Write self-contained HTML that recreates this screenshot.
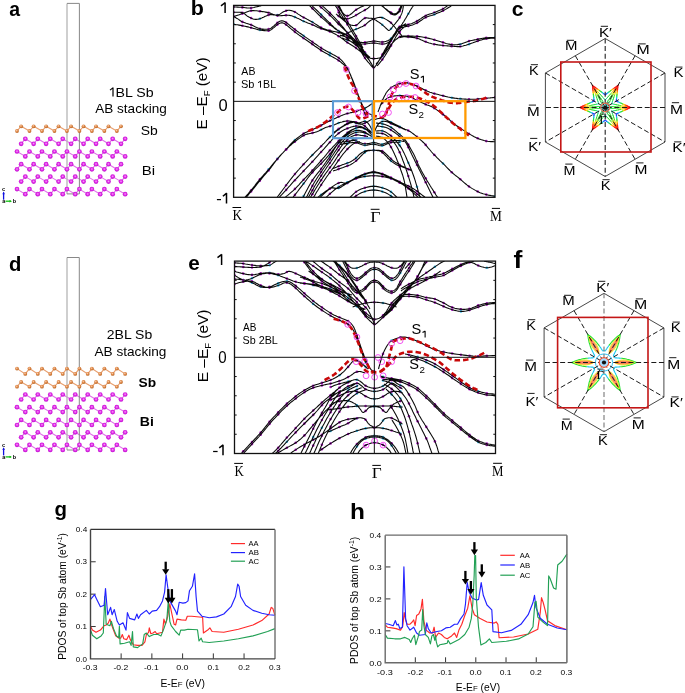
<!DOCTYPE html><html><head><meta charset="utf-8"><style>html,body{margin:0;padding:0;background:#fff;overflow:hidden;}svg{display:block;will-change:transform;}</style></head><body><svg width="685" height="693" viewBox="0 0 685 693">
<defs><radialGradient id="gbi" cx="0.5" cy="0.45" r="0.6"><stop offset="0" stop-color="#f7a8f7"/><stop offset="0.45" stop-color="#e028e8"/><stop offset="1" stop-color="#b810c8"/></radialGradient><radialGradient id="gsb" cx="0.42" cy="0.38" r="0.62"><stop offset="0" stop-color="#f8d0b0"/><stop offset="0.5" stop-color="#e08848"/><stop offset="1" stop-color="#b86828"/></radialGradient><clipPath id="clipb"><rect x="233.6" y="5.4" width="261.4" height="191.9"/></clipPath><clipPath id="clipe"><rect x="234.5" y="261.1" width="261" height="192.4"/></clipPath></defs>
<rect width="685" height="693" fill="#fff"/>
<text x="9.24" y="16.40" font-family='"Liberation Sans", sans-serif' font-size="20.5" font-weight="bold" textLength="10.83" lengthAdjust="spacingAndGlyphs" >a</text>
<text x="190.79" y="14.60" font-family='"Liberation Sans", sans-serif' font-size="20.5" font-weight="bold" textLength="13.09" lengthAdjust="spacingAndGlyphs" >b</text>
<text x="511.88" y="15.70" font-family='"Liberation Sans", sans-serif' font-size="20.5" font-weight="bold" textLength="11.74" lengthAdjust="spacingAndGlyphs" >c</text>
<text x="9.07" y="270.50" font-family='"Liberation Sans", sans-serif' font-size="20.5" font-weight="bold" textLength="12.36" lengthAdjust="spacingAndGlyphs" >d</text>
<text x="188.39" y="269.70" font-family='"Liberation Sans", sans-serif' font-size="20.5" font-weight="bold" textLength="11.51" lengthAdjust="spacingAndGlyphs" >e</text>
<text x="513.55" y="268.30" font-family='"Liberation Sans", sans-serif' font-size="23.3" font-weight="bold" textLength="8.90" lengthAdjust="spacingAndGlyphs" >f</text>
<text x="54.46" y="515.80" font-family='"Liberation Sans", sans-serif' font-size="20.8" font-weight="bold" textLength="12.51" lengthAdjust="spacingAndGlyphs" >g</text>
<text x="349.99" y="518.60" font-family='"Liberation Sans", sans-serif' font-size="22.3" font-weight="bold" textLength="14.92" lengthAdjust="spacingAndGlyphs" >h</text>
<path d="M17.0,131.0 21.1,126.3 29.5,131.0 33.6,126.3 42.0,131.0 46.1,126.3 54.4,131.0 58.6,126.3 66.9,131.0 71.1,126.3 79.4,131.0 83.6,126.3 91.9,131.0 96.0,126.3 104.4,131.0 108.5,126.3 116.8,131.0 121.0,126.3" fill="none" stroke="#e8a070" stroke-width="1.1"/>
<path d="M21.1,143.8 25.3,138.8 33.6,143.8 37.8,138.8 46.1,143.8 50.3,138.8 58.6,143.8 62.7,138.8 71.1,143.8 75.2,138.8 83.6,143.8 87.7,138.8 96.0,143.8 100.2,138.8 108.5,143.8 112.7,138.8 121.0,143.8 125.1,138.8" fill="none" stroke="#e070e8" stroke-width="1.1"/>
<path d="M17.0,151.5 25.3,156.4 29.5,151.5 37.8,156.4 42.0,151.5 50.3,156.4 54.4,151.5 62.7,156.4 66.9,151.5 75.2,156.4 79.4,151.5 87.7,156.4 91.9,151.5 100.2,156.4 104.4,151.5 112.7,156.4 116.8,151.5 125.1,156.4" fill="none" stroke="#e070e8" stroke-width="1.1"/>
<path d="M17.0,169.3 21.1,164.2 29.5,169.3 33.6,164.2 42.0,169.3 46.1,164.2 54.4,169.3 58.6,164.2 66.9,169.3 71.1,164.2 79.4,169.3 83.6,164.2 91.9,169.3 96.0,164.2 104.4,169.3 108.5,164.2 116.8,169.3 121.0,164.2" fill="none" stroke="#e070e8" stroke-width="1.1"/>
<path d="M21.1,181.6 25.3,176.6 33.6,181.6 37.8,176.6 46.1,181.6 50.3,176.6 58.6,181.6 62.7,176.6 71.1,181.6 75.2,176.6 83.6,181.6 87.7,176.6 96.0,181.6 100.2,176.6 108.5,181.6 112.7,176.6 121.0,181.6 125.1,176.6" fill="none" stroke="#e070e8" stroke-width="1.1"/>
<path d="M17.0,189.1 25.3,194.2 29.5,189.1 37.8,194.2 42.0,189.1 50.3,194.2 54.4,189.1 62.7,194.2 66.9,189.1 75.2,194.2 79.4,189.1 87.7,194.2 91.9,189.1 100.2,194.2 104.4,189.1 112.7,194.2 116.8,189.1 125.1,194.2" fill="none" stroke="#e070e8" stroke-width="1.1"/>
<line x1="67.0" y1="3.4" x2="67.0" y2="193.9" stroke="#bbb" stroke-width="1.4"/>
<path d="M67.0,3.4 L79.4,3.4 L79.4,193.9 L67.0,193.9" fill="none" stroke="#888" stroke-width="1"/>
<circle cx="17.00" cy="131.00" r="1.9" fill="url(#gsb)"/>
<circle cx="21.15" cy="126.30" r="1.9" fill="url(#gsb)"/>
<circle cx="29.48" cy="131.00" r="1.9" fill="url(#gsb)"/>
<circle cx="33.63" cy="126.30" r="1.9" fill="url(#gsb)"/>
<circle cx="41.96" cy="131.00" r="1.9" fill="url(#gsb)"/>
<circle cx="46.11" cy="126.30" r="1.9" fill="url(#gsb)"/>
<circle cx="54.44" cy="131.00" r="1.9" fill="url(#gsb)"/>
<circle cx="58.59" cy="126.30" r="1.9" fill="url(#gsb)"/>
<circle cx="66.92" cy="131.00" r="1.9" fill="url(#gsb)"/>
<circle cx="71.07" cy="126.30" r="1.9" fill="url(#gsb)"/>
<circle cx="79.40" cy="131.00" r="1.9" fill="url(#gsb)"/>
<circle cx="83.55" cy="126.30" r="1.9" fill="url(#gsb)"/>
<circle cx="91.88" cy="131.00" r="1.9" fill="url(#gsb)"/>
<circle cx="96.03" cy="126.30" r="1.9" fill="url(#gsb)"/>
<circle cx="104.36" cy="131.00" r="1.9" fill="url(#gsb)"/>
<circle cx="108.51" cy="126.30" r="1.9" fill="url(#gsb)"/>
<circle cx="116.84" cy="131.00" r="1.9" fill="url(#gsb)"/>
<circle cx="120.99" cy="126.30" r="1.9" fill="url(#gsb)"/>
<circle cx="21.15" cy="143.80" r="2.35" fill="url(#gbi)"/>
<circle cx="25.30" cy="138.80" r="2.35" fill="url(#gbi)"/>
<circle cx="33.63" cy="143.80" r="2.35" fill="url(#gbi)"/>
<circle cx="37.78" cy="138.80" r="2.35" fill="url(#gbi)"/>
<circle cx="46.11" cy="143.80" r="2.35" fill="url(#gbi)"/>
<circle cx="50.26" cy="138.80" r="2.35" fill="url(#gbi)"/>
<circle cx="58.59" cy="143.80" r="2.35" fill="url(#gbi)"/>
<circle cx="62.74" cy="138.80" r="2.35" fill="url(#gbi)"/>
<circle cx="71.07" cy="143.80" r="2.35" fill="url(#gbi)"/>
<circle cx="75.22" cy="138.80" r="2.35" fill="url(#gbi)"/>
<circle cx="83.55" cy="143.80" r="2.35" fill="url(#gbi)"/>
<circle cx="87.70" cy="138.80" r="2.35" fill="url(#gbi)"/>
<circle cx="96.03" cy="143.80" r="2.35" fill="url(#gbi)"/>
<circle cx="100.18" cy="138.80" r="2.35" fill="url(#gbi)"/>
<circle cx="108.51" cy="143.80" r="2.35" fill="url(#gbi)"/>
<circle cx="112.66" cy="138.80" r="2.35" fill="url(#gbi)"/>
<circle cx="120.99" cy="143.80" r="2.35" fill="url(#gbi)"/>
<circle cx="125.14" cy="138.80" r="2.35" fill="url(#gbi)"/>
<circle cx="17.00" cy="151.50" r="2.35" fill="url(#gbi)"/>
<circle cx="25.30" cy="156.40" r="2.35" fill="url(#gbi)"/>
<circle cx="29.48" cy="151.50" r="2.35" fill="url(#gbi)"/>
<circle cx="37.78" cy="156.40" r="2.35" fill="url(#gbi)"/>
<circle cx="41.96" cy="151.50" r="2.35" fill="url(#gbi)"/>
<circle cx="50.26" cy="156.40" r="2.35" fill="url(#gbi)"/>
<circle cx="54.44" cy="151.50" r="2.35" fill="url(#gbi)"/>
<circle cx="62.74" cy="156.40" r="2.35" fill="url(#gbi)"/>
<circle cx="66.92" cy="151.50" r="2.35" fill="url(#gbi)"/>
<circle cx="75.22" cy="156.40" r="2.35" fill="url(#gbi)"/>
<circle cx="79.40" cy="151.50" r="2.35" fill="url(#gbi)"/>
<circle cx="87.70" cy="156.40" r="2.35" fill="url(#gbi)"/>
<circle cx="91.88" cy="151.50" r="2.35" fill="url(#gbi)"/>
<circle cx="100.18" cy="156.40" r="2.35" fill="url(#gbi)"/>
<circle cx="104.36" cy="151.50" r="2.35" fill="url(#gbi)"/>
<circle cx="112.66" cy="156.40" r="2.35" fill="url(#gbi)"/>
<circle cx="116.84" cy="151.50" r="2.35" fill="url(#gbi)"/>
<circle cx="125.14" cy="156.40" r="2.35" fill="url(#gbi)"/>
<circle cx="17.00" cy="169.30" r="2.35" fill="url(#gbi)"/>
<circle cx="21.15" cy="164.20" r="2.35" fill="url(#gbi)"/>
<circle cx="29.48" cy="169.30" r="2.35" fill="url(#gbi)"/>
<circle cx="33.63" cy="164.20" r="2.35" fill="url(#gbi)"/>
<circle cx="41.96" cy="169.30" r="2.35" fill="url(#gbi)"/>
<circle cx="46.11" cy="164.20" r="2.35" fill="url(#gbi)"/>
<circle cx="54.44" cy="169.30" r="2.35" fill="url(#gbi)"/>
<circle cx="58.59" cy="164.20" r="2.35" fill="url(#gbi)"/>
<circle cx="66.92" cy="169.30" r="2.35" fill="url(#gbi)"/>
<circle cx="71.07" cy="164.20" r="2.35" fill="url(#gbi)"/>
<circle cx="79.40" cy="169.30" r="2.35" fill="url(#gbi)"/>
<circle cx="83.55" cy="164.20" r="2.35" fill="url(#gbi)"/>
<circle cx="91.88" cy="169.30" r="2.35" fill="url(#gbi)"/>
<circle cx="96.03" cy="164.20" r="2.35" fill="url(#gbi)"/>
<circle cx="104.36" cy="169.30" r="2.35" fill="url(#gbi)"/>
<circle cx="108.51" cy="164.20" r="2.35" fill="url(#gbi)"/>
<circle cx="116.84" cy="169.30" r="2.35" fill="url(#gbi)"/>
<circle cx="120.99" cy="164.20" r="2.35" fill="url(#gbi)"/>
<circle cx="21.15" cy="181.60" r="2.35" fill="url(#gbi)"/>
<circle cx="25.30" cy="176.60" r="2.35" fill="url(#gbi)"/>
<circle cx="33.63" cy="181.60" r="2.35" fill="url(#gbi)"/>
<circle cx="37.78" cy="176.60" r="2.35" fill="url(#gbi)"/>
<circle cx="46.11" cy="181.60" r="2.35" fill="url(#gbi)"/>
<circle cx="50.26" cy="176.60" r="2.35" fill="url(#gbi)"/>
<circle cx="58.59" cy="181.60" r="2.35" fill="url(#gbi)"/>
<circle cx="62.74" cy="176.60" r="2.35" fill="url(#gbi)"/>
<circle cx="71.07" cy="181.60" r="2.35" fill="url(#gbi)"/>
<circle cx="75.22" cy="176.60" r="2.35" fill="url(#gbi)"/>
<circle cx="83.55" cy="181.60" r="2.35" fill="url(#gbi)"/>
<circle cx="87.70" cy="176.60" r="2.35" fill="url(#gbi)"/>
<circle cx="96.03" cy="181.60" r="2.35" fill="url(#gbi)"/>
<circle cx="100.18" cy="176.60" r="2.35" fill="url(#gbi)"/>
<circle cx="108.51" cy="181.60" r="2.35" fill="url(#gbi)"/>
<circle cx="112.66" cy="176.60" r="2.35" fill="url(#gbi)"/>
<circle cx="120.99" cy="181.60" r="2.35" fill="url(#gbi)"/>
<circle cx="125.14" cy="176.60" r="2.35" fill="url(#gbi)"/>
<circle cx="17.00" cy="189.10" r="2.35" fill="url(#gbi)"/>
<circle cx="25.30" cy="194.20" r="2.35" fill="url(#gbi)"/>
<circle cx="29.48" cy="189.10" r="2.35" fill="url(#gbi)"/>
<circle cx="37.78" cy="194.20" r="2.35" fill="url(#gbi)"/>
<circle cx="41.96" cy="189.10" r="2.35" fill="url(#gbi)"/>
<circle cx="50.26" cy="194.20" r="2.35" fill="url(#gbi)"/>
<circle cx="54.44" cy="189.10" r="2.35" fill="url(#gbi)"/>
<circle cx="62.74" cy="194.20" r="2.35" fill="url(#gbi)"/>
<circle cx="66.92" cy="189.10" r="2.35" fill="url(#gbi)"/>
<circle cx="75.22" cy="194.20" r="2.35" fill="url(#gbi)"/>
<circle cx="79.40" cy="189.10" r="2.35" fill="url(#gbi)"/>
<circle cx="87.70" cy="194.20" r="2.35" fill="url(#gbi)"/>
<circle cx="91.88" cy="189.10" r="2.35" fill="url(#gbi)"/>
<circle cx="100.18" cy="194.20" r="2.35" fill="url(#gbi)"/>
<circle cx="104.36" cy="189.10" r="2.35" fill="url(#gbi)"/>
<circle cx="112.66" cy="194.20" r="2.35" fill="url(#gbi)"/>
<circle cx="116.84" cy="189.10" r="2.35" fill="url(#gbi)"/>
<circle cx="125.14" cy="194.20" r="2.35" fill="url(#gbi)"/>
<line x1="3.6" y1="199.7" x2="3.6" y2="192.5" stroke="#1010e0" stroke-width="1.3"/>
<path d="M2.4,194.2 L3.6,191.6 L4.8,194.2Z" fill="#1010e0"/>
<line x1="5.5" y1="201.2" x2="11" y2="201.2" stroke="#10c010" stroke-width="1.3"/>
<path d="M9.5,200 L12,201.2 L9.5,202.4Z" fill="#10c010"/>
<text x="2.00" y="190.80" font-family='"Liberation Sans", sans-serif' font-size="5.5" font-weight="bold" >c</text>
<text x="2.20" y="203.40" font-family='"Liberation Sans", sans-serif' font-size="5.5" font-weight="bold" >a</text>
<text x="12.80" y="203.40" font-family='"Liberation Sans", sans-serif' font-size="5.5" font-weight="bold" >b</text>
<path d="M113.00,96.60 L113.00,87.50 M113.20,87.60 L110.00,90.10" stroke="#000" stroke-width="1.2" fill="none" stroke-linecap="butt"/>
<text x="115.64" y="96.60" font-family='"Liberation Sans", sans-serif' font-size="13.3" textLength="38.06" lengthAdjust="spacingAndGlyphs" >BL Sb</text>
<text x="95.27" y="112.60" font-family='"Liberation Sans", sans-serif' font-size="13.3" textLength="71.50" lengthAdjust="spacingAndGlyphs" >AB stacking</text>
<text x="140.77" y="134.70" font-family='"Liberation Sans", sans-serif' font-size="13.3" textLength="17.01" lengthAdjust="spacingAndGlyphs" >Sb</text>
<text x="141.77" y="174.80" font-family='"Liberation Sans", sans-serif' font-size="13.3" textLength="13.34" lengthAdjust="spacingAndGlyphs" >Bi</text>
<path d="M17.0,368.6 25.3,373.9 29.5,368.6 37.8,373.9 42.0,368.6 50.3,373.9 54.4,368.6 62.7,373.9 66.9,368.6 75.2,373.9 79.4,368.6 87.7,373.9 91.9,368.6 100.2,373.9 104.4,368.6 112.7,373.9 116.8,368.6 125.1,373.9" fill="none" stroke="#e8a070" stroke-width="1.1"/>
<path d="M17.0,386.7 21.1,382.0 29.5,386.7 33.6,382.0 42.0,386.7 46.1,382.0 54.4,386.7 58.6,382.0 66.9,386.7 71.1,382.0 79.4,386.7 83.6,382.0 91.9,386.7 96.0,382.0 104.4,386.7 108.5,382.0 116.8,386.7 121.0,382.0" fill="none" stroke="#e8a070" stroke-width="1.1"/>
<path d="M21.1,399.5 25.3,394.5 33.6,399.5 37.8,394.5 46.1,399.5 50.3,394.5 58.6,399.5 62.7,394.5 71.1,399.5 75.2,394.5 83.6,399.5 87.7,394.5 96.0,399.5 100.2,394.5 108.5,399.5 112.7,394.5 121.0,399.5 125.1,394.5" fill="none" stroke="#e070e8" stroke-width="1.1"/>
<path d="M17.0,407.2 25.3,412.1 29.5,407.2 37.8,412.1 42.0,407.2 50.3,412.1 54.4,407.2 62.7,412.1 66.9,407.2 75.2,412.1 79.4,407.2 87.7,412.1 91.9,407.2 100.2,412.1 104.4,407.2 112.7,412.1 116.8,407.2 125.1,412.1" fill="none" stroke="#e070e8" stroke-width="1.1"/>
<path d="M17.0,425.0 21.1,419.9 29.5,425.0 33.6,419.9 42.0,425.0 46.1,419.9 54.4,425.0 58.6,419.9 66.9,425.0 71.1,419.9 79.4,425.0 83.6,419.9 91.9,425.0 96.0,419.9 104.4,425.0 108.5,419.9 116.8,425.0 121.0,419.9" fill="none" stroke="#e070e8" stroke-width="1.1"/>
<path d="M21.1,437.3 25.3,432.3 33.6,437.3 37.8,432.3 46.1,437.3 50.3,432.3 58.6,437.3 62.7,432.3 71.1,437.3 75.2,432.3 83.6,437.3 87.7,432.3 96.0,437.3 100.2,432.3 108.5,437.3 112.7,432.3 121.0,437.3 125.1,432.3" fill="none" stroke="#e070e8" stroke-width="1.1"/>
<path d="M17.0,444.8 25.3,449.9 29.5,444.8 37.8,449.9 42.0,444.8 50.3,449.9 54.4,444.8 62.7,449.9 66.9,444.8 75.2,449.9 79.4,444.8 87.7,449.9 91.9,444.8 100.2,449.9 104.4,444.8 112.7,449.9 116.8,444.8 125.1,449.9" fill="none" stroke="#e070e8" stroke-width="1.1"/>
<line x1="67.0" y1="257.5" x2="67.0" y2="450.0" stroke="#bbb" stroke-width="1.4"/>
<path d="M67.0,257.5 L79.3,257.5 L79.3,450.0 L67.0,450.0" fill="none" stroke="#888" stroke-width="1"/>
<circle cx="17.00" cy="368.60" r="1.9" fill="url(#gsb)"/>
<circle cx="25.30" cy="373.90" r="1.9" fill="url(#gsb)"/>
<circle cx="29.48" cy="368.60" r="1.9" fill="url(#gsb)"/>
<circle cx="37.78" cy="373.90" r="1.9" fill="url(#gsb)"/>
<circle cx="41.96" cy="368.60" r="1.9" fill="url(#gsb)"/>
<circle cx="50.26" cy="373.90" r="1.9" fill="url(#gsb)"/>
<circle cx="54.44" cy="368.60" r="1.9" fill="url(#gsb)"/>
<circle cx="62.74" cy="373.90" r="1.9" fill="url(#gsb)"/>
<circle cx="66.92" cy="368.60" r="1.9" fill="url(#gsb)"/>
<circle cx="75.22" cy="373.90" r="1.9" fill="url(#gsb)"/>
<circle cx="79.40" cy="368.60" r="1.9" fill="url(#gsb)"/>
<circle cx="87.70" cy="373.90" r="1.9" fill="url(#gsb)"/>
<circle cx="91.88" cy="368.60" r="1.9" fill="url(#gsb)"/>
<circle cx="100.18" cy="373.90" r="1.9" fill="url(#gsb)"/>
<circle cx="104.36" cy="368.60" r="1.9" fill="url(#gsb)"/>
<circle cx="112.66" cy="373.90" r="1.9" fill="url(#gsb)"/>
<circle cx="116.84" cy="368.60" r="1.9" fill="url(#gsb)"/>
<circle cx="125.14" cy="373.90" r="1.9" fill="url(#gsb)"/>
<circle cx="17.00" cy="386.70" r="1.9" fill="url(#gsb)"/>
<circle cx="21.15" cy="382.00" r="1.9" fill="url(#gsb)"/>
<circle cx="29.48" cy="386.70" r="1.9" fill="url(#gsb)"/>
<circle cx="33.63" cy="382.00" r="1.9" fill="url(#gsb)"/>
<circle cx="41.96" cy="386.70" r="1.9" fill="url(#gsb)"/>
<circle cx="46.11" cy="382.00" r="1.9" fill="url(#gsb)"/>
<circle cx="54.44" cy="386.70" r="1.9" fill="url(#gsb)"/>
<circle cx="58.59" cy="382.00" r="1.9" fill="url(#gsb)"/>
<circle cx="66.92" cy="386.70" r="1.9" fill="url(#gsb)"/>
<circle cx="71.07" cy="382.00" r="1.9" fill="url(#gsb)"/>
<circle cx="79.40" cy="386.70" r="1.9" fill="url(#gsb)"/>
<circle cx="83.55" cy="382.00" r="1.9" fill="url(#gsb)"/>
<circle cx="91.88" cy="386.70" r="1.9" fill="url(#gsb)"/>
<circle cx="96.03" cy="382.00" r="1.9" fill="url(#gsb)"/>
<circle cx="104.36" cy="386.70" r="1.9" fill="url(#gsb)"/>
<circle cx="108.51" cy="382.00" r="1.9" fill="url(#gsb)"/>
<circle cx="116.84" cy="386.70" r="1.9" fill="url(#gsb)"/>
<circle cx="120.99" cy="382.00" r="1.9" fill="url(#gsb)"/>
<circle cx="21.15" cy="399.50" r="2.35" fill="url(#gbi)"/>
<circle cx="25.30" cy="394.50" r="2.35" fill="url(#gbi)"/>
<circle cx="33.63" cy="399.50" r="2.35" fill="url(#gbi)"/>
<circle cx="37.78" cy="394.50" r="2.35" fill="url(#gbi)"/>
<circle cx="46.11" cy="399.50" r="2.35" fill="url(#gbi)"/>
<circle cx="50.26" cy="394.50" r="2.35" fill="url(#gbi)"/>
<circle cx="58.59" cy="399.50" r="2.35" fill="url(#gbi)"/>
<circle cx="62.74" cy="394.50" r="2.35" fill="url(#gbi)"/>
<circle cx="71.07" cy="399.50" r="2.35" fill="url(#gbi)"/>
<circle cx="75.22" cy="394.50" r="2.35" fill="url(#gbi)"/>
<circle cx="83.55" cy="399.50" r="2.35" fill="url(#gbi)"/>
<circle cx="87.70" cy="394.50" r="2.35" fill="url(#gbi)"/>
<circle cx="96.03" cy="399.50" r="2.35" fill="url(#gbi)"/>
<circle cx="100.18" cy="394.50" r="2.35" fill="url(#gbi)"/>
<circle cx="108.51" cy="399.50" r="2.35" fill="url(#gbi)"/>
<circle cx="112.66" cy="394.50" r="2.35" fill="url(#gbi)"/>
<circle cx="120.99" cy="399.50" r="2.35" fill="url(#gbi)"/>
<circle cx="125.14" cy="394.50" r="2.35" fill="url(#gbi)"/>
<circle cx="17.00" cy="407.20" r="2.35" fill="url(#gbi)"/>
<circle cx="25.30" cy="412.10" r="2.35" fill="url(#gbi)"/>
<circle cx="29.48" cy="407.20" r="2.35" fill="url(#gbi)"/>
<circle cx="37.78" cy="412.10" r="2.35" fill="url(#gbi)"/>
<circle cx="41.96" cy="407.20" r="2.35" fill="url(#gbi)"/>
<circle cx="50.26" cy="412.10" r="2.35" fill="url(#gbi)"/>
<circle cx="54.44" cy="407.20" r="2.35" fill="url(#gbi)"/>
<circle cx="62.74" cy="412.10" r="2.35" fill="url(#gbi)"/>
<circle cx="66.92" cy="407.20" r="2.35" fill="url(#gbi)"/>
<circle cx="75.22" cy="412.10" r="2.35" fill="url(#gbi)"/>
<circle cx="79.40" cy="407.20" r="2.35" fill="url(#gbi)"/>
<circle cx="87.70" cy="412.10" r="2.35" fill="url(#gbi)"/>
<circle cx="91.88" cy="407.20" r="2.35" fill="url(#gbi)"/>
<circle cx="100.18" cy="412.10" r="2.35" fill="url(#gbi)"/>
<circle cx="104.36" cy="407.20" r="2.35" fill="url(#gbi)"/>
<circle cx="112.66" cy="412.10" r="2.35" fill="url(#gbi)"/>
<circle cx="116.84" cy="407.20" r="2.35" fill="url(#gbi)"/>
<circle cx="125.14" cy="412.10" r="2.35" fill="url(#gbi)"/>
<circle cx="17.00" cy="425.00" r="2.35" fill="url(#gbi)"/>
<circle cx="21.15" cy="419.90" r="2.35" fill="url(#gbi)"/>
<circle cx="29.48" cy="425.00" r="2.35" fill="url(#gbi)"/>
<circle cx="33.63" cy="419.90" r="2.35" fill="url(#gbi)"/>
<circle cx="41.96" cy="425.00" r="2.35" fill="url(#gbi)"/>
<circle cx="46.11" cy="419.90" r="2.35" fill="url(#gbi)"/>
<circle cx="54.44" cy="425.00" r="2.35" fill="url(#gbi)"/>
<circle cx="58.59" cy="419.90" r="2.35" fill="url(#gbi)"/>
<circle cx="66.92" cy="425.00" r="2.35" fill="url(#gbi)"/>
<circle cx="71.07" cy="419.90" r="2.35" fill="url(#gbi)"/>
<circle cx="79.40" cy="425.00" r="2.35" fill="url(#gbi)"/>
<circle cx="83.55" cy="419.90" r="2.35" fill="url(#gbi)"/>
<circle cx="91.88" cy="425.00" r="2.35" fill="url(#gbi)"/>
<circle cx="96.03" cy="419.90" r="2.35" fill="url(#gbi)"/>
<circle cx="104.36" cy="425.00" r="2.35" fill="url(#gbi)"/>
<circle cx="108.51" cy="419.90" r="2.35" fill="url(#gbi)"/>
<circle cx="116.84" cy="425.00" r="2.35" fill="url(#gbi)"/>
<circle cx="120.99" cy="419.90" r="2.35" fill="url(#gbi)"/>
<circle cx="21.15" cy="437.30" r="2.35" fill="url(#gbi)"/>
<circle cx="25.30" cy="432.30" r="2.35" fill="url(#gbi)"/>
<circle cx="33.63" cy="437.30" r="2.35" fill="url(#gbi)"/>
<circle cx="37.78" cy="432.30" r="2.35" fill="url(#gbi)"/>
<circle cx="46.11" cy="437.30" r="2.35" fill="url(#gbi)"/>
<circle cx="50.26" cy="432.30" r="2.35" fill="url(#gbi)"/>
<circle cx="58.59" cy="437.30" r="2.35" fill="url(#gbi)"/>
<circle cx="62.74" cy="432.30" r="2.35" fill="url(#gbi)"/>
<circle cx="71.07" cy="437.30" r="2.35" fill="url(#gbi)"/>
<circle cx="75.22" cy="432.30" r="2.35" fill="url(#gbi)"/>
<circle cx="83.55" cy="437.30" r="2.35" fill="url(#gbi)"/>
<circle cx="87.70" cy="432.30" r="2.35" fill="url(#gbi)"/>
<circle cx="96.03" cy="437.30" r="2.35" fill="url(#gbi)"/>
<circle cx="100.18" cy="432.30" r="2.35" fill="url(#gbi)"/>
<circle cx="108.51" cy="437.30" r="2.35" fill="url(#gbi)"/>
<circle cx="112.66" cy="432.30" r="2.35" fill="url(#gbi)"/>
<circle cx="120.99" cy="437.30" r="2.35" fill="url(#gbi)"/>
<circle cx="125.14" cy="432.30" r="2.35" fill="url(#gbi)"/>
<circle cx="17.00" cy="444.80" r="2.35" fill="url(#gbi)"/>
<circle cx="25.30" cy="449.90" r="2.35" fill="url(#gbi)"/>
<circle cx="29.48" cy="444.80" r="2.35" fill="url(#gbi)"/>
<circle cx="37.78" cy="449.90" r="2.35" fill="url(#gbi)"/>
<circle cx="41.96" cy="444.80" r="2.35" fill="url(#gbi)"/>
<circle cx="50.26" cy="449.90" r="2.35" fill="url(#gbi)"/>
<circle cx="54.44" cy="444.80" r="2.35" fill="url(#gbi)"/>
<circle cx="62.74" cy="449.90" r="2.35" fill="url(#gbi)"/>
<circle cx="66.92" cy="444.80" r="2.35" fill="url(#gbi)"/>
<circle cx="75.22" cy="449.90" r="2.35" fill="url(#gbi)"/>
<circle cx="79.40" cy="444.80" r="2.35" fill="url(#gbi)"/>
<circle cx="87.70" cy="449.90" r="2.35" fill="url(#gbi)"/>
<circle cx="91.88" cy="444.80" r="2.35" fill="url(#gbi)"/>
<circle cx="100.18" cy="449.90" r="2.35" fill="url(#gbi)"/>
<circle cx="104.36" cy="444.80" r="2.35" fill="url(#gbi)"/>
<circle cx="112.66" cy="449.90" r="2.35" fill="url(#gbi)"/>
<circle cx="116.84" cy="444.80" r="2.35" fill="url(#gbi)"/>
<circle cx="125.14" cy="449.90" r="2.35" fill="url(#gbi)"/>
<line x1="3.6" y1="455.4" x2="3.6" y2="448.2" stroke="#1010e0" stroke-width="1.3"/>
<path d="M2.4,449.9 L3.6,447.29999999999995 L4.8,449.9Z" fill="#1010e0"/>
<line x1="5.5" y1="456.9" x2="11" y2="456.9" stroke="#10c010" stroke-width="1.3"/>
<path d="M9.5,455.7 L12,456.9 L9.5,458.1Z" fill="#10c010"/>
<text x="2.00" y="446.50" font-family='"Liberation Sans", sans-serif' font-size="5.5" font-weight="bold" >c</text>
<text x="2.20" y="459.10" font-family='"Liberation Sans", sans-serif' font-size="5.5" font-weight="bold" >a</text>
<text x="12.80" y="459.10" font-family='"Liberation Sans", sans-serif' font-size="5.5" font-weight="bold" >b</text>
<text x="106.80" y="339.00" font-family='"Liberation Sans", sans-serif' font-size="13.3" textLength="45.39" lengthAdjust="spacingAndGlyphs" >2BL Sb</text>
<text x="94.47" y="355.50" font-family='"Liberation Sans", sans-serif' font-size="13.3" textLength="71.90" lengthAdjust="spacingAndGlyphs" >AB stacking</text>
<text x="138.60" y="387.00" font-family='"Liberation Sans", sans-serif' font-size="13.3" font-weight="bold" textLength="17.56" lengthAdjust="spacingAndGlyphs" >Sb</text>
<text x="139.76" y="425.90" font-family='"Liberation Sans", sans-serif' font-size="13.3" font-weight="bold" textLength="14.04" lengthAdjust="spacingAndGlyphs" >Bi</text>
<g clip-path="url(#clipb)">
<circle cx="233.6" cy="6.9" r="1.3" fill="#b018c8"/>
<circle cx="242.4" cy="7.4" r="1.3" fill="#b018c8"/>
<circle cx="251.1" cy="8.0" r="1.3" fill="#b018c8"/>
<circle cx="233.6" cy="12.2" r="1.3" fill="#b018c8"/>
<circle cx="242.4" cy="12.7" r="1.3" fill="#b018c8"/>
<circle cx="251.1" cy="18.1" r="1.3" fill="#b018c8"/>
<circle cx="259.9" cy="18.7" r="1.3" fill="#38c0ee"/>
<circle cx="268.6" cy="14.9" r="1.3" fill="#b018c8"/>
<circle cx="277.4" cy="15.0" r="1.3" fill="#38c0ee"/>
<circle cx="286.1" cy="10.7" r="1.3" fill="#b018c8"/>
<circle cx="294.9" cy="12.0" r="1.3" fill="#b018c8"/>
<circle cx="303.6" cy="17.5" r="1.3" fill="#b018c8"/>
<circle cx="312.4" cy="22.0" r="1.3" fill="#38c0ee"/>
<circle cx="321.1" cy="27.6" r="1.3" fill="#b018c8"/>
<circle cx="329.9" cy="30.5" r="1.3" fill="#b018c8"/>
<circle cx="338.6" cy="32.6" r="1.3" fill="#b018c8"/>
<circle cx="347.4" cy="36.0" r="1.3" fill="#b018c8"/>
<circle cx="356.1" cy="44.0" r="1.3" fill="#b018c8"/>
<circle cx="364.9" cy="58.0" r="1.3" fill="#b018c8"/>
<circle cx="373.6" cy="67.6" r="1.3" fill="#b018c8"/>
<circle cx="382.3" cy="54.6" r="1.3" fill="#b018c8"/>
<circle cx="391.0" cy="40.1" r="1.3" fill="#38c0ee"/>
<circle cx="399.7" cy="27.8" r="1.3" fill="#b018c8"/>
<circle cx="408.3" cy="13.8" r="1.3" fill="#38c0ee"/>
<circle cx="233.6" cy="16.5" r="1.3" fill="#b018c8"/>
<circle cx="242.4" cy="13.7" r="1.3" fill="#b018c8"/>
<circle cx="251.1" cy="10.7" r="1.3" fill="#b018c8"/>
<circle cx="259.9" cy="11.2" r="1.3" fill="#b018c8"/>
<circle cx="268.6" cy="12.7" r="1.3" fill="#b018c8"/>
<circle cx="277.4" cy="15.6" r="1.3" fill="#b018c8"/>
<circle cx="286.1" cy="15.3" r="1.3" fill="#b018c8"/>
<circle cx="294.9" cy="17.1" r="1.3" fill="#38c0ee"/>
<circle cx="303.6" cy="21.3" r="1.3" fill="#38c0ee"/>
<circle cx="312.4" cy="24.7" r="1.3" fill="#b018c8"/>
<circle cx="321.1" cy="28.6" r="1.3" fill="#b018c8"/>
<circle cx="329.9" cy="31.6" r="1.3" fill="#b018c8"/>
<circle cx="338.6" cy="36.2" r="1.3" fill="#b018c8"/>
<circle cx="347.4" cy="42.5" r="1.3" fill="#b018c8"/>
<circle cx="356.1" cy="48.1" r="1.3" fill="#b018c8"/>
<circle cx="364.9" cy="55.2" r="1.3" fill="#b018c8"/>
<circle cx="373.6" cy="58.6" r="1.3" fill="#b018c8"/>
<circle cx="382.3" cy="56.2" r="1.3" fill="#38c0ee"/>
<circle cx="391.0" cy="44.8" r="1.3" fill="#b018c8"/>
<circle cx="399.7" cy="36.9" r="1.3" fill="#b018c8"/>
<circle cx="408.3" cy="36.0" r="1.3" fill="#b018c8"/>
<circle cx="417.0" cy="36.4" r="1.3" fill="#b018c8"/>
<circle cx="425.7" cy="37.6" r="1.3" fill="#b018c8"/>
<circle cx="434.3" cy="39.8" r="1.3" fill="#b018c8"/>
<circle cx="443.0" cy="42.4" r="1.3" fill="#b018c8"/>
<circle cx="451.7" cy="44.6" r="1.3" fill="#b018c8"/>
<circle cx="460.3" cy="44.2" r="1.3" fill="#38c0ee"/>
<circle cx="469.0" cy="41.1" r="1.3" fill="#b018c8"/>
<circle cx="477.7" cy="39.3" r="1.3" fill="#b018c8"/>
<circle cx="486.3" cy="37.7" r="1.3" fill="#b018c8"/>
<circle cx="495.0" cy="37.5" r="1.3" fill="#38c0ee"/>
<circle cx="408.3" cy="37.0" r="1.3" fill="#b018c8"/>
<circle cx="417.0" cy="38.2" r="1.3" fill="#b018c8"/>
<circle cx="425.7" cy="41.7" r="1.3" fill="#b018c8"/>
<circle cx="434.3" cy="44.2" r="1.3" fill="#b018c8"/>
<circle cx="443.0" cy="45.5" r="1.3" fill="#b018c8"/>
<circle cx="451.7" cy="46.2" r="1.3" fill="#b018c8"/>
<circle cx="460.3" cy="46.5" r="1.3" fill="#b018c8"/>
<circle cx="469.0" cy="44.2" r="1.3" fill="#38c0ee"/>
<circle cx="477.7" cy="41.0" r="1.3" fill="#b018c8"/>
<circle cx="486.3" cy="38.7" r="1.3" fill="#b018c8"/>
<circle cx="495.0" cy="38.0" r="1.3" fill="#b018c8"/>
<circle cx="233.6" cy="16.5" r="1.3" fill="#b018c8"/>
<circle cx="242.4" cy="21.9" r="1.3" fill="#b018c8"/>
<circle cx="251.1" cy="24.8" r="1.3" fill="#b018c8"/>
<circle cx="259.9" cy="28.7" r="1.3" fill="#b018c8"/>
<circle cx="268.6" cy="29.1" r="1.3" fill="#b018c8"/>
<circle cx="277.4" cy="22.8" r="1.3" fill="#b018c8"/>
<circle cx="286.1" cy="22.5" r="1.3" fill="#b018c8"/>
<circle cx="294.9" cy="29.4" r="1.3" fill="#b018c8"/>
<circle cx="303.6" cy="35.8" r="1.3" fill="#38c0ee"/>
<circle cx="312.4" cy="41.9" r="1.3" fill="#b018c8"/>
<circle cx="321.1" cy="47.9" r="1.3" fill="#b018c8"/>
<circle cx="329.9" cy="52.9" r="1.3" fill="#38c0ee"/>
<circle cx="338.6" cy="57.8" r="1.3" fill="#b018c8"/>
<circle cx="347.4" cy="68.2" r="1.3" fill="#b018c8"/>
<circle cx="356.1" cy="90.4" r="1.3" fill="#38c0ee"/>
<circle cx="364.9" cy="109.4" r="1.3" fill="#38c0ee"/>
<circle cx="233.6" cy="24.2" r="1.3" fill="#38c0ee"/>
<circle cx="242.4" cy="25.7" r="1.3" fill="#b018c8"/>
<circle cx="251.1" cy="27.7" r="1.3" fill="#b018c8"/>
<circle cx="259.9" cy="30.0" r="1.3" fill="#38c0ee"/>
<circle cx="268.6" cy="30.7" r="1.3" fill="#b018c8"/>
<circle cx="277.4" cy="24.6" r="1.3" fill="#b018c8"/>
<circle cx="286.1" cy="24.8" r="1.3" fill="#b018c8"/>
<circle cx="294.9" cy="31.9" r="1.3" fill="#b018c8"/>
<circle cx="303.6" cy="38.2" r="1.3" fill="#b018c8"/>
<circle cx="312.4" cy="44.3" r="1.3" fill="#b018c8"/>
<circle cx="321.1" cy="50.4" r="1.3" fill="#b018c8"/>
<circle cx="329.9" cy="55.4" r="1.3" fill="#38c0ee"/>
<circle cx="338.6" cy="60.5" r="1.3" fill="#b018c8"/>
<circle cx="347.4" cy="69.0" r="1.3" fill="#38c0ee"/>
<circle cx="356.1" cy="89.0" r="1.3" fill="#b018c8"/>
<circle cx="364.9" cy="113.5" r="1.3" fill="#b018c8"/>
<circle cx="347.4" cy="15.9" r="1.3" fill="#b018c8"/>
<circle cx="356.1" cy="9.7" r="1.3" fill="#b018c8"/>
<circle cx="338.6" cy="12.3" r="1.3" fill="#b018c8"/>
<circle cx="347.4" cy="18.8" r="1.3" fill="#b018c8"/>
<circle cx="356.1" cy="15.1" r="1.3" fill="#b018c8"/>
<circle cx="364.9" cy="10.1" r="1.3" fill="#b018c8"/>
<circle cx="391.0" cy="12.6" r="1.3" fill="#b018c8"/>
<circle cx="399.7" cy="9.3" r="1.3" fill="#b018c8"/>
<circle cx="391.0" cy="13.5" r="1.3" fill="#b018c8"/>
<circle cx="399.7" cy="11.3" r="1.3" fill="#b018c8"/>
<circle cx="347.4" cy="33.3" r="1.3" fill="#38c0ee"/>
<circle cx="356.1" cy="29.1" r="1.3" fill="#38c0ee"/>
<circle cx="364.9" cy="25.1" r="1.3" fill="#b018c8"/>
<circle cx="373.6" cy="19.0" r="1.3" fill="#b018c8"/>
<circle cx="382.3" cy="17.7" r="1.3" fill="#38c0ee"/>
<circle cx="391.0" cy="22.8" r="1.3" fill="#b018c8"/>
<circle cx="399.7" cy="33.0" r="1.3" fill="#b018c8"/>
<circle cx="338.6" cy="16.1" r="1.3" fill="#b018c8"/>
<circle cx="347.4" cy="23.2" r="1.3" fill="#38c0ee"/>
<circle cx="356.1" cy="25.2" r="1.3" fill="#b018c8"/>
<circle cx="364.9" cy="18.1" r="1.3" fill="#b018c8"/>
<circle cx="373.6" cy="19.0" r="1.3" fill="#b018c8"/>
<circle cx="382.3" cy="24.8" r="1.3" fill="#38c0ee"/>
<circle cx="391.0" cy="28.8" r="1.3" fill="#38c0ee"/>
<circle cx="399.7" cy="17.6" r="1.3" fill="#b018c8"/>
<circle cx="347.4" cy="37.5" r="1.3" fill="#b018c8"/>
<circle cx="356.1" cy="41.5" r="1.3" fill="#b018c8"/>
<circle cx="364.9" cy="42.4" r="1.3" fill="#b018c8"/>
<circle cx="373.6" cy="41.1" r="1.3" fill="#b018c8"/>
<circle cx="382.3" cy="42.0" r="1.3" fill="#b018c8"/>
<circle cx="391.0" cy="38.5" r="1.3" fill="#38c0ee"/>
<circle cx="399.7" cy="26.6" r="1.3" fill="#b018c8"/>
<circle cx="408.3" cy="24.5" r="1.3" fill="#b018c8"/>
<circle cx="417.0" cy="21.0" r="1.3" fill="#b018c8"/>
<circle cx="425.7" cy="15.7" r="1.3" fill="#b018c8"/>
<circle cx="434.3" cy="12.5" r="1.3" fill="#b018c8"/>
<circle cx="443.0" cy="8.8" r="1.3" fill="#b018c8"/>
<circle cx="347.4" cy="40.0" r="1.3" fill="#38c0ee"/>
<circle cx="356.1" cy="43.3" r="1.3" fill="#b018c8"/>
<circle cx="364.9" cy="43.9" r="1.3" fill="#b018c8"/>
<circle cx="373.6" cy="43.0" r="1.3" fill="#b018c8"/>
<circle cx="382.3" cy="44.0" r="1.3" fill="#b018c8"/>
<circle cx="391.0" cy="40.0" r="1.3" fill="#38c0ee"/>
<circle cx="399.7" cy="28.4" r="1.3" fill="#b018c8"/>
<circle cx="408.3" cy="26.1" r="1.3" fill="#b018c8"/>
<circle cx="417.0" cy="23.0" r="1.3" fill="#b018c8"/>
<circle cx="425.7" cy="17.5" r="1.3" fill="#b018c8"/>
<circle cx="434.3" cy="14.5" r="1.3" fill="#38c0ee"/>
<circle cx="443.0" cy="10.7" r="1.3" fill="#b018c8"/>
<circle cx="312.4" cy="8.4" r="1.3" fill="#b018c8"/>
<circle cx="321.1" cy="16.9" r="1.3" fill="#b018c8"/>
<circle cx="329.9" cy="24.6" r="1.3" fill="#b018c8"/>
<circle cx="338.6" cy="31.0" r="1.3" fill="#b018c8"/>
<circle cx="347.4" cy="35.4" r="1.3" fill="#b018c8"/>
<circle cx="356.1" cy="42.6" r="1.3" fill="#b018c8"/>
<circle cx="364.9" cy="52.5" r="1.3" fill="#b018c8"/>
<circle cx="321.1" cy="14.6" r="1.3" fill="#38c0ee"/>
<circle cx="329.9" cy="23.3" r="1.3" fill="#b018c8"/>
<circle cx="338.6" cy="31.0" r="1.3" fill="#38c0ee"/>
<circle cx="347.4" cy="38.6" r="1.3" fill="#b018c8"/>
<circle cx="356.1" cy="45.3" r="1.3" fill="#b018c8"/>
<circle cx="364.9" cy="52.8" r="1.3" fill="#b018c8"/>
<circle cx="321.1" cy="7.5" r="1.3" fill="#b018c8"/>
<circle cx="329.9" cy="15.2" r="1.3" fill="#b018c8"/>
<circle cx="338.6" cy="24.1" r="1.3" fill="#b018c8"/>
<circle cx="347.4" cy="32.7" r="1.3" fill="#38c0ee"/>
<circle cx="356.1" cy="41.3" r="1.3" fill="#b018c8"/>
<circle cx="364.9" cy="52.6" r="1.3" fill="#b018c8"/>
<circle cx="329.9" cy="12.9" r="1.3" fill="#b018c8"/>
<circle cx="338.6" cy="22.1" r="1.3" fill="#b018c8"/>
<circle cx="347.4" cy="32.7" r="1.3" fill="#b018c8"/>
<circle cx="356.1" cy="43.6" r="1.3" fill="#b018c8"/>
<circle cx="364.9" cy="55.1" r="1.3" fill="#b018c8"/>
<circle cx="338.6" cy="10.6" r="1.3" fill="#b018c8"/>
<circle cx="347.4" cy="24.5" r="1.3" fill="#b018c8"/>
<circle cx="356.1" cy="38.8" r="1.3" fill="#b018c8"/>
<circle cx="364.9" cy="53.3" r="1.3" fill="#38c0ee"/>
<circle cx="338.6" cy="7.3" r="1.3" fill="#b018c8"/>
<circle cx="347.4" cy="21.4" r="1.3" fill="#b018c8"/>
<circle cx="356.1" cy="36.0" r="1.3" fill="#b018c8"/>
<circle cx="382.3" cy="56.1" r="1.3" fill="#b018c8"/>
<circle cx="391.0" cy="41.0" r="1.3" fill="#b018c8"/>
<circle cx="399.7" cy="28.4" r="1.3" fill="#b018c8"/>
<circle cx="382.3" cy="59.6" r="1.3" fill="#b018c8"/>
<circle cx="391.0" cy="45.7" r="1.3" fill="#b018c8"/>
<circle cx="399.7" cy="31.4" r="1.3" fill="#b018c8"/>
<circle cx="382.3" cy="100.8" r="1.3" fill="#b018c8"/>
<circle cx="391.0" cy="87.8" r="1.3" fill="#b018c8"/>
<circle cx="399.7" cy="83.6" r="1.3" fill="#b018c8"/>
<circle cx="408.3" cy="83.1" r="1.3" fill="#38c0ee"/>
<circle cx="417.0" cy="86.1" r="1.3" fill="#b018c8"/>
<circle cx="425.7" cy="90.4" r="1.3" fill="#b018c8"/>
<circle cx="434.3" cy="93.6" r="1.3" fill="#b018c8"/>
<circle cx="443.0" cy="95.8" r="1.3" fill="#b018c8"/>
<circle cx="451.7" cy="97.7" r="1.3" fill="#38c0ee"/>
<circle cx="460.3" cy="98.8" r="1.3" fill="#38c0ee"/>
<circle cx="469.0" cy="99.2" r="1.3" fill="#b018c8"/>
<circle cx="477.7" cy="99.0" r="1.3" fill="#b018c8"/>
<circle cx="486.3" cy="98.2" r="1.3" fill="#b018c8"/>
<circle cx="495.0" cy="97.4" r="1.3" fill="#b018c8"/>
<circle cx="382.3" cy="102.9" r="1.3" fill="#b018c8"/>
<circle cx="391.0" cy="96.7" r="1.3" fill="#b018c8"/>
<circle cx="399.7" cy="95.5" r="1.3" fill="#38c0ee"/>
<circle cx="408.3" cy="96.5" r="1.3" fill="#38c0ee"/>
<circle cx="417.0" cy="100.4" r="1.3" fill="#b018c8"/>
<circle cx="425.7" cy="104.4" r="1.3" fill="#b018c8"/>
<circle cx="434.3" cy="108.2" r="1.3" fill="#b018c8"/>
<circle cx="443.0" cy="114.4" r="1.3" fill="#b018c8"/>
<circle cx="451.7" cy="121.7" r="1.3" fill="#b018c8"/>
<circle cx="460.3" cy="128.2" r="1.3" fill="#b018c8"/>
<circle cx="469.0" cy="133.8" r="1.3" fill="#b018c8"/>
<circle cx="477.7" cy="138.3" r="1.3" fill="#b018c8"/>
<circle cx="486.3" cy="141.1" r="1.3" fill="#b018c8"/>
<circle cx="251.1" cy="190.2" r="1.3" fill="#b018c8"/>
<circle cx="259.9" cy="179.3" r="1.3" fill="#b018c8"/>
<circle cx="268.6" cy="169.4" r="1.3" fill="#38c0ee"/>
<circle cx="277.4" cy="158.9" r="1.3" fill="#38c0ee"/>
<circle cx="286.1" cy="149.5" r="1.3" fill="#b018c8"/>
<circle cx="294.9" cy="141.7" r="1.3" fill="#b018c8"/>
<circle cx="303.6" cy="135.5" r="1.3" fill="#b018c8"/>
<circle cx="312.4" cy="132.9" r="1.3" fill="#b018c8"/>
<circle cx="321.1" cy="129.7" r="1.3" fill="#38c0ee"/>
<circle cx="329.9" cy="126.3" r="1.3" fill="#b018c8"/>
<circle cx="338.6" cy="123.0" r="1.3" fill="#38c0ee"/>
<circle cx="347.4" cy="121.0" r="1.3" fill="#b018c8"/>
<circle cx="356.1" cy="123.2" r="1.3" fill="#38c0ee"/>
<circle cx="364.9" cy="123.1" r="1.3" fill="#b018c8"/>
<circle cx="251.1" cy="191.5" r="1.3" fill="#b018c8"/>
<circle cx="259.9" cy="180.7" r="1.3" fill="#b018c8"/>
<circle cx="268.6" cy="170.4" r="1.3" fill="#b018c8"/>
<circle cx="277.4" cy="159.1" r="1.3" fill="#b018c8"/>
<circle cx="286.1" cy="149.4" r="1.3" fill="#b018c8"/>
<circle cx="294.9" cy="140.1" r="1.3" fill="#38c0ee"/>
<circle cx="303.6" cy="133.6" r="1.3" fill="#b018c8"/>
<circle cx="312.4" cy="129.7" r="1.3" fill="#b018c8"/>
<circle cx="321.1" cy="125.4" r="1.3" fill="#b018c8"/>
<circle cx="329.9" cy="120.8" r="1.3" fill="#b018c8"/>
<circle cx="338.6" cy="116.8" r="1.3" fill="#b018c8"/>
<circle cx="347.4" cy="113.5" r="1.3" fill="#b018c8"/>
<circle cx="356.1" cy="111.4" r="1.3" fill="#b018c8"/>
<circle cx="364.9" cy="108.1" r="1.3" fill="#38c0ee"/>
<circle cx="286.1" cy="185.3" r="1.3" fill="#b018c8"/>
<circle cx="294.9" cy="174.1" r="1.3" fill="#b018c8"/>
<circle cx="303.6" cy="164.2" r="1.3" fill="#b018c8"/>
<circle cx="312.4" cy="155.0" r="1.3" fill="#38c0ee"/>
<circle cx="321.1" cy="146.3" r="1.3" fill="#b018c8"/>
<circle cx="329.9" cy="137.1" r="1.3" fill="#38c0ee"/>
<circle cx="338.6" cy="129.4" r="1.3" fill="#38c0ee"/>
<circle cx="347.4" cy="124.0" r="1.3" fill="#b018c8"/>
<circle cx="356.1" cy="122.4" r="1.3" fill="#b018c8"/>
<circle cx="364.9" cy="126.1" r="1.3" fill="#b018c8"/>
<circle cx="286.1" cy="189.9" r="1.3" fill="#b018c8"/>
<circle cx="294.9" cy="180.2" r="1.3" fill="#b018c8"/>
<circle cx="303.6" cy="171.0" r="1.3" fill="#b018c8"/>
<circle cx="312.4" cy="161.7" r="1.3" fill="#b018c8"/>
<circle cx="321.1" cy="152.0" r="1.3" fill="#b018c8"/>
<circle cx="329.9" cy="142.2" r="1.3" fill="#b018c8"/>
<circle cx="338.6" cy="133.3" r="1.3" fill="#b018c8"/>
<circle cx="347.4" cy="128.4" r="1.3" fill="#b018c8"/>
<circle cx="356.1" cy="126.0" r="1.3" fill="#b018c8"/>
<circle cx="364.9" cy="128.7" r="1.3" fill="#38c0ee"/>
<circle cx="294.9" cy="188.9" r="1.3" fill="#b018c8"/>
<circle cx="303.6" cy="179.7" r="1.3" fill="#b018c8"/>
<circle cx="312.4" cy="170.4" r="1.3" fill="#b018c8"/>
<circle cx="321.1" cy="160.7" r="1.3" fill="#b018c8"/>
<circle cx="329.9" cy="150.3" r="1.3" fill="#b018c8"/>
<circle cx="338.6" cy="140.9" r="1.3" fill="#b018c8"/>
<circle cx="347.4" cy="132.7" r="1.3" fill="#b018c8"/>
<circle cx="356.1" cy="128.0" r="1.3" fill="#b018c8"/>
<circle cx="364.9" cy="128.5" r="1.3" fill="#b018c8"/>
<circle cx="294.9" cy="194.9" r="1.3" fill="#b018c8"/>
<circle cx="303.6" cy="183.6" r="1.3" fill="#38c0ee"/>
<circle cx="312.4" cy="172.4" r="1.3" fill="#b018c8"/>
<circle cx="321.1" cy="163.7" r="1.3" fill="#b018c8"/>
<circle cx="329.9" cy="153.9" r="1.3" fill="#b018c8"/>
<circle cx="338.6" cy="143.0" r="1.3" fill="#b018c8"/>
<circle cx="347.4" cy="134.8" r="1.3" fill="#38c0ee"/>
<circle cx="356.1" cy="130.5" r="1.3" fill="#38c0ee"/>
<circle cx="364.9" cy="132.2" r="1.3" fill="#b018c8"/>
<circle cx="303.6" cy="196.1" r="1.3" fill="#38c0ee"/>
<circle cx="312.4" cy="180.4" r="1.3" fill="#b018c8"/>
<circle cx="321.1" cy="168.8" r="1.3" fill="#b018c8"/>
<circle cx="329.9" cy="156.5" r="1.3" fill="#38c0ee"/>
<circle cx="338.6" cy="142.9" r="1.3" fill="#38c0ee"/>
<circle cx="347.4" cy="133.7" r="1.3" fill="#38c0ee"/>
<circle cx="356.1" cy="128.1" r="1.3" fill="#38c0ee"/>
<circle cx="364.9" cy="129.0" r="1.3" fill="#38c0ee"/>
<circle cx="312.4" cy="185.9" r="1.3" fill="#b018c8"/>
<circle cx="321.1" cy="172.0" r="1.3" fill="#b018c8"/>
<circle cx="329.9" cy="159.4" r="1.3" fill="#b018c8"/>
<circle cx="338.6" cy="146.4" r="1.3" fill="#b018c8"/>
<circle cx="347.4" cy="137.0" r="1.3" fill="#38c0ee"/>
<circle cx="356.1" cy="132.4" r="1.3" fill="#38c0ee"/>
<circle cx="364.9" cy="133.1" r="1.3" fill="#38c0ee"/>
<circle cx="312.4" cy="190.3" r="1.3" fill="#b018c8"/>
<circle cx="321.1" cy="175.8" r="1.3" fill="#b018c8"/>
<circle cx="329.9" cy="163.0" r="1.3" fill="#b018c8"/>
<circle cx="338.6" cy="150.1" r="1.3" fill="#b018c8"/>
<circle cx="347.4" cy="139.6" r="1.3" fill="#b018c8"/>
<circle cx="356.1" cy="135.0" r="1.3" fill="#b018c8"/>
<circle cx="364.9" cy="135.9" r="1.3" fill="#b018c8"/>
<circle cx="312.4" cy="194.2" r="1.3" fill="#b018c8"/>
<circle cx="321.1" cy="180.2" r="1.3" fill="#b018c8"/>
<circle cx="329.9" cy="167.6" r="1.3" fill="#b018c8"/>
<circle cx="338.6" cy="155.0" r="1.3" fill="#b018c8"/>
<circle cx="347.4" cy="144.0" r="1.3" fill="#38c0ee"/>
<circle cx="356.1" cy="138.8" r="1.3" fill="#b018c8"/>
<circle cx="321.1" cy="185.0" r="1.3" fill="#b018c8"/>
<circle cx="329.9" cy="172.4" r="1.3" fill="#b018c8"/>
<circle cx="338.6" cy="160.2" r="1.3" fill="#b018c8"/>
<circle cx="347.4" cy="149.1" r="1.3" fill="#b018c8"/>
<circle cx="356.1" cy="142.6" r="1.3" fill="#b018c8"/>
<circle cx="338.6" cy="166.2" r="1.3" fill="#b018c8"/>
<circle cx="347.4" cy="163.1" r="1.3" fill="#38c0ee"/>
<circle cx="356.1" cy="157.9" r="1.3" fill="#38c0ee"/>
<circle cx="364.9" cy="151.1" r="1.3" fill="#38c0ee"/>
<circle cx="373.6" cy="150.2" r="1.3" fill="#b018c8"/>
<circle cx="382.3" cy="151.0" r="1.3" fill="#b018c8"/>
<circle cx="391.0" cy="158.9" r="1.3" fill="#b018c8"/>
<circle cx="399.7" cy="164.8" r="1.3" fill="#b018c8"/>
<circle cx="408.3" cy="169.1" r="1.3" fill="#b018c8"/>
<circle cx="338.6" cy="169.1" r="1.3" fill="#b018c8"/>
<circle cx="347.4" cy="165.9" r="1.3" fill="#b018c8"/>
<circle cx="356.1" cy="160.8" r="1.3" fill="#b018c8"/>
<circle cx="364.9" cy="152.4" r="1.3" fill="#38c0ee"/>
<circle cx="373.6" cy="150.3" r="1.3" fill="#38c0ee"/>
<circle cx="382.3" cy="152.5" r="1.3" fill="#b018c8"/>
<circle cx="391.0" cy="160.9" r="1.3" fill="#38c0ee"/>
<circle cx="399.7" cy="165.9" r="1.3" fill="#b018c8"/>
<circle cx="408.3" cy="169.2" r="1.3" fill="#b018c8"/>
<circle cx="338.6" cy="142.4" r="1.3" fill="#b018c8"/>
<circle cx="347.4" cy="141.3" r="1.3" fill="#b018c8"/>
<circle cx="356.1" cy="140.8" r="1.3" fill="#38c0ee"/>
<circle cx="364.9" cy="143.8" r="1.3" fill="#b018c8"/>
<circle cx="373.6" cy="142.6" r="1.3" fill="#38c0ee"/>
<circle cx="382.3" cy="144.2" r="1.3" fill="#38c0ee"/>
<circle cx="391.0" cy="140.8" r="1.3" fill="#b018c8"/>
<circle cx="399.7" cy="140.7" r="1.3" fill="#38c0ee"/>
<circle cx="347.4" cy="143.3" r="1.3" fill="#38c0ee"/>
<circle cx="356.1" cy="142.6" r="1.3" fill="#b018c8"/>
<circle cx="364.9" cy="145.3" r="1.3" fill="#38c0ee"/>
<circle cx="373.6" cy="144.2" r="1.3" fill="#38c0ee"/>
<circle cx="382.3" cy="145.7" r="1.3" fill="#38c0ee"/>
<circle cx="391.0" cy="142.5" r="1.3" fill="#b018c8"/>
<circle cx="399.7" cy="142.3" r="1.3" fill="#38c0ee"/>
<circle cx="329.9" cy="188.7" r="1.3" fill="#b018c8"/>
<circle cx="338.6" cy="183.0" r="1.3" fill="#b018c8"/>
<circle cx="347.4" cy="182.6" r="1.3" fill="#38c0ee"/>
<circle cx="356.1" cy="177.5" r="1.3" fill="#38c0ee"/>
<circle cx="364.9" cy="173.9" r="1.3" fill="#b018c8"/>
<circle cx="373.6" cy="171.8" r="1.3" fill="#b018c8"/>
<circle cx="382.3" cy="173.9" r="1.3" fill="#b018c8"/>
<circle cx="391.0" cy="177.6" r="1.3" fill="#b018c8"/>
<circle cx="399.7" cy="181.8" r="1.3" fill="#b018c8"/>
<circle cx="408.3" cy="186.0" r="1.3" fill="#b018c8"/>
<circle cx="417.0" cy="191.2" r="1.3" fill="#b018c8"/>
<circle cx="321.1" cy="194.8" r="1.3" fill="#38c0ee"/>
<circle cx="329.9" cy="188.6" r="1.3" fill="#b018c8"/>
<circle cx="338.6" cy="188.1" r="1.3" fill="#38c0ee"/>
<circle cx="347.4" cy="183.1" r="1.3" fill="#b018c8"/>
<circle cx="356.1" cy="178.3" r="1.3" fill="#b018c8"/>
<circle cx="364.9" cy="174.6" r="1.3" fill="#38c0ee"/>
<circle cx="373.6" cy="172.6" r="1.3" fill="#38c0ee"/>
<circle cx="382.3" cy="174.6" r="1.3" fill="#b018c8"/>
<circle cx="391.0" cy="178.4" r="1.3" fill="#38c0ee"/>
<circle cx="399.7" cy="182.8" r="1.3" fill="#b018c8"/>
<circle cx="408.3" cy="187.7" r="1.3" fill="#b018c8"/>
<circle cx="417.0" cy="193.9" r="1.3" fill="#b018c8"/>
<circle cx="329.9" cy="193.8" r="1.3" fill="#b018c8"/>
<circle cx="338.6" cy="186.9" r="1.3" fill="#38c0ee"/>
<circle cx="347.4" cy="182.2" r="1.3" fill="#38c0ee"/>
<circle cx="356.1" cy="178.6" r="1.3" fill="#b018c8"/>
<circle cx="364.9" cy="176.5" r="1.3" fill="#38c0ee"/>
<circle cx="373.6" cy="175.8" r="1.3" fill="#b018c8"/>
<circle cx="382.3" cy="176.5" r="1.3" fill="#b018c8"/>
<circle cx="391.0" cy="178.6" r="1.3" fill="#b018c8"/>
<circle cx="399.7" cy="182.5" r="1.3" fill="#b018c8"/>
<circle cx="408.3" cy="188.5" r="1.3" fill="#b018c8"/>
<circle cx="356.1" cy="191.8" r="1.3" fill="#b018c8"/>
<circle cx="364.9" cy="187.8" r="1.3" fill="#b018c8"/>
<circle cx="373.6" cy="186.3" r="1.3" fill="#38c0ee"/>
<circle cx="382.3" cy="187.8" r="1.3" fill="#38c0ee"/>
<circle cx="391.0" cy="191.9" r="1.3" fill="#38c0ee"/>
<circle cx="356.1" cy="195.8" r="1.3" fill="#b018c8"/>
<circle cx="364.9" cy="191.5" r="1.3" fill="#38c0ee"/>
<circle cx="373.6" cy="190.0" r="1.3" fill="#38c0ee"/>
<circle cx="382.3" cy="191.6" r="1.3" fill="#38c0ee"/>
<circle cx="391.0" cy="195.9" r="1.3" fill="#38c0ee"/>
<circle cx="338.6" cy="128.9" r="1.3" fill="#b018c8"/>
<circle cx="347.4" cy="123.3" r="1.3" fill="#b018c8"/>
<circle cx="356.1" cy="122.4" r="1.3" fill="#b018c8"/>
<circle cx="364.9" cy="121.3" r="1.3" fill="#38c0ee"/>
<circle cx="373.6" cy="133.9" r="1.3" fill="#38c0ee"/>
<circle cx="382.3" cy="121.5" r="1.3" fill="#38c0ee"/>
<circle cx="391.0" cy="123.5" r="1.3" fill="#b018c8"/>
<circle cx="399.7" cy="127.3" r="1.3" fill="#b018c8"/>
<circle cx="382.3" cy="118.5" r="1.3" fill="#38c0ee"/>
<circle cx="391.0" cy="122.3" r="1.3" fill="#38c0ee"/>
<circle cx="399.7" cy="126.7" r="1.3" fill="#38c0ee"/>
<circle cx="408.3" cy="130.6" r="1.3" fill="#b018c8"/>
<circle cx="417.0" cy="136.8" r="1.3" fill="#b018c8"/>
<circle cx="425.7" cy="144.9" r="1.3" fill="#b018c8"/>
<circle cx="434.3" cy="154.9" r="1.3" fill="#b018c8"/>
<circle cx="443.0" cy="163.5" r="1.3" fill="#38c0ee"/>
<circle cx="451.7" cy="172.2" r="1.3" fill="#b018c8"/>
<circle cx="460.3" cy="179.3" r="1.3" fill="#b018c8"/>
<circle cx="469.0" cy="186.5" r="1.3" fill="#b018c8"/>
<circle cx="477.7" cy="191.5" r="1.3" fill="#b018c8"/>
<circle cx="486.3" cy="194.6" r="1.3" fill="#b018c8"/>
<circle cx="495.0" cy="196.2" r="1.3" fill="#38c0ee"/>
<circle cx="382.3" cy="123.9" r="1.3" fill="#38c0ee"/>
<circle cx="391.0" cy="127.4" r="1.3" fill="#38c0ee"/>
<circle cx="399.7" cy="134.4" r="1.3" fill="#38c0ee"/>
<circle cx="408.3" cy="144.6" r="1.3" fill="#b018c8"/>
<circle cx="417.0" cy="161.6" r="1.3" fill="#b018c8"/>
<circle cx="425.7" cy="178.3" r="1.3" fill="#b018c8"/>
<circle cx="434.3" cy="192.2" r="1.3" fill="#b018c8"/>
<circle cx="382.3" cy="126.7" r="1.3" fill="#38c0ee"/>
<circle cx="391.0" cy="130.0" r="1.3" fill="#b018c8"/>
<circle cx="399.7" cy="136.7" r="1.3" fill="#b018c8"/>
<circle cx="408.3" cy="147.2" r="1.3" fill="#b018c8"/>
<circle cx="417.0" cy="165.0" r="1.3" fill="#b018c8"/>
<circle cx="425.7" cy="182.3" r="1.3" fill="#b018c8"/>
<circle cx="382.3" cy="130.9" r="1.3" fill="#38c0ee"/>
<circle cx="391.0" cy="135.8" r="1.3" fill="#b018c8"/>
<circle cx="399.7" cy="145.4" r="1.3" fill="#38c0ee"/>
<circle cx="408.3" cy="162.7" r="1.3" fill="#38c0ee"/>
<circle cx="417.0" cy="186.8" r="1.3" fill="#38c0ee"/>
<circle cx="382.3" cy="133.5" r="1.3" fill="#b018c8"/>
<circle cx="391.0" cy="139.0" r="1.3" fill="#38c0ee"/>
<circle cx="399.7" cy="152.3" r="1.3" fill="#b018c8"/>
<circle cx="408.3" cy="176.0" r="1.3" fill="#b018c8"/>
<circle cx="382.3" cy="137.7" r="1.3" fill="#38c0ee"/>
<circle cx="391.0" cy="147.1" r="1.3" fill="#b018c8"/>
<circle cx="399.7" cy="166.7" r="1.3" fill="#b018c8"/>
<path d="M233.6,6.9 234.6,7.0 236.0,7.0 237.6,7.1 239.3,7.2 241.0,7.3 242.6,7.4 244.0,7.5 245.4,7.7 246.7,7.9 248.1,8.0 249.4,8.0 250.8,8.0 252.3,7.8 253.9,7.5 255.5,7.1 257.0,6.7 258.4,6.4 259.5,6.1 260.3,5.9 260.9,5.8 261.3,5.6 261.6,5.5 261.8,5.5 262.0,5.4 M233.6,12.2 234.6,12.2 236.1,12.2 237.8,12.2 239.6,12.3 241.2,12.4 242.6,12.7 243.6,13.1 244.5,13.7 245.3,14.3 246.0,15.0 246.7,15.6 247.5,16.2 248.4,16.7 249.4,17.3 250.4,17.8 251.4,18.3 252.4,18.7 253.2,19.0 253.9,19.2 254.6,19.3 255.2,19.4 255.8,19.4 256.4,19.4 257.0,19.3 257.6,19.2 258.3,19.1 258.9,19.0 259.6,18.8 260.3,18.6 261.0,18.3 261.8,18.0 262.6,17.6 263.5,17.2 264.4,16.7 265.2,16.3 266.0,16.0 266.7,15.7 267.4,15.4 268.0,15.1 268.6,14.9 269.3,14.7 270.0,14.6 270.8,14.6 271.6,14.6 272.5,14.7 273.4,14.9 274.2,15.0 275.0,15.0 275.7,15.0 276.4,15.0 277.1,15.0 277.7,14.9 278.3,14.8 279.0,14.6 279.7,14.3 280.4,13.9 281.0,13.4 281.7,12.9 282.4,12.4 283.0,12.0 283.6,11.7 284.2,11.4 284.8,11.2 285.4,10.9 285.9,10.8 286.5,10.6 287.1,10.5 287.6,10.4 288.2,10.3 288.8,10.3 289.4,10.3 290.0,10.4 290.6,10.5 291.3,10.6 291.9,10.7 292.6,10.9 293.3,11.2 294.0,11.5 294.8,11.9 295.6,12.4 296.5,12.9 297.3,13.5 298.2,14.1 299.0,14.6 299.8,15.1 300.4,15.5 301.1,16.0 301.9,16.4 302.7,16.9 303.7,17.5 304.9,18.1 306.3,18.8 307.7,19.6 309.3,20.4 310.8,21.2 312.3,22.0 313.7,22.9 315.2,23.9 316.6,24.8 318.1,25.8 319.5,26.7 321.0,27.5 322.4,28.2 323.9,28.7 325.4,29.2 326.8,29.7 328.3,30.1 329.7,30.5 331.2,30.9 332.6,31.2 334.1,31.5 335.5,31.8 337.0,32.1 338.4,32.5 339.8,32.9 341.2,33.3 342.6,33.7 344.0,34.2 345.3,34.8 346.7,35.5 348.1,36.4 349.6,37.5 351.0,38.7 352.4,40.0 353.7,41.3 354.9,42.5 355.9,43.7 356.9,45.0 357.7,46.2 358.5,47.5 359.2,48.8 360.0,50.0 360.7,51.2 361.4,52.4 362.1,53.6 362.8,54.8 363.5,55.9 364.2,57.0 365.0,58.1 365.7,59.1 366.5,60.1 367.3,61.1 368.1,62.1 368.9,63.0 369.7,63.9 370.5,65.0 371.3,65.9 372.1,66.8 372.9,67.3 373.6,67.6 374.2,67.5 374.8,67.0 375.4,66.3 375.9,65.5 376.5,64.5 377.1,63.6 377.7,62.6 378.4,61.6 379.0,60.4 379.7,59.2 380.4,57.9 381.2,56.6 382.0,55.2 382.8,53.6 383.7,52.0 384.6,50.3 385.5,48.7 386.4,47.2 387.3,45.8 388.1,44.4 389.0,43.0 389.9,41.7 390.8,40.3 391.7,39.0 392.7,37.6 393.6,36.2 394.6,34.9 395.6,33.5 396.6,32.2 397.5,30.9 398.4,29.7 399.2,28.5 399.9,27.4 400.7,26.3 401.5,25.1 402.2,24.0 402.9,22.8 403.7,21.7 404.4,20.5 405.1,19.3 405.8,18.2 406.5,17.0 407.2,15.8 407.9,14.6 408.6,13.3 409.3,12.2 409.9,11.0 410.5,10.0 411.1,9.0 411.7,8.1 412.2,7.3 412.8,6.5 413.2,5.9 413.5,5.4 M233.6,16.5 234.6,16.2 236.0,15.7 237.6,15.2 239.3,14.7 241.0,14.1 242.6,13.6 244.0,13.1 245.4,12.5 246.7,11.9 248.1,11.4 249.4,11.0 250.8,10.7 252.2,10.6 253.6,10.6 255.1,10.7 256.6,10.8 258.0,11.0 259.5,11.2 261.0,11.4 262.5,11.6 264.1,11.8 265.6,12.1 267.1,12.4 268.6,12.7 270.1,13.1 271.5,13.7 273.0,14.3 274.4,14.8 275.9,15.3 277.3,15.6 278.8,15.7 280.3,15.7 281.8,15.6 283.3,15.5 284.7,15.4 285.9,15.3 286.9,15.3 287.8,15.3 288.6,15.3 289.4,15.4 290.1,15.5 290.8,15.6 291.5,15.8 292.2,16.0 292.8,16.2 293.4,16.5 294.0,16.7 294.7,17.0 295.4,17.3 296.1,17.6 296.8,17.9 297.5,18.2 298.3,18.5 299.0,18.9 299.7,19.3 300.4,19.6 301.1,20.0 301.8,20.4 302.7,20.8 303.7,21.3 304.9,21.8 306.3,22.3 307.7,22.9 309.3,23.5 310.8,24.1 312.3,24.7 313.7,25.3 315.2,26.0 316.6,26.7 318.1,27.4 319.5,28.0 321.0,28.6 322.4,29.1 323.9,29.6 325.4,30.0 326.8,30.5 328.3,30.9 329.7,31.5 331.2,32.1 332.6,32.8 334.1,33.6 335.5,34.3 337.0,35.1 338.4,36.0 339.8,36.9 341.2,37.9 342.5,38.9 343.9,39.9 345.3,41.0 346.7,42.0 348.2,43.0 349.8,44.0 351.4,45.0 353.0,46.0 354.5,47.0 356.0,48.0 357.4,49.1 358.9,50.3 360.3,51.4 361.6,52.6 362.9,53.6 364.0,54.5 365.0,55.2 365.9,55.9 366.7,56.4 367.5,56.8 368.2,57.2 369.0,57.6 369.8,57.9 370.5,58.2 371.1,58.4 371.9,58.5 372.7,58.6 373.6,58.6 374.7,58.6 376.0,58.5 377.3,58.4 378.7,58.1 380.0,57.7 381.2,57.1 382.3,56.3 383.3,55.2 384.2,54.0 385.1,52.7 386.0,51.4 387.0,50.1 388.0,48.8 388.9,47.5 389.9,46.2 390.8,44.9 391.9,43.7 392.9,42.5 394.0,41.4 395.2,40.2 396.4,39.2 397.7,38.2 398.8,37.4 399.9,36.7 400.8,36.3 401.5,36.1 402.2,36.0 402.9,36.0 403.8,36.0 405.0,36.0 406.6,36.0 408.4,36.0 410.4,36.0 412.5,36.1 414.5,36.2 416.3,36.3 417.9,36.4 419.4,36.6 420.8,36.8 422.2,37.0 423.6,37.2 425.0,37.5 426.4,37.8 427.7,38.1 429.1,38.4 430.4,38.7 431.8,39.1 433.3,39.5 434.9,40.0 436.5,40.5 438.2,41.0 439.9,41.5 441.6,42.0 443.2,42.5 444.7,42.9 446.1,43.4 447.5,43.8 448.9,44.1 450.3,44.4 451.7,44.6 453.1,44.7 454.5,44.7 455.9,44.7 457.4,44.6 458.8,44.4 460.2,44.2 461.6,43.8 463.0,43.3 464.4,42.8 465.9,42.2 467.3,41.7 468.7,41.2 470.1,40.8 471.5,40.5 472.9,40.2 474.4,39.9 475.8,39.7 477.2,39.4 478.6,39.1 480.0,38.8 481.4,38.5 482.8,38.2 484.2,38.0 485.7,37.8 487.3,37.7 489.1,37.6 490.9,37.5 492.6,37.5 494.0,37.5 495.0,37.5 M399.9,37.5 400.4,37.4 401.0,37.2 401.7,37.1 402.7,36.9 403.7,36.8 405.0,36.8 406.6,36.9 408.4,37.0 410.4,37.1 412.5,37.4 414.5,37.6 416.3,38.0 417.9,38.5 419.4,39.0 420.8,39.7 422.2,40.3 423.6,40.9 425.0,41.5 426.4,42.0 427.7,42.4 429.1,42.9 430.4,43.3 431.8,43.7 433.3,44.0 434.9,44.3 436.5,44.6 438.2,44.9 439.9,45.1 441.6,45.3 443.2,45.5 444.7,45.7 446.1,45.8 447.5,45.9 448.9,46.0 450.3,46.1 451.7,46.2 453.1,46.3 454.5,46.4 455.9,46.5 457.4,46.6 458.8,46.6 460.2,46.5 461.6,46.3 463.0,46.0 464.4,45.6 465.9,45.2 467.3,44.7 468.7,44.3 470.1,43.8 471.5,43.3 472.9,42.8 474.4,42.2 475.8,41.7 477.2,41.2 478.6,40.7 480.0,40.3 481.4,39.9 482.8,39.5 484.2,39.1 485.7,38.8 487.3,38.6 489.1,38.4 490.9,38.2 492.6,38.1 494.0,38.1 495.0,38.0 M233.6,16.5 234.1,16.8 234.7,17.1 235.4,17.5 236.2,18.0 237.0,18.4 237.8,18.9 238.5,19.4 239.1,19.8 239.7,20.3 240.4,20.8 241.2,21.3 242.2,21.8 243.4,22.3 244.8,22.7 246.2,23.2 247.8,23.7 249.3,24.2 250.8,24.7 252.2,25.3 253.7,26.1 255.1,26.8 256.6,27.5 258.0,28.1 259.5,28.6 261.0,28.9 262.7,29.1 264.3,29.3 265.9,29.3 267.3,29.3 268.6,29.1 269.7,28.8 270.6,28.4 271.4,27.9 272.1,27.3 272.8,26.8 273.5,26.2 274.2,25.6 274.8,25.0 275.5,24.4 276.1,23.8 276.7,23.3 277.3,22.8 277.9,22.4 278.6,22.0 279.3,21.6 279.9,21.3 280.6,21.0 281.2,20.9 281.8,20.8 282.4,20.9 283.0,21.0 283.6,21.1 284.3,21.4 285.0,21.8 285.9,22.3 286.8,23.0 287.8,23.8 288.9,24.6 289.9,25.5 290.8,26.2 291.7,26.9 292.5,27.5 293.3,28.2 294.1,28.8 294.8,29.4 295.6,30.0 296.3,30.5 296.8,30.9 297.4,31.3 298.0,31.8 298.8,32.4 300.0,33.2 301.6,34.3 303.4,35.6 305.5,37.1 307.7,38.6 309.8,40.1 311.7,41.4 313.4,42.6 315.0,43.7 316.6,44.8 318.1,45.9 319.5,46.9 321.0,47.8 322.4,48.7 323.8,49.5 325.1,50.2 326.4,51.0 327.8,51.7 329.2,52.5 330.7,53.3 332.4,54.2 334.0,55.1 335.7,56.0 337.2,56.9 338.5,57.7 339.6,58.5 340.5,59.3 341.4,60.1 342.1,60.9 342.8,61.7 343.5,62.5 344.2,63.3 344.8,64.1 345.3,64.8 345.9,65.6 346.4,66.5 347.0,67.5 347.6,68.6 348.2,69.8 348.8,71.1 349.4,72.4 349.9,73.7 350.5,75.0 351.0,76.3 351.6,77.7 352.1,79.0 352.6,80.4 353.0,81.7 353.5,83.0 353.9,84.2 354.4,85.4 354.8,86.6 355.2,87.7 355.6,88.9 356.0,90.0 356.4,91.1 356.8,92.2 357.2,93.3 357.7,94.4 358.1,95.5 358.5,96.5 358.9,97.5 359.3,98.4 359.7,99.3 360.1,100.2 360.6,101.1 361.0,102.0 361.5,103.0 361.9,104.0 362.4,105.1 362.9,106.1 363.5,107.1 364.0,108.0 364.6,108.9 365.1,109.7 365.7,110.5 366.3,111.2 366.9,111.9 367.5,112.5 368.1,113.0 368.7,113.4 369.3,113.8 369.9,114.0 370.5,114.3 371.0,114.5 371.5,114.7 372.0,114.8 372.5,114.9 373.0,114.9 373.3,115.0 373.6,115.0 M233.6,24.2 234.5,24.4 235.8,24.6 237.4,24.8 239.0,25.1 240.7,25.4 242.2,25.7 243.6,26.0 245.1,26.3 246.5,26.6 247.9,26.9 249.4,27.3 250.8,27.6 252.2,28.0 253.7,28.4 255.1,28.8 256.6,29.2 258.0,29.6 259.5,29.9 261.0,30.2 262.7,30.4 264.3,30.6 265.9,30.8 267.3,30.8 268.6,30.7 269.7,30.4 270.6,30.1 271.4,29.6 272.1,29.0 272.8,28.4 273.5,27.9 274.2,27.4 274.8,26.8 275.5,26.2 276.1,25.6 276.7,25.1 277.3,24.6 277.9,24.2 278.6,23.8 279.3,23.5 279.9,23.2 280.6,23.0 281.2,22.9 281.8,22.9 282.4,22.9 283.0,23.1 283.6,23.3 284.3,23.6 285.0,24.0 285.9,24.6 286.8,25.3 287.8,26.1 288.9,27.0 289.9,27.8 290.8,28.6 291.7,29.3 292.5,30.0 293.3,30.6 294.1,31.3 294.8,31.9 295.6,32.5 296.3,33.0 296.8,33.4 297.4,33.8 298.0,34.3 298.8,34.9 300.0,35.7 301.6,36.8 303.4,38.1 305.5,39.5 307.7,41.0 309.8,42.5 311.7,43.8 313.4,45.0 315.0,46.2 316.6,47.3 318.1,48.3 319.5,49.3 321.0,50.3 322.4,51.2 323.8,52.0 325.1,52.7 326.4,53.4 327.8,54.2 329.2,55.0 330.7,55.9 332.3,56.8 334.0,57.7 335.6,58.6 337.1,59.5 338.5,60.4 339.7,61.3 340.8,62.1 341.8,63.0 342.8,63.8 343.7,64.6 344.5,65.5 345.3,66.3 346.0,67.1 346.6,67.9 347.2,68.8 347.9,69.7 348.5,70.8 349.2,72.1 349.9,73.5 350.6,75.0 351.2,76.5 351.9,78.1 352.5,79.5 353.1,80.9 353.6,82.2 354.1,83.5 354.6,84.8 355.0,86.1 355.5,87.3 355.9,88.5 356.4,89.7 356.8,90.8 357.2,91.9 357.6,93.1 358.0,94.2 358.4,95.4 358.8,96.5 359.2,97.6 359.7,98.8 360.1,100.0 360.5,101.2 360.9,102.5 361.3,103.8 361.7,105.1 362.1,106.4 362.6,107.7 363.0,109.0 363.5,110.3 364.1,111.7 364.7,113.0 365.2,114.2 365.7,115.2 366.0,116.0 M339.0,5.4 339.4,6.2 340.0,7.4 340.6,8.8 341.4,10.2 342.0,11.5 342.6,12.5 343.1,13.2 343.5,13.7 343.9,14.1 344.3,14.5 344.6,14.7 345.0,15.0 345.4,15.3 345.7,15.5 346.0,15.7 346.4,15.9 346.7,15.9 347.2,15.9 347.7,15.8 348.3,15.5 349.0,15.2 349.6,14.9 350.3,14.5 351.0,14.0 351.7,13.5 352.4,12.8 353.2,12.1 353.9,11.5 354.6,10.8 355.4,10.2 356.2,9.7 356.9,9.2 357.7,8.7 358.5,8.3 359.2,7.9 360.0,7.5 360.8,7.1 361.7,6.7 362.6,6.3 363.5,5.9 364.2,5.6 364.7,5.4 M338.5,12.0 338.8,12.6 339.1,13.6 339.6,14.7 340.1,15.8 340.7,16.8 341.4,17.5 342.2,18.0 343.1,18.4 344.1,18.6 345.2,18.8 346.2,18.8 347.2,18.8 348.2,18.7 349.1,18.5 350.1,18.1 351.1,17.7 352.1,17.3 353.1,16.8 354.2,16.3 355.3,15.6 356.5,14.9 357.6,14.2 358.8,13.5 360.0,12.8 361.2,12.1 362.5,11.4 363.7,10.7 365.0,10.0 366.1,9.3 367.1,8.7 368.0,8.1 368.8,7.4 369.5,6.8 370.1,6.2 370.6,5.7 371.0,5.4 M381.2,5.4 381.8,5.9 382.7,6.6 383.7,7.3 384.8,8.2 385.9,9.0 387.0,9.8 388.1,10.6 389.3,11.4 390.6,12.3 391.8,13.1 393.0,13.6 394.0,13.9 394.9,13.9 395.8,13.6 396.6,13.1 397.4,12.4 398.1,11.7 398.7,11.0 399.2,10.2 399.7,9.1 400.1,8.0 400.5,7.0 400.8,6.0 401.0,5.4 M382.2,5.4 382.8,6.0 383.5,6.8 384.4,7.8 385.4,8.9 386.5,9.9 387.5,10.8 388.6,11.7 389.7,12.6 390.8,13.5 392.0,14.2 393.1,14.8 394.2,15.0 395.2,14.9 396.2,14.5 397.1,13.9 398.0,13.1 398.8,12.3 399.5,11.5 400.1,10.6 400.6,9.4 401.1,8.2 401.5,7.1 401.8,6.1 402.0,5.4 M340.0,36.0 340.6,35.8 341.5,35.5 342.5,35.2 343.7,34.9 344.8,34.5 346.0,34.0 347.2,33.5 348.4,32.8 349.7,32.1 351.0,31.4 352.3,30.8 353.4,30.2 354.4,29.7 355.4,29.4 356.3,29.0 357.2,28.7 358.1,28.4 359.0,28.0 360.0,27.6 360.9,27.1 361.9,26.7 362.9,26.2 363.8,25.7 364.7,25.2 365.5,24.6 366.2,24.0 366.9,23.3 367.6,22.7 368.3,22.1 369.0,21.5 369.7,21.0 370.4,20.5 371.1,20.1 371.8,19.7 372.7,19.4 373.6,19.0 374.7,18.6 375.9,18.2 377.2,17.8 378.5,17.5 379.9,17.3 381.2,17.4 382.6,17.7 384.0,18.3 385.5,19.1 386.9,19.9 388.2,20.7 389.4,21.5 390.4,22.2 391.2,23.0 392.0,23.8 392.6,24.6 393.3,25.4 394.0,26.2 394.7,27.0 395.4,27.8 396.0,28.6 396.7,29.4 397.3,30.2 398.0,31.0 398.7,31.9 399.5,32.8 400.2,33.8 401.0,34.7 401.6,35.5 402.0,36.0 M336.0,14.0 336.5,14.4 337.3,15.0 338.2,15.7 339.1,16.5 340.1,17.3 341.0,18.0 341.9,18.7 342.8,19.5 343.7,20.3 344.6,21.1 345.4,21.8 346.3,22.4 347.1,23.0 347.9,23.5 348.7,24.0 349.4,24.4 350.2,24.7 351.0,25.0 351.8,25.2 352.7,25.4 353.6,25.5 354.5,25.5 355.4,25.4 356.2,25.2 357.0,24.8 357.7,24.2 358.4,23.6 359.1,22.8 359.8,22.1 360.5,21.5 361.2,20.9 361.9,20.2 362.6,19.6 363.3,19.0 364.0,18.6 364.7,18.2 365.4,18.0 366.1,17.9 366.8,17.9 367.5,18.0 368.3,18.1 369.0,18.2 369.7,18.2 370.4,18.3 371.1,18.3 371.8,18.4 372.7,18.6 373.6,19.0 374.7,19.6 376.0,20.3 377.3,21.2 378.7,22.1 380.0,23.0 381.2,23.9 382.3,24.8 383.4,25.8 384.4,26.7 385.4,27.7 386.3,28.5 387.0,29.1 387.6,29.6 388.0,30.0 388.3,30.4 388.6,30.5 388.9,30.5 389.4,30.3 390.0,29.8 390.8,29.0 391.6,28.1 392.4,27.0 393.2,26.0 394.0,25.0 394.8,24.1 395.6,23.1 396.4,22.2 397.2,21.2 398.0,20.2 398.7,19.2 399.4,18.1 400.0,16.9 400.7,15.8 401.2,14.6 401.8,13.4 402.2,12.2 402.5,11.0 402.8,9.7 403.0,8.4 403.2,7.2 403.3,6.1 403.4,5.4 M340.0,35.0 341.1,35.4 342.7,35.9 344.6,36.6 346.6,37.2 348.4,37.9 350.0,38.5 351.2,39.1 352.2,39.6 353.1,40.2 354.0,40.7 354.9,41.1 356.0,41.5 357.2,41.8 358.5,42.1 359.8,42.3 361.1,42.4 362.6,42.5 364.0,42.5 365.5,42.4 367.2,42.1 368.8,41.8 370.5,41.5 372.1,41.2 373.6,41.1 375.0,41.1 376.4,41.3 377.7,41.5 379.0,41.7 380.1,41.9 381.2,42.0 382.2,42.0 383.0,42.0 383.7,41.9 384.4,41.8 385.2,41.6 385.9,41.4 386.7,41.1 387.4,40.9 388.2,40.5 389.0,40.1 389.7,39.6 390.5,39.0 391.3,38.2 392.0,37.3 392.8,36.2 393.5,35.1 394.3,34.0 395.0,33.0 395.7,31.9 396.3,30.8 397.0,29.7 397.6,28.7 398.3,27.7 399.0,27.0 399.8,26.5 400.6,26.2 401.4,26.0 402.2,25.8 403.1,25.7 404.0,25.5 404.9,25.3 405.9,25.0 406.9,24.8 407.9,24.6 409.0,24.3 410.0,24.0 411.0,23.7 411.9,23.4 412.9,23.0 413.9,22.6 415.0,22.1 416.2,21.5 417.6,20.7 419.1,19.7 420.8,18.6 422.4,17.5 424.1,16.5 425.6,15.7 427.0,15.1 428.3,14.6 429.7,14.1 431.0,13.7 432.3,13.3 433.7,12.8 435.2,12.2 436.9,11.5 438.6,10.8 440.3,10.1 441.8,9.4 443.1,8.7 444.2,8.1 445.2,7.4 446.1,6.8 446.9,6.2 447.5,5.7 448.0,5.4 M342.0,38.0 342.9,38.3 344.1,38.8 345.6,39.3 347.1,39.9 348.6,40.5 350.0,41.0 351.2,41.5 352.4,41.9 353.6,42.4 354.7,42.8 355.8,43.2 357.0,43.5 358.1,43.7 359.2,43.9 360.3,44.0 361.5,44.0 362.7,44.0 364.0,44.0 365.5,43.9 367.1,43.7 368.8,43.5 370.5,43.2 372.1,43.1 373.6,43.0 375.0,43.1 376.4,43.2 377.7,43.5 378.9,43.7 380.1,43.9 381.2,44.0 382.2,44.0 383.0,44.0 383.8,44.0 384.6,43.9 385.3,43.7 386.0,43.5 386.7,43.2 387.4,42.9 388.0,42.6 388.6,42.2 389.3,41.6 390.0,41.0 390.8,40.2 391.6,39.3 392.5,38.2 393.3,37.2 394.2,36.1 395.0,35.0 395.8,33.9 396.5,32.7 397.2,31.5 398.0,30.3 398.7,29.3 399.5,28.5 400.3,28.0 401.1,27.6 401.9,27.4 402.7,27.3 403.6,27.2 404.5,27.0 405.4,26.8 406.4,26.5 407.4,26.3 408.4,26.1 409.5,25.8 410.5,25.5 411.5,25.2 412.5,24.9 413.6,24.5 414.6,24.1 415.8,23.6 417.0,23.0 418.4,22.2 419.8,21.2 421.4,20.2 422.9,19.1 424.5,18.1 426.0,17.3 427.4,16.7 428.8,16.2 430.2,15.8 431.6,15.4 433.0,14.9 434.5,14.4 436.0,13.8 437.6,13.1 439.3,12.4 440.9,11.7 442.5,10.9 444.0,10.2 445.5,9.4 447.1,8.5 448.6,7.5 450.0,6.7 451.1,5.9 452.0,5.4 M309.3,5.4 310.6,6.7 312.4,8.5 314.6,10.6 316.8,12.8 319.0,15.0 321.0,16.8 322.7,18.4 324.4,19.9 325.9,21.2 327.4,22.6 328.9,23.8 330.4,25.0 331.8,26.1 333.2,27.2 334.5,28.2 335.8,29.2 337.2,30.1 338.5,30.9 339.8,31.6 341.2,32.2 342.5,32.8 343.9,33.4 345.3,34.0 346.7,34.9 348.2,36.0 349.8,37.2 351.4,38.5 353.0,39.8 354.6,41.2 356.0,42.5 357.3,43.8 358.6,45.0 359.8,46.3 360.9,47.5 362.0,48.8 363.0,50.0 364.0,51.3 365.0,52.6 365.9,54.0 366.8,55.2 367.5,56.2 368.0,57.0 M311.7,5.4 313.0,6.7 314.8,8.4 317.0,10.5 319.2,12.7 321.5,14.9 323.4,16.8 325.1,18.5 326.7,20.1 328.3,21.7 329.8,23.2 331.2,24.6 332.7,26.0 334.1,27.3 335.6,28.5 336.9,29.6 338.3,30.7 339.6,31.9 341.0,33.0 342.4,34.2 343.7,35.4 345.0,36.6 346.3,37.7 347.7,38.9 349.0,40.0 350.3,41.1 351.7,42.1 353.1,43.1 354.4,44.0 355.7,45.0 357.0,46.0 358.2,47.0 359.4,48.0 360.6,49.0 361.8,50.0 362.9,51.0 364.0,52.0 365.1,53.0 366.3,54.1 367.4,55.1 368.5,56.1 369.4,56.9 370.0,57.5 M318.7,5.4 319.9,6.4 321.5,7.7 323.4,9.4 325.4,11.1 327.4,12.9 329.2,14.5 330.8,16.1 332.4,17.7 334.0,19.3 335.5,20.9 337.0,22.5 338.5,24.0 339.9,25.4 341.3,26.8 342.7,28.1 344.0,29.4 345.3,30.7 346.7,32.0 348.1,33.3 349.5,34.7 350.9,36.0 352.2,37.3 353.6,38.7 354.9,40.0 356.2,41.3 357.4,42.6 358.6,43.9 359.8,45.2 360.9,46.6 362.0,48.0 363.1,49.6 364.1,51.2 365.1,52.9 366.1,54.6 367.0,56.3 368.0,58.0 369.0,59.7 370.1,61.6 371.2,63.4 372.2,65.1 373.0,66.6 373.6,67.6 M322.0,5.4 323.2,6.6 324.9,8.2 326.9,10.1 329.1,12.1 331.2,14.1 333.0,16.0 334.6,17.7 336.2,19.4 337.7,21.0 339.1,22.7 340.6,24.3 342.0,26.0 343.4,27.7 344.7,29.3 346.1,31.0 347.4,32.7 348.7,34.3 350.0,36.0 351.4,37.7 352.7,39.4 354.1,41.1 355.5,42.8 356.8,44.4 358.0,46.0 359.1,47.5 360.2,48.9 361.2,50.2 362.1,51.6 363.1,52.8 364.0,54.0 364.9,55.2 365.9,56.4 366.9,57.5 367.7,58.5 368.5,59.4 369.0,60.0 M335.2,5.4 335.9,6.4 336.8,7.8 337.9,9.5 339.1,11.3 340.3,13.2 341.5,15.0 342.6,16.8 343.7,18.6 344.9,20.4 346.0,22.3 347.2,24.2 348.3,26.0 349.4,27.8 350.5,29.7 351.7,31.5 352.8,33.4 353.9,35.2 355.0,37.0 356.1,38.8 357.2,40.6 358.3,42.3 359.4,44.1 360.5,45.8 361.5,47.5 362.5,49.3 363.6,51.1 364.7,52.9 365.6,54.6 366.4,56.0 367.0,57.0 M337.4,5.4 338.1,6.4 339.0,7.9 340.1,9.6 341.3,11.5 342.5,13.4 343.6,15.2 344.7,17.0 345.9,18.9 347.0,20.8 348.2,22.7 349.4,24.6 350.5,26.5 351.6,28.4 352.7,30.2 353.8,32.0 354.9,33.9 356.0,35.7 357.0,37.5 358.1,39.4 359.3,41.4 360.4,43.4 361.5,45.3 362.4,46.9 363.0,48.0 M376.0,64.0 376.5,63.4 377.3,62.5 378.2,61.5 379.1,60.4 380.1,59.2 381.0,58.0 381.8,56.8 382.7,55.5 383.5,54.2 384.3,52.8 385.2,51.4 386.0,50.0 386.8,48.5 387.7,47.0 388.5,45.5 389.3,44.0 390.2,42.5 391.0,41.0 391.8,39.6 392.7,38.2 393.5,36.8 394.3,35.5 395.2,34.2 396.0,33.0 396.8,31.9 397.7,30.8 398.5,29.7 399.3,28.7 400.2,27.8 401.0,27.0 401.9,26.2 402.9,25.5 403.8,24.9 404.7,24.3 405.5,23.9 406.0,23.5 M377.0,66.0 377.5,65.4 378.3,64.6 379.1,63.6 380.1,62.4 381.1,61.2 382.0,60.0 383.0,58.7 384.0,57.2 385.0,55.7 386.0,54.1 387.0,52.5 388.0,51.0 388.9,49.5 389.7,48.0 390.6,46.5 391.4,45.0 392.2,43.5 393.0,42.0 393.8,40.5 394.7,39.0 395.5,37.5 396.3,36.1 397.2,34.7 398.0,33.5 398.8,32.4 399.7,31.4 400.6,30.4 401.4,29.5 402.2,28.7 403.0,28.0 403.8,27.3 404.6,26.7 405.3,26.2 406.0,25.7 406.6,25.3 407.0,25.0 M378.0,112.0 378.3,111.1 378.8,109.9 379.3,108.5 379.9,107.0 380.4,105.4 381.0,104.0 381.6,102.6 382.1,101.2 382.7,99.8 383.3,98.5 383.9,97.2 384.5,96.0 385.1,94.9 385.6,93.9 386.1,93.0 386.7,92.2 387.3,91.3 388.0,90.5 388.8,89.7 389.7,88.9 390.7,88.1 391.7,87.3 392.7,86.6 393.7,86.0 394.7,85.4 395.7,85.0 396.8,84.5 397.9,84.1 398.9,83.8 400.0,83.5 401.0,83.2 402.1,83.0 403.1,82.8 404.1,82.6 405.3,82.6 406.5,82.7 407.9,82.9 409.3,83.3 410.9,83.8 412.4,84.3 414.0,84.9 415.6,85.5 417.2,86.2 418.8,87.0 420.4,87.8 422.0,88.6 423.6,89.4 425.0,90.1 426.3,90.7 427.6,91.2 428.8,91.7 429.9,92.2 431.1,92.6 432.3,93.0 433.5,93.4 434.7,93.7 436.0,94.0 437.2,94.3 438.4,94.6 439.6,94.9 440.8,95.2 442.0,95.5 443.2,95.8 444.5,96.1 445.7,96.4 446.9,96.7 448.1,97.0 449.3,97.2 450.5,97.5 451.8,97.7 453.0,97.9 454.2,98.1 455.4,98.3 456.7,98.4 457.9,98.6 459.1,98.7 460.3,98.8 461.5,98.9 462.6,99.0 463.7,99.0 464.8,99.1 465.8,99.1 466.9,99.2 468.0,99.2 469.1,99.2 470.1,99.3 471.2,99.3 472.3,99.3 473.5,99.3 475.0,99.2 476.7,99.1 478.7,98.9 480.8,98.8 483.0,98.6 485.0,98.4 486.8,98.2 488.5,98.0 490.1,97.9 491.6,97.7 493.0,97.6 494.1,97.5 495.0,97.4 M380.0,106.0 380.4,105.4 381.0,104.7 381.6,103.8 382.4,102.8 383.2,101.8 384.0,101.0 384.8,100.2 385.7,99.5 386.6,98.8 387.6,98.1 388.7,97.5 390.0,97.0 391.4,96.6 393.0,96.2 394.8,95.9 396.5,95.7 398.3,95.5 400.0,95.5 401.7,95.5 403.4,95.7 405.1,95.9 406.7,96.2 408.4,96.5 410.0,97.0 411.6,97.6 413.2,98.3 414.8,99.2 416.3,100.0 417.8,100.8 419.2,101.5 420.5,102.1 421.6,102.6 422.7,103.1 423.8,103.5 424.9,104.0 426.0,104.5 427.1,105.0 428.2,105.3 429.4,105.7 430.6,106.2 431.8,106.8 433.3,107.6 435.0,108.6 436.8,109.9 438.8,111.3 440.8,112.7 442.8,114.2 444.6,115.6 446.3,117.0 448.0,118.4 449.6,119.9 451.1,121.3 452.8,122.7 454.5,124.1 456.3,125.5 458.2,126.8 460.1,128.1 462.1,129.4 464.0,130.6 465.8,131.8 467.5,132.9 469.2,133.9 470.9,134.9 472.5,135.8 474.2,136.7 475.8,137.5 477.5,138.2 479.1,138.9 480.8,139.6 482.4,140.1 484.1,140.6 485.7,141.0 487.4,141.3 489.2,141.5 491.0,141.6 492.6,141.6 494.0,141.7 495.0,141.7 M245.0,197.3 245.8,196.3 246.9,195.0 248.3,193.5 249.7,191.8 251.2,190.1 252.5,188.5 253.7,187.0 254.9,185.5 256.1,183.9 257.3,182.3 258.6,180.8 259.9,179.2 261.3,177.6 262.7,176.0 264.1,174.4 265.6,172.8 267.1,171.1 268.5,169.5 269.9,167.8 271.3,166.1 272.7,164.4 274.1,162.7 275.5,161.0 276.9,159.4 278.3,157.8 279.7,156.2 281.1,154.6 282.6,153.1 284.0,151.6 285.4,150.2 286.8,148.8 288.1,147.5 289.5,146.2 290.9,145.0 292.3,143.7 293.8,142.5 295.4,141.2 297.2,139.9 298.9,138.6 300.7,137.4 302.3,136.3 303.8,135.4 305.0,134.8 306.1,134.4 307.1,134.1 308.0,133.9 308.9,133.8 310.0,133.5 311.2,133.2 312.4,132.9 313.7,132.6 315.0,132.3 316.2,131.9 317.5,131.5 318.7,131.0 320.0,130.3 321.2,129.7 322.5,129.0 323.7,128.4 325.0,127.8 326.3,127.3 327.5,126.9 328.8,126.6 330.1,126.2 331.4,125.8 332.7,125.4 334.1,124.9 335.5,124.3 336.9,123.7 338.3,123.1 339.6,122.6 340.9,122.2 342.1,121.9 343.1,121.6 344.1,121.4 345.1,121.2 346.1,121.1 347.0,121.0 347.9,121.0 348.7,121.0 349.6,121.0 350.4,121.2 351.2,121.3 352.0,121.5 352.8,121.8 353.7,122.1 354.5,122.5 355.3,122.9 356.2,123.2 357.0,123.5 357.8,123.7 358.7,123.9 359.5,124.0 360.3,124.1 361.2,124.1 362.0,124.0 362.8,123.8 363.6,123.6 364.4,123.3 365.2,122.9 366.1,122.5 367.0,122.0 368.1,121.4 369.3,120.7 370.6,119.9 371.8,119.1 372.9,118.5 373.6,118.0 M246.2,197.3 247.0,196.4 248.1,195.1 249.4,193.5 250.8,191.9 252.2,190.2 253.5,188.6 254.7,187.1 255.9,185.6 257.2,184.0 258.4,182.5 259.7,180.9 261.0,179.3 262.4,177.7 263.8,176.0 265.2,174.4 266.7,172.7 268.1,171.0 269.5,169.3 270.9,167.6 272.2,165.8 273.6,164.0 274.9,162.2 276.2,160.5 277.6,158.8 279.0,157.2 280.4,155.6 281.8,154.0 283.2,152.5 284.6,151.0 286.0,149.5 287.3,148.0 288.6,146.6 289.8,145.1 291.1,143.7 292.4,142.3 293.8,141.0 295.4,139.6 297.1,138.3 298.9,136.9 300.6,135.6 302.3,134.5 303.8,133.5 305.1,132.7 306.3,132.2 307.5,131.7 308.6,131.3 309.7,130.9 310.8,130.4 312.0,129.9 313.1,129.3 314.3,128.8 315.5,128.2 316.7,127.6 318.0,127.0 319.3,126.3 320.7,125.6 322.2,124.8 323.6,124.0 325.1,123.2 326.5,122.5 328.0,121.8 329.4,121.0 330.9,120.3 332.4,119.6 333.8,119.0 335.0,118.4 336.1,117.9 337.0,117.5 337.9,117.1 338.7,116.7 339.6,116.4 340.5,116.0 341.5,115.6 342.4,115.2 343.4,114.8 344.4,114.5 345.5,114.1 346.7,113.7 348.1,113.3 349.6,113.0 351.1,112.6 352.8,112.3 354.4,111.9 356.0,111.4 357.6,110.9 359.3,110.3 360.9,109.7 362.5,109.1 364.0,108.5 365.4,107.9 366.6,107.3 367.7,106.6 368.7,106.0 369.7,105.3 370.5,104.8 371.2,104.3 371.8,103.9 372.3,103.6 372.8,103.4 373.1,103.3 373.4,103.1 373.6,103.0 M277.2,197.3 278.1,196.0 279.4,194.3 281.0,192.2 282.6,190.0 284.3,187.7 285.8,185.7 287.2,183.8 288.7,181.9 290.1,180.0 291.6,178.1 293.0,176.3 294.5,174.5 295.9,172.8 297.4,171.1 298.9,169.5 300.3,167.9 301.8,166.3 303.2,164.7 304.6,163.1 306.1,161.6 307.5,160.1 309.0,158.5 310.4,157.0 311.9,155.5 313.4,154.0 314.9,152.4 316.5,150.9 318.1,149.4 319.6,147.8 321.1,146.3 322.6,144.7 324.2,143.1 325.7,141.5 327.1,139.9 328.5,138.5 329.8,137.2 330.9,136.1 331.9,135.2 332.7,134.3 333.6,133.6 334.4,132.8 335.4,132.0 336.4,131.1 337.5,130.3 338.5,129.4 339.7,128.6 340.8,127.8 342.0,127.0 343.3,126.2 344.6,125.5 346.0,124.7 347.4,124.0 348.7,123.5 350.0,123.0 351.2,122.7 352.4,122.4 353.6,122.3 354.7,122.3 355.8,122.3 357.0,122.5 358.2,122.8 359.4,123.2 360.6,123.7 361.8,124.3 362.9,124.9 364.0,125.5 365.0,126.2 365.8,126.9 366.7,127.7 367.4,128.5 368.2,129.3 369.0,130.0 369.8,130.7 370.7,131.5 371.6,132.3 372.4,133.0 373.1,133.6 373.6,134.0 M279.2,197.3 279.9,196.6 280.8,195.6 282.0,194.4 283.2,193.1 284.5,191.7 285.8,190.3 287.1,188.8 288.5,187.2 290.0,185.6 291.5,183.9 293.0,182.2 294.5,180.6 295.9,179.0 297.4,177.5 298.9,176.0 300.3,174.4 301.8,172.9 303.2,171.4 304.6,169.9 306.1,168.4 307.5,166.9 309.0,165.3 310.4,163.8 311.9,162.2 313.4,160.6 314.9,158.9 316.5,157.1 318.1,155.4 319.6,153.7 321.1,152.0 322.6,150.3 324.2,148.6 325.7,146.9 327.1,145.3 328.5,143.7 329.8,142.3 330.9,141.1 331.9,139.9 332.7,138.9 333.6,138.0 334.4,137.0 335.4,136.1 336.4,135.2 337.5,134.3 338.5,133.4 339.7,132.5 340.8,131.7 342.0,131.0 343.3,130.3 344.6,129.6 346.0,129.0 347.4,128.5 348.7,127.9 350.0,127.5 351.2,127.1 352.4,126.7 353.6,126.4 354.7,126.2 355.8,126.0 357.0,126.0 358.1,126.1 359.2,126.2 360.3,126.4 361.5,126.7 362.7,127.2 364.0,128.0 365.6,129.1 367.4,130.7 369.2,132.4 371.0,134.1 372.5,135.5 373.6,136.5 M285.3,197.3 286.3,196.4 287.7,195.3 289.4,193.9 291.1,192.4 292.9,190.8 294.5,189.3 296.0,187.8 297.4,186.3 298.9,184.8 300.3,183.2 301.8,181.6 303.2,180.1 304.6,178.6 306.1,177.1 307.5,175.6 309.0,174.0 310.4,172.5 311.9,170.9 313.4,169.3 314.9,167.6 316.5,165.9 318.1,164.1 319.6,162.4 321.1,160.7 322.6,158.9 324.2,157.1 325.7,155.3 327.1,153.5 328.5,151.9 329.8,150.4 330.9,149.1 331.9,148.1 332.7,147.1 333.6,146.2 334.4,145.3 335.4,144.3 336.4,143.2 337.5,142.1 338.6,140.9 339.7,139.7 340.9,138.6 342.0,137.5 343.1,136.4 344.3,135.3 345.5,134.3 346.7,133.3 347.8,132.3 349.0,131.5 350.2,130.7 351.4,130.0 352.6,129.4 353.7,128.9 354.9,128.4 356.0,128.0 357.1,127.7 358.1,127.5 359.1,127.4 360.0,127.3 361.0,127.4 362.0,127.5 363.1,127.8 364.2,128.2 365.4,128.7 366.4,129.2 367.3,129.7 368.0,130.0 M293.0,197.3 294.1,195.9 295.7,193.8 297.6,191.5 299.5,188.9 301.5,186.4 303.2,184.2 304.7,182.2 306.2,180.2 307.6,178.3 309.0,176.4 310.4,174.6 311.9,172.9 313.4,171.3 314.9,169.7 316.5,168.2 318.1,166.7 319.6,165.2 321.1,163.7 322.6,162.1 324.1,160.4 325.6,158.8 327.1,157.1 328.5,155.5 329.8,154.0 331.0,152.6 332.0,151.2 333.0,149.9 334.0,148.6 334.9,147.3 336.0,146.0 337.1,144.7 338.3,143.4 339.4,142.1 340.6,140.8 341.8,139.6 343.0,138.5 344.2,137.4 345.4,136.4 346.6,135.4 347.7,134.5 348.9,133.7 350.0,133.0 351.1,132.4 352.1,131.8 353.1,131.4 354.0,131.0 355.0,130.7 356.0,130.5 357.0,130.4 358.0,130.4 359.0,130.4 360.0,130.5 361.0,130.7 362.0,131.0 363.0,131.3 364.0,131.8 365.0,132.3 366.0,132.8 367.0,133.4 368.0,134.0 369.0,134.7 370.1,135.4 371.2,136.2 372.2,136.9 373.0,137.6 373.6,138.0 M303.0,197.3 304.0,195.5 305.3,193.0 306.9,190.0 308.6,186.8 310.3,183.8 311.9,181.1 313.4,178.8 315.0,176.7 316.5,174.7 318.1,172.7 319.6,170.8 321.1,168.8 322.6,166.7 324.2,164.6 325.7,162.5 327.1,160.4 328.5,158.5 329.8,156.6 330.9,154.9 331.9,153.2 332.8,151.7 333.6,150.2 334.5,148.8 335.4,147.4 336.3,146.0 337.3,144.7 338.2,143.5 339.1,142.3 340.0,141.1 341.0,140.0 342.0,138.9 343.0,137.8 344.0,136.8 345.0,135.8 346.0,134.9 347.0,134.0 348.0,133.1 349.0,132.3 350.0,131.5 351.0,130.8 352.0,130.1 353.0,129.5 354.0,129.0 355.0,128.5 356.0,128.1 357.0,127.8 358.0,127.6 359.0,127.5 360.0,127.5 360.9,127.6 361.8,127.8 362.8,128.1 363.8,128.5 365.0,129.0 366.4,129.7 368.0,130.6 369.7,131.6 371.3,132.6 372.6,133.4 373.6,134.0 M306.5,197.3 307.3,195.7 308.4,193.5 309.7,191.0 311.1,188.2 312.6,185.5 314.0,183.0 315.4,180.7 316.8,178.5 318.2,176.3 319.7,174.2 321.1,172.1 322.5,170.0 323.9,168.0 325.3,166.0 326.7,164.0 328.0,162.1 329.3,160.3 330.5,158.5 331.6,156.8 332.7,155.3 333.7,153.8 334.6,152.3 335.6,150.9 336.5,149.5 337.4,148.1 338.4,146.8 339.2,145.5 340.1,144.3 341.1,143.1 342.0,142.0 343.0,140.9 344.0,139.9 345.0,139.0 346.0,138.1 347.0,137.3 348.0,136.5 349.0,135.8 350.0,135.1 351.0,134.5 352.0,133.9 353.0,133.4 354.0,133.0 355.0,132.7 356.0,132.4 357.0,132.2 358.0,132.1 359.0,132.0 360.0,132.0 361.0,132.1 361.9,132.2 362.9,132.4 363.9,132.7 364.9,133.1 366.0,133.5 367.3,134.1 368.7,134.8 370.2,135.6 371.6,136.4 372.8,137.0 373.6,137.5 M308.5,197.3 309.3,195.8 310.4,193.8 311.8,191.4 313.2,188.9 314.6,186.3 316.0,184.0 317.3,181.9 318.6,179.7 320.0,177.6 321.3,175.6 322.7,173.5 324.0,171.5 325.4,169.5 326.7,167.5 328.1,165.5 329.5,163.6 330.8,161.8 332.0,160.0 333.1,158.3 334.1,156.8 335.1,155.3 336.1,153.8 337.0,152.4 338.0,151.0 339.0,149.6 340.0,148.2 341.0,146.8 342.0,145.4 343.0,144.2 344.0,143.0 345.0,141.9 346.0,140.9 347.0,139.9 348.0,139.0 349.0,138.2 350.0,137.5 351.0,136.9 352.0,136.3 353.0,135.9 354.0,135.5 355.0,135.2 356.0,135.0 357.0,134.9 358.0,134.9 359.0,135.0 360.0,135.2 361.0,135.4 362.0,135.5 363.1,135.6 364.2,135.8 365.4,136.0 366.4,136.2 367.3,136.4 368.0,136.5 M310.5,197.3 311.3,196.0 312.4,194.1 313.8,191.9 315.2,189.5 316.6,187.2 318.0,185.0 319.3,183.0 320.6,180.9 322.0,178.9 323.3,176.9 324.7,174.9 326.0,173.0 327.4,171.1 328.7,169.2 330.1,167.3 331.5,165.5 332.8,163.7 334.0,162.0 335.1,160.4 336.1,158.8 337.1,157.3 338.1,155.8 339.0,154.4 340.0,153.0 341.0,151.6 342.0,150.3 343.0,149.0 344.0,147.8 345.0,146.6 346.0,145.5 347.0,144.4 348.0,143.4 349.0,142.4 350.0,141.5 351.0,140.7 352.0,140.0 353.1,139.5 354.2,139.1 355.4,138.9 356.4,138.7 357.3,138.6 358.0,138.5 M313.5,197.3 314.3,196.1 315.3,194.4 316.5,192.3 317.9,190.2 319.2,188.0 320.5,186.0 321.7,184.1 322.9,182.3 324.2,180.5 325.4,178.7 326.7,176.8 328.0,175.0 329.3,173.1 330.7,171.2 332.1,169.3 333.5,167.5 334.8,165.7 336.0,164.0 337.1,162.4 338.1,160.9 339.1,159.5 340.1,158.1 341.0,156.8 342.0,155.5 343.0,154.2 344.0,153.0 345.0,151.8 346.0,150.6 347.0,149.5 348.0,148.5 349.0,147.5 350.0,146.6 351.0,145.7 352.0,144.9 353.0,144.1 354.0,143.5 355.1,143.0 356.2,142.5 357.4,142.2 358.4,141.9 359.3,141.7 360.0,141.5 M333.0,168.5 333.8,168.2 335.0,167.7 336.3,167.2 337.8,166.6 339.3,166.0 340.8,165.4 342.3,164.8 343.9,164.3 345.6,163.7 347.3,163.1 348.8,162.5 350.2,161.9 351.4,161.3 352.5,160.6 353.4,160.0 354.3,159.3 355.2,158.7 356.0,158.0 356.8,157.3 357.5,156.6 358.1,155.9 358.7,155.2 359.3,154.6 360.0,154.0 360.7,153.5 361.4,153.0 362.1,152.5 362.8,152.1 363.5,151.7 364.2,151.4 364.8,151.1 365.4,150.9 366.0,150.8 366.6,150.6 367.3,150.5 368.0,150.4 368.8,150.3 369.7,150.3 370.7,150.2 371.7,150.2 372.7,150.2 373.6,150.2 374.5,150.2 375.5,150.2 376.4,150.2 377.3,150.3 378.2,150.3 379.0,150.4 379.7,150.5 380.4,150.6 381.1,150.7 381.7,150.8 382.3,151.0 383.0,151.4 383.7,151.9 384.4,152.5 385.2,153.2 386.0,153.9 386.8,154.7 387.6,155.5 388.5,156.4 389.4,157.3 390.4,158.2 391.3,159.2 392.4,160.1 393.4,161.0 394.5,161.8 395.7,162.6 397.0,163.3 398.2,164.0 399.4,164.6 400.4,165.2 401.3,165.7 402.1,166.1 402.8,166.4 403.5,166.7 404.2,167.1 405.1,167.5 406.2,168.1 407.5,168.7 408.8,169.4 410.1,170.0 411.2,170.6 412.0,171.0 M333.0,171.0 334.4,170.5 336.3,169.9 338.6,169.1 340.9,168.3 343.2,167.5 345.0,166.8 346.5,166.2 347.7,165.8 348.9,165.3 349.9,164.9 350.9,164.4 352.0,163.8 353.1,163.1 354.1,162.4 355.2,161.6 356.2,160.8 357.1,160.0 358.0,159.2 358.8,158.5 359.5,157.7 360.1,157.0 360.7,156.3 361.4,155.6 362.0,155.0 362.7,154.4 363.3,153.7 364.0,153.1 364.7,152.5 365.3,152.0 366.0,151.6 366.7,151.3 367.3,151.0 368.0,150.8 368.7,150.7 369.4,150.6 370.0,150.5 370.6,150.4 371.2,150.4 371.8,150.3 372.4,150.3 373.0,150.3 373.6,150.3 374.2,150.3 374.7,150.3 375.3,150.3 375.8,150.4 376.4,150.4 377.0,150.5 377.6,150.6 378.3,150.7 379.0,150.8 379.6,151.0 380.3,151.3 381.0,151.6 381.7,152.0 382.3,152.5 383.0,153.1 383.7,153.7 384.3,154.4 385.0,155.0 385.6,155.6 386.3,156.3 386.9,157.0 387.5,157.7 388.2,158.5 389.0,159.2 389.9,160.0 390.8,160.8 391.8,161.6 392.9,162.4 393.9,163.1 395.0,163.8 396.1,164.4 397.1,164.9 398.2,165.4 399.4,165.8 400.6,166.3 402.0,166.8 403.6,167.4 405.5,168.1 407.4,168.8 409.3,169.5 410.9,170.1 412.0,170.5 M338.0,142.5 339.0,142.4 340.4,142.2 342.0,142.0 343.7,141.8 345.3,141.6 346.7,141.4 347.8,141.2 348.8,141.1 349.6,140.9 350.5,140.8 351.2,140.7 352.0,140.6 352.7,140.6 353.4,140.5 354.1,140.5 354.7,140.6 355.3,140.7 356.0,140.8 356.7,141.0 357.3,141.3 358.0,141.6 358.7,141.9 359.3,142.2 360.0,142.5 360.7,142.8 361.4,143.0 362.1,143.3 362.8,143.5 363.5,143.7 364.2,143.8 364.9,143.8 365.6,143.8 366.3,143.8 367.0,143.7 367.7,143.6 368.5,143.5 369.3,143.4 370.2,143.2 371.0,143.0 371.9,142.8 372.8,142.7 373.6,142.6 374.4,142.6 375.1,142.8 375.9,142.9 376.6,143.1 377.3,143.3 378.0,143.5 378.7,143.7 379.3,143.9 379.9,144.0 380.4,144.2 381.1,144.3 381.7,144.3 382.4,144.2 383.1,144.1 383.8,143.8 384.5,143.6 385.2,143.3 386.0,143.0 386.8,142.7 387.5,142.3 388.3,141.8 389.2,141.4 390.0,141.1 391.0,140.8 392.1,140.6 393.2,140.5 394.4,140.5 395.7,140.4 396.9,140.5 398.0,140.5 399.1,140.6 400.3,140.8 401.4,141.0 402.5,141.2 403.4,141.4 404.0,141.5 M340.0,144.5 340.9,144.4 342.1,144.1 343.5,143.9 345.0,143.6 346.6,143.4 348.0,143.2 349.3,143.0 350.7,142.8 352.0,142.6 353.3,142.5 354.7,142.5 356.0,142.6 357.3,142.9 358.7,143.4 360.0,144.0 361.4,144.6 362.8,145.0 364.2,145.3 365.7,145.3 367.3,145.1 368.9,144.8 370.5,144.5 372.1,144.3 373.6,144.2 375.0,144.4 376.4,144.7 377.7,145.1 379.0,145.5 380.3,145.8 381.7,145.8 383.2,145.5 384.7,144.9 386.3,144.3 387.9,143.6 389.5,142.9 391.0,142.5 392.6,142.3 394.4,142.2 396.1,142.2 397.7,142.2 399.0,142.3 400.0,142.3 M320.0,197.3 321.4,196.1 323.3,194.4 325.5,192.4 327.9,190.4 330.1,188.5 332.0,187.0 333.6,185.9 335.0,184.9 336.3,184.1 337.6,183.4 338.8,182.9 340.0,182.5 341.2,182.3 342.2,182.5 343.3,182.8 344.3,183.0 345.4,183.1 346.7,182.9 348.1,182.3 349.6,181.5 351.3,180.5 352.9,179.4 354.5,178.4 356.0,177.6 357.4,176.9 358.8,176.3 360.1,175.7 361.4,175.1 362.8,174.6 364.2,174.1 365.7,173.6 367.2,173.1 368.8,172.6 370.4,172.2 372.0,171.9 373.6,171.8 375.2,171.9 376.8,172.2 378.4,172.6 380.0,173.1 381.5,173.6 383.0,174.1 384.4,174.6 385.7,175.1 387.0,175.7 388.3,176.3 389.6,177.0 391.0,177.6 392.4,178.3 393.8,178.9 395.2,179.6 396.7,180.3 398.3,181.1 400.0,182.0 401.9,182.9 404.1,183.9 406.3,185.0 408.6,186.1 410.8,187.3 413.0,188.5 415.2,189.9 417.5,191.6 419.8,193.3 421.9,194.9 423.7,196.3 425.0,197.3 M318.0,197.3 319.3,196.2 321.2,194.7 323.5,192.9 325.8,191.1 328.1,189.6 330.0,188.5 331.6,188.0 333.1,187.9 334.5,188.1 335.8,188.3 337.1,188.4 338.5,188.2 339.9,187.7 341.2,187.0 342.5,186.1 343.9,185.3 345.3,184.4 346.7,183.5 348.2,182.7 349.8,181.8 351.4,180.9 352.9,180.0 354.5,179.2 356.0,178.4 357.4,177.7 358.8,177.0 360.1,176.4 361.4,175.8 362.8,175.3 364.2,174.8 365.7,174.3 367.2,173.8 368.8,173.3 370.4,173.0 372.0,172.7 373.6,172.6 375.2,172.7 376.8,173.0 378.4,173.3 380.0,173.8 381.5,174.3 383.0,174.8 384.4,175.3 385.7,175.9 387.0,176.5 388.3,177.1 389.6,177.7 391.0,178.4 392.4,179.1 393.8,179.8 395.2,180.5 396.7,181.3 398.3,182.1 400.0,183.0 401.9,184.0 403.9,185.1 406.0,186.3 408.1,187.6 410.1,188.8 412.0,190.0 413.8,191.3 415.6,192.7 417.2,194.1 418.8,195.4 420.1,196.5 421.0,197.3 M326.0,197.3 327.2,196.3 328.8,194.8 330.7,193.1 332.8,191.3 334.9,189.5 337.0,188.0 339.1,186.7 341.2,185.4 343.4,184.2 345.7,183.0 347.9,182.0 350.0,181.0 352.1,180.1 354.1,179.3 356.1,178.6 358.1,178.0 360.0,177.5 362.0,177.0 364.0,176.6 365.9,176.3 367.8,176.1 369.8,175.9 371.7,175.8 373.6,175.8 375.5,175.8 377.4,175.9 379.3,176.1 381.2,176.3 383.1,176.6 385.0,177.0 387.0,177.5 389.0,178.0 391.0,178.6 393.0,179.3 395.0,180.1 397.0,181.0 399.0,182.1 401.1,183.4 403.2,184.7 405.2,186.2 407.2,187.6 409.0,189.0 410.8,190.5 412.6,192.1 414.2,193.7 415.8,195.1 417.1,196.4 418.0,197.3 M350.0,197.3 350.9,196.5 352.1,195.3 353.6,193.9 355.3,192.4 357.1,191.1 359.0,190.0 361.1,189.1 363.5,188.2 366.0,187.5 368.5,186.9 371.1,186.4 373.6,186.3 376.1,186.4 378.6,186.9 381.2,187.5 383.6,188.2 385.9,189.1 388.0,190.0 389.9,191.1 391.7,192.4 393.4,193.9 394.9,195.3 396.1,196.5 397.0,197.3 M354.0,197.3 354.8,196.8 355.9,196.0 357.3,195.1 358.8,194.1 360.4,193.2 362.0,192.5 363.7,191.9 365.6,191.3 367.6,190.8 369.6,190.4 371.6,190.1 373.6,190.0 375.6,190.1 377.5,190.4 379.5,190.8 381.5,191.3 383.3,191.9 385.0,192.5 386.6,193.2 388.2,194.1 389.7,195.1 391.1,196.0 392.2,196.8 393.0,197.3 M333.0,133.0 333.8,132.5 334.8,131.7 336.1,130.8 337.4,129.8 338.8,128.9 340.0,128.0 341.2,127.2 342.4,126.4 343.6,125.6 344.7,124.8 345.9,124.1 347.0,123.5 348.1,123.0 349.1,122.5 350.1,122.1 351.1,121.8 352.1,121.6 353.0,121.5 353.9,121.6 354.8,121.8 355.6,122.2 356.4,122.6 357.2,122.9 358.0,123.0 358.7,123.0 359.4,122.8 360.1,122.6 360.7,122.4 361.3,122.2 362.0,122.0 362.7,121.8 363.3,121.6 364.0,121.4 364.7,121.3 365.3,121.3 366.0,121.5 366.7,121.9 367.3,122.5 368.0,123.2 368.7,124.1 369.4,125.0 370.0,126.0 370.7,127.2 371.4,128.7 372.1,130.3 372.7,131.8 373.2,133.1 373.6,134.0 M373.6,134.0 374.0,133.1 374.5,131.8 375.1,130.2 375.7,128.7 376.4,127.2 377.0,126.0 377.6,125.1 378.3,124.2 378.9,123.5 379.6,122.9 380.3,122.4 381.0,122.0 381.8,121.7 382.6,121.5 383.4,121.3 384.2,121.3 385.1,121.4 386.0,121.5 386.9,121.7 387.9,122.1 388.9,122.5 389.9,123.0 390.9,123.5 392.0,124.0 393.1,124.5 394.3,125.0 395.4,125.5 396.6,126.0 397.8,126.5 399.0,127.0 400.2,127.5 401.6,128.1 402.9,128.7 404.2,129.2 405.2,129.7 406.0,130.0 M373.9,119.8 374.7,119.6 375.8,119.2 377.2,118.8 378.7,118.5 380.2,118.3 381.7,118.4 383.2,118.8 384.8,119.3 386.4,120.1 388.1,120.9 389.8,121.7 391.6,122.6 393.5,123.5 395.5,124.5 397.6,125.6 399.5,126.6 401.4,127.5 402.9,128.3 404.1,128.8 405.0,129.2 405.8,129.5 406.5,129.7 407.2,130.0 408.0,130.4 408.8,130.9 409.6,131.3 410.4,131.8 411.3,132.4 412.3,133.1 413.5,134.0 414.9,135.1 416.5,136.4 418.2,137.8 419.9,139.3 421.7,140.9 423.4,142.5 425.0,144.2 426.7,146.1 428.3,148.1 430.0,150.0 431.6,152.0 433.3,153.8 435.0,155.5 436.7,157.3 438.3,158.9 440.0,160.6 441.6,162.1 443.2,163.7 444.7,165.2 446.1,166.7 447.5,168.1 448.9,169.5 450.3,170.9 451.7,172.2 453.1,173.5 454.5,174.6 455.9,175.8 457.4,176.9 458.8,178.0 460.2,179.2 461.6,180.4 463.0,181.6 464.4,182.8 465.8,184.0 467.2,185.2 468.7,186.3 470.3,187.4 471.9,188.4 473.7,189.4 475.4,190.4 477.0,191.2 478.6,192.0 480.1,192.7 481.6,193.2 483.0,193.7 484.4,194.1 485.7,194.4 487.1,194.8 488.5,195.1 490.1,195.4 491.6,195.7 493.0,195.9 494.1,196.1 495.0,196.2 M376.0,123.0 377.0,123.1 378.4,123.3 380.1,123.5 381.8,123.8 383.5,124.1 385.0,124.5 386.3,125.0 387.5,125.5 388.7,126.0 389.8,126.6 390.9,127.3 392.0,128.0 393.0,128.7 394.0,129.5 395.0,130.3 396.0,131.2 397.0,132.1 398.0,133.0 399.1,133.9 400.2,134.8 401.3,135.7 402.5,136.8 403.7,138.0 405.0,139.6 406.4,141.5 407.8,143.8 409.3,146.3 410.8,148.9 412.2,151.4 413.5,153.8 414.6,156.0 415.6,158.1 416.4,160.2 417.3,162.3 418.2,164.4 419.2,166.5 420.3,168.6 421.4,170.8 422.6,172.9 423.8,175.1 425.0,177.2 426.2,179.2 427.4,181.2 428.7,183.3 429.9,185.3 431.1,187.2 432.3,189.0 433.3,190.6 434.2,192.1 435.1,193.4 435.8,194.7 436.5,195.7 437.1,196.6 437.5,197.3 M377.0,126.0 378.0,126.1 379.4,126.3 381.0,126.5 382.7,126.7 384.5,127.1 386.0,127.5 387.4,128.1 388.8,128.8 390.2,129.5 391.5,130.4 392.8,131.2 394.0,132.0 395.1,132.8 396.1,133.6 397.1,134.4 398.1,135.2 399.0,136.1 400.0,137.0 401.0,137.8 402.0,138.6 402.9,139.4 403.9,140.4 404.9,141.5 406.0,143.0 407.1,144.9 408.3,147.1 409.4,149.5 410.6,152.0 411.8,154.6 413.0,157.0 414.2,159.3 415.3,161.7 416.5,164.0 417.7,166.3 418.8,168.7 420.0,171.0 421.2,173.4 422.4,175.7 423.6,178.1 424.7,180.5 425.9,182.8 427.0,185.0 428.1,187.3 429.3,189.7 430.4,192.0 431.5,194.2 432.4,196.0 433.0,197.3 M376.0,131.0 376.8,131.0 377.8,130.9 379.1,130.8 380.4,130.7 381.8,130.8 383.0,131.0 384.2,131.4 385.4,132.0 386.6,132.6 387.7,133.4 388.9,134.2 390.0,135.0 391.1,135.9 392.1,136.8 393.1,137.8 394.0,138.8 395.0,139.9 396.0,141.0 397.0,142.2 398.0,143.3 399.0,144.6 400.0,145.9 401.0,147.4 402.0,149.0 403.0,150.9 404.0,152.9 405.0,155.1 406.0,157.3 407.0,159.7 408.0,162.0 409.0,164.3 410.0,166.7 411.0,169.0 412.0,171.5 413.0,174.2 414.0,177.0 415.1,180.3 416.2,184.1 417.4,188.1 418.4,191.8 419.3,195.0 420.0,197.3 M376.0,133.0 376.9,133.1 378.1,133.1 379.6,133.2 381.1,133.3 382.6,133.6 384.0,134.0 385.2,134.6 386.4,135.3 387.6,136.1 388.8,137.0 389.9,137.9 391.0,139.0 392.1,140.1 393.1,141.3 394.1,142.6 395.1,144.0 396.1,145.5 397.0,147.0 397.9,148.6 398.7,150.3 399.6,152.1 400.4,154.0 401.2,156.0 402.0,158.0 402.8,160.2 403.7,162.5 404.6,164.9 405.4,167.3 406.2,169.7 407.0,172.0 407.7,174.2 408.4,176.4 409.1,178.6 409.8,180.8 410.4,182.9 411.0,185.0 411.6,187.2 412.2,189.6 412.8,192.0 413.3,194.1 413.7,196.0 414.0,197.3 M376.0,136.0 376.8,136.2 377.9,136.4 379.1,136.6 380.5,137.0 381.8,137.4 383.0,138.0 384.1,138.7 385.1,139.6 386.1,140.6 387.1,141.6 388.1,142.8 389.0,144.0 389.9,145.3 390.7,146.7 391.6,148.1 392.4,149.7 393.2,151.3 394.0,153.0 394.8,154.8 395.7,156.7 396.5,158.6 397.3,160.7 398.2,162.8 399.0,165.0 399.9,167.3 400.7,169.7 401.6,172.2 402.5,174.7 403.3,177.3 404.0,180.0 404.7,183.0 405.3,186.2 405.8,189.6 406.3,192.7 406.7,195.4 407.0,197.3" fill="none" stroke="#080808" stroke-width="1.08"/>
<path d="M344.4,66.3 344.7,67.2 345.2,68.5 345.7,70.0 346.3,71.6 346.9,73.1 347.4,74.5 347.9,75.8 348.4,77.0 348.9,78.2 349.5,79.3 350.0,80.5 350.5,81.5 351.0,82.5 351.6,83.4 352.1,84.2 352.7,85.0 353.2,85.9 353.6,86.7 354.0,87.6 354.3,88.4 354.6,89.3 354.9,90.1 355.2,90.9 355.5,91.7 355.9,92.4 356.2,93.0 356.6,93.6 357.0,94.2 357.4,94.8 357.7,95.5 358.0,96.3 358.3,97.0 358.6,97.9 358.9,98.7 359.2,99.6 359.5,100.5 359.9,101.4 360.3,102.4 360.7,103.5 361.1,104.5 361.5,105.5 362.0,106.5 362.5,107.5 362.9,108.5 363.4,109.4 363.9,110.4 364.5,111.2 365.0,112.0 365.6,112.7 366.3,113.3 366.9,113.8 367.6,114.3 368.1,114.7 368.5,115.0" fill="none" stroke="#c80808" stroke-width="2.6" stroke-dasharray="5.5 3"/>
<path d="M308.0,131.0 309.1,130.6 310.6,130.0 312.5,129.3 314.4,128.5 316.3,127.7 318.0,126.9 319.5,126.0 321.1,125.1 322.5,124.1 323.9,123.1 325.3,122.1 326.5,121.2 327.6,120.4 328.5,119.5 329.4,118.8 330.3,118.0 331.1,117.2 332.0,116.5 333.0,115.8 334.0,115.0 335.0,114.3 336.0,113.6 336.9,112.9 337.8,112.2 338.6,111.5 339.3,110.9 340.0,110.2 340.6,109.6 341.3,109.0 342.0,108.5 342.8,108.0 343.6,107.6 344.5,107.2 345.4,106.9 346.2,106.7 347.0,106.6 347.7,106.7 348.4,106.9 349.1,107.2 349.7,107.6 350.4,108.0 351.0,108.5 351.7,109.0 352.3,109.7 353.0,110.4 353.6,111.1 354.2,111.8 354.8,112.5 355.3,113.2 355.8,113.9 356.2,114.6 356.7,115.3 357.1,116.0 357.5,116.5 357.9,117.0 358.3,117.4 358.7,117.7 359.1,118.0 359.6,118.2 360.0,118.4 360.5,118.5 360.9,118.6 361.4,118.7 361.9,118.7 362.5,118.6 363.0,118.5 363.5,118.3 364.1,118.1 364.7,117.8 365.3,117.5 365.9,117.3 366.5,117.0 367.1,116.8 367.7,116.5 368.3,116.3 369.0,116.1 369.6,115.9 370.4,115.8 371.3,115.8 372.2,115.8 373.2,115.8 374.2,115.9 375.1,116.1 376.0,116.2 376.8,116.4 377.5,116.7 378.1,117.0 378.7,117.2 379.4,117.4 380.0,117.5 380.7,117.5 381.4,117.4 382.1,117.2 382.7,116.9 383.4,116.5 384.0,116.0 384.6,115.3 385.1,114.5 385.6,113.6 386.1,112.6 386.6,111.6 387.0,110.5 387.4,109.4 387.7,108.1 388.1,106.8 388.4,105.5 388.7,104.2 389.0,103.0 389.3,101.9 389.6,100.8 389.9,99.7 390.3,98.6 390.6,97.6 391.0,96.5 391.4,95.4 391.9,94.2 392.4,93.1 392.9,92.0 393.5,90.9 394.0,90.0 394.5,89.2 395.1,88.4 395.6,87.7 396.2,87.1 396.8,86.5 397.4,86.0 398.1,85.5 398.8,85.1 399.6,84.8 400.4,84.5 401.2,84.2 402.0,84.0 402.7,83.8 403.3,83.5 404.0,83.3 404.7,83.2 405.5,83.1 406.5,83.2 407.8,83.4 409.2,83.7 410.8,84.0 412.4,84.5 414.0,85.1 415.6,85.8 417.2,86.7 418.7,87.8 420.3,89.0 421.9,90.2 423.4,91.3 424.7,92.3 425.9,93.1 427.0,93.8 428.0,94.4 428.9,95.0 429.9,95.5 430.8,96.0 431.7,96.5 432.6,96.9 433.4,97.2 434.2,97.6 435.1,97.9 436.0,98.3 437.0,98.7 438.1,99.1 439.2,99.4 440.3,99.8 441.4,100.2 442.5,100.5 443.6,100.8 444.7,101.2 445.7,101.5 446.8,101.9 448.0,102.2 449.1,102.4 450.3,102.6 451.6,102.8 452.8,102.9 454.1,103.0 455.3,103.1 456.4,103.1 457.4,103.1 458.2,103.0 458.9,103.0 459.7,102.9 460.5,102.7 461.5,102.6 462.6,102.4 463.8,102.3 465.1,102.1 466.4,101.9 467.6,101.7 468.8,101.5 469.9,101.4 471.0,101.3 472.0,101.2 473.0,101.1 474.0,101.0 475.0,100.9 476.0,100.7 477.0,100.5 477.9,100.3 478.9,100.1 479.9,99.8 481.0,99.5 482.2,99.1 483.5,98.7 484.9,98.2 486.1,97.7 487.2,97.3 488.0,97.0" fill="none" stroke="#c80808" stroke-width="2.6" stroke-dasharray="5.5 3"/>
<path d="M384.0,116.5 384.4,115.9 384.9,115.1 385.5,114.2 386.2,113.1 386.9,112.0 387.5,111.0 388.1,110.0 388.6,108.8 389.2,107.7 389.8,106.6 390.4,105.5 391.0,104.5 391.6,103.6 392.3,102.8 393.0,102.0 393.6,101.3 394.3,100.6 395.0,100.0 395.7,99.5 396.3,99.1 396.9,98.7 397.6,98.4 398.3,98.1 399.2,97.8 400.2,97.5 401.3,97.3 402.5,97.1 403.8,97.0 405.1,96.9 406.5,96.8 407.9,96.8 409.4,96.7 410.9,96.7 412.5,96.8 414.1,96.9 415.6,97.2 417.1,97.6 418.6,98.0 420.1,98.5 421.7,99.1 423.2,99.8 424.7,100.5 426.2,101.3 427.8,102.1 429.3,102.9 430.8,103.9 432.4,104.9 433.9,106.0 435.4,107.2 436.9,108.5 438.5,109.9 440.0,111.4 441.5,112.8 443.0,114.2 444.5,115.6 446.0,117.0 447.6,118.4 449.1,119.7 450.6,121.1 452.1,122.4 453.6,123.7 455.2,125.0 456.8,126.2 458.3,127.4 459.8,128.6 461.2,129.7 462.6,130.8 463.9,131.8 465.3,132.8 466.5,133.7 467.6,134.5 468.5,135.2 469.2,135.7 469.8,136.0 470.2,136.2 470.5,136.3 470.8,136.4 471.0,136.5" fill="none" stroke="#c80808" stroke-width="2.6" stroke-dasharray="5.5 3"/>
<circle cx="346.40" cy="69.40" r="2.9" fill="none" stroke="#f040f0" stroke-width="0.9"/>
<circle cx="354.60" cy="90.80" r="2.9" fill="none" stroke="#f040f0" stroke-width="0.9"/>
<circle cx="337.60" cy="112.50" r="2.9" fill="none" stroke="#f040f0" stroke-width="0.9"/>
<circle cx="348.50" cy="107.00" r="2.9" fill="none" stroke="#f040f0" stroke-width="0.9"/>
<circle cx="358.00" cy="112.50" r="2.9" fill="none" stroke="#f040f0" stroke-width="0.9"/>
<circle cx="366.00" cy="113.50" r="2.9" fill="none" stroke="#f040f0" stroke-width="0.9"/>
<circle cx="382.40" cy="114.00" r="2.9" fill="none" stroke="#f040f0" stroke-width="0.9"/>
<circle cx="388.50" cy="112.50" r="2.9" fill="none" stroke="#f040f0" stroke-width="0.9"/>
<circle cx="390.00" cy="97.00" r="2.9" fill="none" stroke="#f040f0" stroke-width="0.9"/>
<circle cx="393.50" cy="90.00" r="2.9" fill="none" stroke="#f040f0" stroke-width="0.9"/>
<circle cx="399.20" cy="84.50" r="2.9" fill="none" stroke="#f040f0" stroke-width="0.9"/>
<circle cx="406.00" cy="83.50" r="2.9" fill="none" stroke="#f040f0" stroke-width="0.9"/>
<circle cx="399.00" cy="99.00" r="2.9" fill="none" stroke="#f040f0" stroke-width="0.9"/>
<circle cx="406.50" cy="97.50" r="2.9" fill="none" stroke="#f040f0" stroke-width="0.9"/>
<circle cx="415.00" cy="97.50" r="2.9" fill="none" stroke="#f040f0" stroke-width="0.9"/>
<circle cx="416.00" cy="86.00" r="2.9" fill="none" stroke="#f040f0" stroke-width="0.9"/>
</g>
<line x1="233.60" y1="101.35" x2="495.00" y2="101.35" stroke="#111" stroke-width="1" />
<line x1="373.65" y1="5.40" x2="373.65" y2="197.30" stroke="#111" stroke-width="1" />
<line x1="233.60" y1="178.11" x2="235.80" y2="178.11" stroke="#111" stroke-width="1" />
<line x1="492.80" y1="178.11" x2="495.00" y2="178.11" stroke="#111" stroke-width="1" />
<line x1="233.60" y1="158.92" x2="235.80" y2="158.92" stroke="#111" stroke-width="1" />
<line x1="492.80" y1="158.92" x2="495.00" y2="158.92" stroke="#111" stroke-width="1" />
<line x1="233.60" y1="139.73" x2="235.80" y2="139.73" stroke="#111" stroke-width="1" />
<line x1="492.80" y1="139.73" x2="495.00" y2="139.73" stroke="#111" stroke-width="1" />
<line x1="233.60" y1="120.54" x2="235.80" y2="120.54" stroke="#111" stroke-width="1" />
<line x1="492.80" y1="120.54" x2="495.00" y2="120.54" stroke="#111" stroke-width="1" />
<line x1="233.60" y1="82.16" x2="235.80" y2="82.16" stroke="#111" stroke-width="1" />
<line x1="492.80" y1="82.16" x2="495.00" y2="82.16" stroke="#111" stroke-width="1" />
<line x1="233.60" y1="62.97" x2="235.80" y2="62.97" stroke="#111" stroke-width="1" />
<line x1="492.80" y1="62.97" x2="495.00" y2="62.97" stroke="#111" stroke-width="1" />
<line x1="233.60" y1="43.78" x2="235.80" y2="43.78" stroke="#111" stroke-width="1" />
<line x1="492.80" y1="43.78" x2="495.00" y2="43.78" stroke="#111" stroke-width="1" />
<line x1="233.60" y1="24.59" x2="235.80" y2="24.59" stroke="#111" stroke-width="1" />
<line x1="492.80" y1="24.59" x2="495.00" y2="24.59" stroke="#111" stroke-width="1" />
<rect x="233.6" y="5.4" width="261.40" height="191.90" fill="none" stroke="#111" stroke-width="1.3"/>
<rect x="333.0" y="101.2" width="39.6" height="37.0" fill="none" stroke="#5b9bd5" stroke-width="2.1"/>
<rect x="374.0" y="101.2" width="91.4" height="36.8" fill="none" stroke="#ff9a00" stroke-width="2.3"/>
<path d="M225.10,12.90 L225.10,2.40 M225.30,2.50 L221.00,5.90" stroke="#000" stroke-width="1.5" fill="none" stroke-linecap="butt"/>
<text x="218.46" y="111.00" font-family='"Liberation Sans", sans-serif' font-size="16.0" textLength="9.19" lengthAdjust="spacingAndGlyphs" >0</text>
<path d="M226.50,203.60 L226.50,193.00 M226.70,193.10 L222.90,196.30" stroke="#000" stroke-width="1.5" fill="none" stroke-linecap="butt"/>
<line x1="216.90" y1="199.60" x2="221.00" y2="199.60" stroke="#000" stroke-width="1.25"/>
<g transform="translate(206.90,129.50) rotate(-90)"><text x="0" y="0" font-family='"Liberation Sans", sans-serif' font-size="14.6" textLength="72.10" lengthAdjust="spacingAndGlyphs">E –E<tspan font-size="9" dy="3.2">F</tspan><tspan dy="-3.2"> (eV)</tspan></text></g>
<text x="232.51" y="219.60" font-family='"Liberation Serif", serif' font-size="15.2" textLength="9.62" lengthAdjust="spacingAndGlyphs" >K</text>
<line x1="232.50" y1="207.50" x2="241.10" y2="207.50" stroke="#000" stroke-width="1.0" />
<text x="370.18" y="221.70" font-family='"Liberation Serif", serif' font-size="15.2" textLength="10.29" lengthAdjust="spacingAndGlyphs" >Γ</text>
<line x1="370.70" y1="209.30" x2="379.50" y2="209.30" stroke="#000" stroke-width="1.0" />
<text x="490.01" y="220.60" font-family='"Liberation Serif", serif' font-size="15.2" textLength="11.88" lengthAdjust="spacingAndGlyphs" >M</text>
<line x1="491.90" y1="208.40" x2="500.00" y2="208.40" stroke="#000" stroke-width="1.0" />
<text x="241.38" y="75.30" font-family='"Liberation Sans", sans-serif' font-size="10.2" textLength="14.08" lengthAdjust="spacingAndGlyphs" >AB</text>
<text x="240.90" y="87.60" font-family='"Liberation Sans", sans-serif' font-size="10.2" textLength="13.46" lengthAdjust="spacingAndGlyphs" >Sb</text>
<path d="M260.50,87.60 L260.50,81.00 M260.70,81.10 L258.00,82.70" stroke="#000" stroke-width="0.95" fill="none" stroke-linecap="butt"/>
<text x="263.13" y="87.60" font-family='"Liberation Sans", sans-serif' font-size="10.2" textLength="12.92" lengthAdjust="spacingAndGlyphs" >BL</text>
<text x="409.74" y="78.60" font-family='"Liberation Sans", sans-serif' font-size="14.6" >S</text>
<path d="M423.41,82.50 L423.41,76.00 M423.61,76.10 L420.81,77.60" stroke="#000" stroke-width="1.1" fill="none" stroke-linecap="butt"/>
<text x="408.44" y="113.70" font-family='"Liberation Sans", sans-serif' font-size="14.6" >S</text>
<text x="418.62" y="117.60" font-family='"Liberation Sans", sans-serif' font-size="9.8" >2</text>
<g clip-path="url(#clipe)">
<circle cx="234.5" cy="262.8" r="1.3" fill="#b018c8"/>
<circle cx="243.2" cy="263.6" r="1.3" fill="#b018c8"/>
<circle cx="252.0" cy="265.0" r="1.3" fill="#b018c8"/>
<circle cx="260.7" cy="265.9" r="1.3" fill="#b018c8"/>
<circle cx="269.5" cy="265.2" r="1.3" fill="#38c0ee"/>
<circle cx="234.5" cy="266.5" r="1.3" fill="#b018c8"/>
<circle cx="243.2" cy="267.0" r="1.3" fill="#b018c8"/>
<circle cx="252.0" cy="267.5" r="1.3" fill="#b018c8"/>
<circle cx="260.7" cy="266.8" r="1.3" fill="#b018c8"/>
<circle cx="269.5" cy="262.5" r="1.3" fill="#b018c8"/>
<circle cx="234.5" cy="271.3" r="1.3" fill="#b018c8"/>
<circle cx="243.2" cy="273.6" r="1.3" fill="#b018c8"/>
<circle cx="252.0" cy="274.9" r="1.3" fill="#b018c8"/>
<circle cx="260.7" cy="273.4" r="1.3" fill="#b018c8"/>
<circle cx="269.5" cy="272.7" r="1.3" fill="#38c0ee"/>
<circle cx="278.2" cy="274.2" r="1.3" fill="#b018c8"/>
<circle cx="286.9" cy="272.0" r="1.3" fill="#b018c8"/>
<circle cx="295.7" cy="273.5" r="1.3" fill="#b018c8"/>
<circle cx="304.4" cy="277.3" r="1.3" fill="#b018c8"/>
<circle cx="313.2" cy="280.8" r="1.3" fill="#b018c8"/>
<circle cx="321.9" cy="283.6" r="1.3" fill="#b018c8"/>
<circle cx="330.6" cy="287.1" r="1.3" fill="#b018c8"/>
<circle cx="339.4" cy="290.8" r="1.3" fill="#b018c8"/>
<circle cx="348.1" cy="294.0" r="1.3" fill="#b018c8"/>
<circle cx="234.5" cy="275.2" r="1.3" fill="#b018c8"/>
<circle cx="243.2" cy="280.0" r="1.3" fill="#38c0ee"/>
<circle cx="252.0" cy="278.3" r="1.3" fill="#38c0ee"/>
<circle cx="260.7" cy="274.3" r="1.3" fill="#b018c8"/>
<circle cx="269.5" cy="273.4" r="1.3" fill="#b018c8"/>
<circle cx="278.2" cy="275.3" r="1.3" fill="#38c0ee"/>
<circle cx="286.9" cy="278.6" r="1.3" fill="#b018c8"/>
<circle cx="295.7" cy="281.7" r="1.3" fill="#b018c8"/>
<circle cx="304.4" cy="283.4" r="1.3" fill="#b018c8"/>
<circle cx="313.2" cy="285.2" r="1.3" fill="#38c0ee"/>
<circle cx="321.9" cy="287.7" r="1.3" fill="#b018c8"/>
<circle cx="330.6" cy="290.5" r="1.3" fill="#38c0ee"/>
<circle cx="339.4" cy="293.7" r="1.3" fill="#b018c8"/>
<circle cx="234.5" cy="279.1" r="1.3" fill="#b018c8"/>
<circle cx="243.2" cy="280.0" r="1.3" fill="#b018c8"/>
<circle cx="252.0" cy="282.7" r="1.3" fill="#38c0ee"/>
<circle cx="260.7" cy="286.8" r="1.3" fill="#38c0ee"/>
<circle cx="269.5" cy="286.9" r="1.3" fill="#b018c8"/>
<circle cx="278.2" cy="283.2" r="1.3" fill="#38c0ee"/>
<circle cx="286.9" cy="281.3" r="1.3" fill="#38c0ee"/>
<circle cx="295.7" cy="285.8" r="1.3" fill="#b018c8"/>
<circle cx="304.4" cy="293.3" r="1.3" fill="#b018c8"/>
<circle cx="313.2" cy="301.0" r="1.3" fill="#b018c8"/>
<circle cx="321.9" cy="307.4" r="1.3" fill="#b018c8"/>
<circle cx="330.6" cy="313.1" r="1.3" fill="#b018c8"/>
<circle cx="339.4" cy="317.3" r="1.3" fill="#b018c8"/>
<circle cx="348.1" cy="321.1" r="1.3" fill="#b018c8"/>
<circle cx="356.9" cy="335.0" r="1.3" fill="#b018c8"/>
<circle cx="365.6" cy="359.5" r="1.3" fill="#38c0ee"/>
<circle cx="374.3" cy="371.4" r="1.3" fill="#b018c8"/>
<circle cx="234.5" cy="284.1" r="1.3" fill="#b018c8"/>
<circle cx="243.2" cy="281.8" r="1.3" fill="#b018c8"/>
<circle cx="252.0" cy="281.3" r="1.3" fill="#b018c8"/>
<circle cx="260.7" cy="285.4" r="1.3" fill="#b018c8"/>
<circle cx="269.5" cy="287.6" r="1.3" fill="#b018c8"/>
<circle cx="278.2" cy="285.4" r="1.3" fill="#38c0ee"/>
<circle cx="286.9" cy="282.7" r="1.3" fill="#b018c8"/>
<circle cx="295.7" cy="288.1" r="1.3" fill="#b018c8"/>
<circle cx="304.4" cy="296.3" r="1.3" fill="#b018c8"/>
<circle cx="313.2" cy="303.9" r="1.3" fill="#38c0ee"/>
<circle cx="321.9" cy="310.2" r="1.3" fill="#b018c8"/>
<circle cx="330.6" cy="315.7" r="1.3" fill="#b018c8"/>
<circle cx="339.4" cy="320.2" r="1.3" fill="#b018c8"/>
<circle cx="348.1" cy="324.4" r="1.3" fill="#b018c8"/>
<circle cx="356.9" cy="338.2" r="1.3" fill="#b018c8"/>
<circle cx="365.6" cy="361.9" r="1.3" fill="#38c0ee"/>
<circle cx="313.2" cy="266.0" r="1.3" fill="#b018c8"/>
<circle cx="321.9" cy="272.1" r="1.3" fill="#b018c8"/>
<circle cx="330.6" cy="278.3" r="1.3" fill="#38c0ee"/>
<circle cx="339.4" cy="285.6" r="1.3" fill="#b018c8"/>
<circle cx="348.1" cy="295.1" r="1.3" fill="#38c0ee"/>
<circle cx="356.9" cy="305.8" r="1.3" fill="#b018c8"/>
<circle cx="365.6" cy="316.5" r="1.3" fill="#b018c8"/>
<circle cx="374.3" cy="324.3" r="1.3" fill="#b018c8"/>
<circle cx="383.0" cy="317.2" r="1.3" fill="#b018c8"/>
<circle cx="391.6" cy="306.7" r="1.3" fill="#b018c8"/>
<circle cx="400.3" cy="296.1" r="1.3" fill="#38c0ee"/>
<circle cx="409.0" cy="286.5" r="1.3" fill="#b018c8"/>
<circle cx="417.6" cy="279.0" r="1.3" fill="#b018c8"/>
<circle cx="426.3" cy="272.8" r="1.3" fill="#b018c8"/>
<circle cx="434.9" cy="266.8" r="1.3" fill="#38c0ee"/>
<circle cx="313.2" cy="274.1" r="1.3" fill="#b018c8"/>
<circle cx="321.9" cy="279.5" r="1.3" fill="#38c0ee"/>
<circle cx="330.6" cy="284.0" r="1.3" fill="#b018c8"/>
<circle cx="339.4" cy="288.7" r="1.3" fill="#b018c8"/>
<circle cx="348.1" cy="294.4" r="1.3" fill="#38c0ee"/>
<circle cx="356.9" cy="302.1" r="1.3" fill="#b018c8"/>
<circle cx="365.6" cy="314.8" r="1.3" fill="#b018c8"/>
<circle cx="374.3" cy="319.3" r="1.3" fill="#b018c8"/>
<circle cx="383.0" cy="315.4" r="1.3" fill="#b018c8"/>
<circle cx="391.6" cy="303.0" r="1.3" fill="#b018c8"/>
<circle cx="400.3" cy="295.0" r="1.3" fill="#b018c8"/>
<circle cx="409.0" cy="289.2" r="1.3" fill="#b018c8"/>
<circle cx="417.6" cy="284.5" r="1.3" fill="#b018c8"/>
<circle cx="426.3" cy="280.0" r="1.3" fill="#b018c8"/>
<circle cx="434.9" cy="274.9" r="1.3" fill="#b018c8"/>
<circle cx="356.9" cy="305.4" r="1.3" fill="#38c0ee"/>
<circle cx="365.6" cy="303.1" r="1.3" fill="#b018c8"/>
<circle cx="374.3" cy="302.3" r="1.3" fill="#b018c8"/>
<circle cx="383.0" cy="303.0" r="1.3" fill="#38c0ee"/>
<circle cx="391.6" cy="305.1" r="1.3" fill="#b018c8"/>
<circle cx="348.1" cy="268.6" r="1.3" fill="#b018c8"/>
<circle cx="356.9" cy="278.4" r="1.3" fill="#b018c8"/>
<circle cx="365.6" cy="272.5" r="1.3" fill="#b018c8"/>
<circle cx="374.3" cy="267.7" r="1.3" fill="#b018c8"/>
<circle cx="383.0" cy="272.0" r="1.3" fill="#b018c8"/>
<circle cx="391.6" cy="278.3" r="1.3" fill="#b018c8"/>
<circle cx="400.3" cy="270.1" r="1.3" fill="#b018c8"/>
<circle cx="348.1" cy="271.5" r="1.3" fill="#b018c8"/>
<circle cx="356.9" cy="280.3" r="1.3" fill="#b018c8"/>
<circle cx="365.6" cy="274.3" r="1.3" fill="#b018c8"/>
<circle cx="374.3" cy="269.4" r="1.3" fill="#38c0ee"/>
<circle cx="383.0" cy="273.8" r="1.3" fill="#b018c8"/>
<circle cx="391.6" cy="280.2" r="1.3" fill="#38c0ee"/>
<circle cx="400.3" cy="272.9" r="1.3" fill="#38c0ee"/>
<circle cx="339.4" cy="266.7" r="1.3" fill="#b018c8"/>
<circle cx="348.1" cy="280.2" r="1.3" fill="#b018c8"/>
<circle cx="356.9" cy="291.1" r="1.3" fill="#38c0ee"/>
<circle cx="365.6" cy="287.0" r="1.3" fill="#b018c8"/>
<circle cx="374.3" cy="280.4" r="1.3" fill="#b018c8"/>
<circle cx="383.0" cy="286.4" r="1.3" fill="#b018c8"/>
<circle cx="391.6" cy="291.2" r="1.3" fill="#b018c8"/>
<circle cx="400.3" cy="281.5" r="1.3" fill="#b018c8"/>
<circle cx="409.0" cy="268.0" r="1.3" fill="#b018c8"/>
<circle cx="339.4" cy="269.7" r="1.3" fill="#b018c8"/>
<circle cx="348.1" cy="283.2" r="1.3" fill="#b018c8"/>
<circle cx="356.9" cy="292.9" r="1.3" fill="#b018c8"/>
<circle cx="365.6" cy="288.8" r="1.3" fill="#b018c8"/>
<circle cx="374.3" cy="282.0" r="1.3" fill="#b018c8"/>
<circle cx="383.0" cy="288.2" r="1.3" fill="#b018c8"/>
<circle cx="391.6" cy="293.0" r="1.3" fill="#b018c8"/>
<circle cx="400.3" cy="284.4" r="1.3" fill="#b018c8"/>
<circle cx="409.0" cy="271.0" r="1.3" fill="#b018c8"/>
<circle cx="348.1" cy="265.4" r="1.3" fill="#b018c8"/>
<circle cx="356.9" cy="268.0" r="1.3" fill="#38c0ee"/>
<circle cx="365.6" cy="264.0" r="1.3" fill="#b018c8"/>
<circle cx="383.0" cy="263.7" r="1.3" fill="#b018c8"/>
<circle cx="391.6" cy="267.8" r="1.3" fill="#b018c8"/>
<circle cx="400.3" cy="266.2" r="1.3" fill="#b018c8"/>
<circle cx="304.4" cy="262.3" r="1.3" fill="#b018c8"/>
<circle cx="313.2" cy="273.6" r="1.3" fill="#b018c8"/>
<circle cx="321.9" cy="281.2" r="1.3" fill="#b018c8"/>
<circle cx="330.6" cy="286.7" r="1.3" fill="#b018c8"/>
<circle cx="339.4" cy="292.8" r="1.3" fill="#b018c8"/>
<circle cx="348.1" cy="300.2" r="1.3" fill="#b018c8"/>
<circle cx="356.9" cy="306.4" r="1.3" fill="#38c0ee"/>
<circle cx="365.6" cy="312.8" r="1.3" fill="#b018c8"/>
<circle cx="374.3" cy="319.6" r="1.3" fill="#b018c8"/>
<circle cx="313.2" cy="271.3" r="1.3" fill="#b018c8"/>
<circle cx="321.9" cy="279.0" r="1.3" fill="#b018c8"/>
<circle cx="330.6" cy="284.8" r="1.3" fill="#b018c8"/>
<circle cx="339.4" cy="290.8" r="1.3" fill="#b018c8"/>
<circle cx="348.1" cy="298.0" r="1.3" fill="#38c0ee"/>
<circle cx="356.9" cy="304.5" r="1.3" fill="#b018c8"/>
<circle cx="321.9" cy="268.6" r="1.3" fill="#b018c8"/>
<circle cx="330.6" cy="274.6" r="1.3" fill="#b018c8"/>
<circle cx="339.4" cy="282.1" r="1.3" fill="#b018c8"/>
<circle cx="348.1" cy="288.6" r="1.3" fill="#b018c8"/>
<circle cx="356.9" cy="298.5" r="1.3" fill="#b018c8"/>
<circle cx="365.6" cy="307.3" r="1.3" fill="#b018c8"/>
<circle cx="374.3" cy="323.8" r="1.3" fill="#b018c8"/>
<circle cx="330.6" cy="267.8" r="1.3" fill="#b018c8"/>
<circle cx="339.4" cy="274.6" r="1.3" fill="#b018c8"/>
<circle cx="348.1" cy="281.2" r="1.3" fill="#b018c8"/>
<circle cx="356.9" cy="291.1" r="1.3" fill="#b018c8"/>
<circle cx="339.4" cy="266.3" r="1.3" fill="#b018c8"/>
<circle cx="348.1" cy="275.8" r="1.3" fill="#b018c8"/>
<circle cx="356.9" cy="288.5" r="1.3" fill="#b018c8"/>
<circle cx="365.6" cy="301.6" r="1.3" fill="#b018c8"/>
<circle cx="339.4" cy="265.4" r="1.3" fill="#38c0ee"/>
<circle cx="348.1" cy="274.6" r="1.3" fill="#b018c8"/>
<circle cx="356.9" cy="287.1" r="1.3" fill="#b018c8"/>
<circle cx="365.6" cy="300.4" r="1.3" fill="#b018c8"/>
<circle cx="304.4" cy="283.4" r="1.3" fill="#b018c8"/>
<circle cx="313.2" cy="284.4" r="1.3" fill="#b018c8"/>
<circle cx="321.9" cy="286.5" r="1.3" fill="#b018c8"/>
<circle cx="330.6" cy="291.4" r="1.3" fill="#b018c8"/>
<circle cx="339.4" cy="295.9" r="1.3" fill="#b018c8"/>
<circle cx="348.1" cy="301.3" r="1.3" fill="#b018c8"/>
<circle cx="356.9" cy="305.7" r="1.3" fill="#38c0ee"/>
<circle cx="304.4" cy="278.6" r="1.3" fill="#b018c8"/>
<circle cx="313.2" cy="282.1" r="1.3" fill="#b018c8"/>
<circle cx="321.9" cy="286.3" r="1.3" fill="#b018c8"/>
<circle cx="330.6" cy="289.1" r="1.3" fill="#38c0ee"/>
<circle cx="339.4" cy="292.9" r="1.3" fill="#b018c8"/>
<circle cx="391.6" cy="309.8" r="1.3" fill="#b018c8"/>
<circle cx="400.3" cy="299.1" r="1.3" fill="#b018c8"/>
<circle cx="409.0" cy="288.8" r="1.3" fill="#b018c8"/>
<circle cx="417.6" cy="276.3" r="1.3" fill="#b018c8"/>
<circle cx="391.6" cy="308.5" r="1.3" fill="#b018c8"/>
<circle cx="400.3" cy="298.1" r="1.3" fill="#38c0ee"/>
<circle cx="409.0" cy="288.1" r="1.3" fill="#b018c8"/>
<circle cx="417.6" cy="276.6" r="1.3" fill="#b018c8"/>
<circle cx="426.3" cy="262.1" r="1.3" fill="#b018c8"/>
<circle cx="409.0" cy="284.1" r="1.3" fill="#b018c8"/>
<circle cx="417.6" cy="279.8" r="1.3" fill="#b018c8"/>
<circle cx="426.3" cy="277.7" r="1.3" fill="#b018c8"/>
<circle cx="434.9" cy="275.6" r="1.3" fill="#b018c8"/>
<circle cx="443.6" cy="273.3" r="1.3" fill="#b018c8"/>
<circle cx="452.2" cy="268.9" r="1.3" fill="#b018c8"/>
<circle cx="460.9" cy="264.5" r="1.3" fill="#b018c8"/>
<circle cx="478.2" cy="265.5" r="1.3" fill="#b018c8"/>
<circle cx="486.8" cy="267.8" r="1.3" fill="#38c0ee"/>
<circle cx="409.0" cy="286.2" r="1.3" fill="#b018c8"/>
<circle cx="417.6" cy="281.8" r="1.3" fill="#b018c8"/>
<circle cx="426.3" cy="279.3" r="1.3" fill="#b018c8"/>
<circle cx="434.9" cy="277.2" r="1.3" fill="#b018c8"/>
<circle cx="443.6" cy="275.3" r="1.3" fill="#b018c8"/>
<circle cx="452.2" cy="270.5" r="1.3" fill="#b018c8"/>
<circle cx="460.9" cy="265.9" r="1.3" fill="#b018c8"/>
<circle cx="469.5" cy="262.5" r="1.3" fill="#b018c8"/>
<circle cx="409.0" cy="264.3" r="1.3" fill="#b018c8"/>
<circle cx="400.3" cy="297.0" r="1.3" fill="#b018c8"/>
<circle cx="409.0" cy="294.4" r="1.3" fill="#b018c8"/>
<circle cx="417.6" cy="295.4" r="1.3" fill="#b018c8"/>
<circle cx="426.3" cy="297.5" r="1.3" fill="#b018c8"/>
<circle cx="434.9" cy="299.0" r="1.3" fill="#b018c8"/>
<circle cx="443.6" cy="303.0" r="1.3" fill="#b018c8"/>
<circle cx="452.2" cy="307.4" r="1.3" fill="#b018c8"/>
<circle cx="460.9" cy="309.2" r="1.3" fill="#b018c8"/>
<circle cx="469.5" cy="308.7" r="1.3" fill="#b018c8"/>
<circle cx="478.2" cy="305.4" r="1.3" fill="#b018c8"/>
<circle cx="486.8" cy="303.2" r="1.3" fill="#b018c8"/>
<circle cx="400.3" cy="298.3" r="1.3" fill="#b018c8"/>
<circle cx="409.0" cy="296.2" r="1.3" fill="#b018c8"/>
<circle cx="417.6" cy="297.2" r="1.3" fill="#b018c8"/>
<circle cx="426.3" cy="299.8" r="1.3" fill="#b018c8"/>
<circle cx="434.9" cy="302.6" r="1.3" fill="#b018c8"/>
<circle cx="443.6" cy="306.4" r="1.3" fill="#b018c8"/>
<circle cx="452.2" cy="309.7" r="1.3" fill="#b018c8"/>
<circle cx="460.9" cy="311.4" r="1.3" fill="#38c0ee"/>
<circle cx="469.5" cy="310.1" r="1.3" fill="#b018c8"/>
<circle cx="478.2" cy="307.1" r="1.3" fill="#b018c8"/>
<circle cx="486.8" cy="304.6" r="1.3" fill="#b018c8"/>
<circle cx="383.0" cy="353.9" r="1.3" fill="#b018c8"/>
<circle cx="391.6" cy="340.6" r="1.3" fill="#38c0ee"/>
<circle cx="400.3" cy="337.3" r="1.3" fill="#b018c8"/>
<circle cx="409.0" cy="338.0" r="1.3" fill="#b018c8"/>
<circle cx="417.6" cy="341.4" r="1.3" fill="#38c0ee"/>
<circle cx="426.3" cy="345.7" r="1.3" fill="#b018c8"/>
<circle cx="434.9" cy="349.7" r="1.3" fill="#38c0ee"/>
<circle cx="443.6" cy="351.9" r="1.3" fill="#b018c8"/>
<circle cx="452.2" cy="353.5" r="1.3" fill="#b018c8"/>
<circle cx="460.9" cy="354.7" r="1.3" fill="#b018c8"/>
<circle cx="469.5" cy="355.8" r="1.3" fill="#b018c8"/>
<circle cx="478.2" cy="356.2" r="1.3" fill="#b018c8"/>
<circle cx="486.8" cy="355.9" r="1.3" fill="#b018c8"/>
<circle cx="409.0" cy="354.9" r="1.3" fill="#b018c8"/>
<circle cx="417.6" cy="356.9" r="1.3" fill="#38c0ee"/>
<circle cx="426.3" cy="360.0" r="1.3" fill="#b018c8"/>
<circle cx="434.9" cy="364.0" r="1.3" fill="#b018c8"/>
<circle cx="443.6" cy="369.5" r="1.3" fill="#b018c8"/>
<circle cx="452.2" cy="375.6" r="1.3" fill="#b018c8"/>
<circle cx="460.9" cy="381.9" r="1.3" fill="#b018c8"/>
<circle cx="469.5" cy="387.6" r="1.3" fill="#b018c8"/>
<circle cx="478.2" cy="391.2" r="1.3" fill="#38c0ee"/>
<circle cx="486.8" cy="393.3" r="1.3" fill="#b018c8"/>
<circle cx="417.6" cy="358.9" r="1.3" fill="#b018c8"/>
<circle cx="426.3" cy="362.3" r="1.3" fill="#38c0ee"/>
<circle cx="434.9" cy="366.7" r="1.3" fill="#38c0ee"/>
<circle cx="443.6" cy="372.1" r="1.3" fill="#b018c8"/>
<circle cx="452.2" cy="378.1" r="1.3" fill="#b018c8"/>
<circle cx="460.9" cy="384.0" r="1.3" fill="#b018c8"/>
<circle cx="469.5" cy="389.2" r="1.3" fill="#b018c8"/>
<circle cx="478.2" cy="392.8" r="1.3" fill="#b018c8"/>
<circle cx="486.8" cy="394.9" r="1.3" fill="#b018c8"/>
<circle cx="243.2" cy="451.3" r="1.3" fill="#b018c8"/>
<circle cx="252.0" cy="442.0" r="1.3" fill="#b018c8"/>
<circle cx="260.7" cy="432.6" r="1.3" fill="#b018c8"/>
<circle cx="269.5" cy="421.7" r="1.3" fill="#b018c8"/>
<circle cx="278.2" cy="412.3" r="1.3" fill="#b018c8"/>
<circle cx="286.9" cy="403.6" r="1.3" fill="#b018c8"/>
<circle cx="295.7" cy="396.2" r="1.3" fill="#b018c8"/>
<circle cx="304.4" cy="390.2" r="1.3" fill="#b018c8"/>
<circle cx="313.2" cy="385.7" r="1.3" fill="#b018c8"/>
<circle cx="321.9" cy="382.9" r="1.3" fill="#b018c8"/>
<circle cx="330.6" cy="380.0" r="1.3" fill="#b018c8"/>
<circle cx="339.4" cy="375.2" r="1.3" fill="#38c0ee"/>
<circle cx="348.1" cy="366.9" r="1.3" fill="#b018c8"/>
<circle cx="356.9" cy="360.6" r="1.3" fill="#b018c8"/>
<circle cx="365.6" cy="366.8" r="1.3" fill="#38c0ee"/>
<circle cx="252.0" cy="444.1" r="1.3" fill="#b018c8"/>
<circle cx="260.7" cy="434.7" r="1.3" fill="#b018c8"/>
<circle cx="269.5" cy="424.0" r="1.3" fill="#b018c8"/>
<circle cx="278.2" cy="414.4" r="1.3" fill="#b018c8"/>
<circle cx="286.9" cy="405.8" r="1.3" fill="#b018c8"/>
<circle cx="295.7" cy="398.6" r="1.3" fill="#b018c8"/>
<circle cx="304.4" cy="392.3" r="1.3" fill="#b018c8"/>
<circle cx="313.2" cy="387.8" r="1.3" fill="#b018c8"/>
<circle cx="321.9" cy="385.5" r="1.3" fill="#b018c8"/>
<circle cx="330.6" cy="383.6" r="1.3" fill="#b018c8"/>
<circle cx="339.4" cy="381.0" r="1.3" fill="#b018c8"/>
<circle cx="348.1" cy="377.1" r="1.3" fill="#b018c8"/>
<circle cx="356.9" cy="371.8" r="1.3" fill="#b018c8"/>
<circle cx="278.2" cy="447.7" r="1.3" fill="#b018c8"/>
<circle cx="286.9" cy="437.5" r="1.3" fill="#b018c8"/>
<circle cx="295.7" cy="428.1" r="1.3" fill="#b018c8"/>
<circle cx="304.4" cy="418.7" r="1.3" fill="#b018c8"/>
<circle cx="313.2" cy="410.5" r="1.3" fill="#b018c8"/>
<circle cx="321.9" cy="402.5" r="1.3" fill="#b018c8"/>
<circle cx="330.6" cy="395.0" r="1.3" fill="#b018c8"/>
<circle cx="339.4" cy="387.8" r="1.3" fill="#b018c8"/>
<circle cx="278.2" cy="450.7" r="1.3" fill="#b018c8"/>
<circle cx="286.9" cy="441.7" r="1.3" fill="#38c0ee"/>
<circle cx="295.7" cy="432.4" r="1.3" fill="#b018c8"/>
<circle cx="304.4" cy="423.6" r="1.3" fill="#b018c8"/>
<circle cx="313.2" cy="414.9" r="1.3" fill="#b018c8"/>
<circle cx="321.9" cy="405.2" r="1.3" fill="#b018c8"/>
<circle cx="330.6" cy="397.7" r="1.3" fill="#b018c8"/>
<circle cx="339.4" cy="391.6" r="1.3" fill="#b018c8"/>
<circle cx="286.9" cy="447.7" r="1.3" fill="#b018c8"/>
<circle cx="295.7" cy="442.7" r="1.3" fill="#b018c8"/>
<circle cx="304.4" cy="435.4" r="1.3" fill="#b018c8"/>
<circle cx="313.2" cy="425.1" r="1.3" fill="#b018c8"/>
<circle cx="321.9" cy="414.9" r="1.3" fill="#b018c8"/>
<circle cx="330.6" cy="406.1" r="1.3" fill="#b018c8"/>
<circle cx="339.4" cy="399.2" r="1.3" fill="#b018c8"/>
<circle cx="295.7" cy="449.8" r="1.3" fill="#b018c8"/>
<circle cx="304.4" cy="444.5" r="1.3" fill="#b018c8"/>
<circle cx="313.2" cy="439.8" r="1.3" fill="#b018c8"/>
<circle cx="321.9" cy="434.8" r="1.3" fill="#b018c8"/>
<circle cx="330.6" cy="428.5" r="1.3" fill="#b018c8"/>
<circle cx="339.4" cy="422.4" r="1.3" fill="#b018c8"/>
<circle cx="348.1" cy="419.2" r="1.3" fill="#b018c8"/>
<circle cx="356.9" cy="418.2" r="1.3" fill="#38c0ee"/>
<circle cx="304.4" cy="446.4" r="1.3" fill="#b018c8"/>
<circle cx="313.2" cy="428.8" r="1.3" fill="#b018c8"/>
<circle cx="321.9" cy="412.9" r="1.3" fill="#b018c8"/>
<circle cx="330.6" cy="397.9" r="1.3" fill="#b018c8"/>
<circle cx="339.4" cy="387.7" r="1.3" fill="#b018c8"/>
<circle cx="348.1" cy="382.6" r="1.3" fill="#b018c8"/>
<circle cx="313.2" cy="437.1" r="1.3" fill="#38c0ee"/>
<circle cx="321.9" cy="420.0" r="1.3" fill="#b018c8"/>
<circle cx="330.6" cy="405.3" r="1.3" fill="#b018c8"/>
<circle cx="339.4" cy="393.0" r="1.3" fill="#b018c8"/>
<circle cx="348.1" cy="386.3" r="1.3" fill="#b018c8"/>
<circle cx="313.2" cy="445.6" r="1.3" fill="#b018c8"/>
<circle cx="321.9" cy="427.7" r="1.3" fill="#38c0ee"/>
<circle cx="330.6" cy="412.2" r="1.3" fill="#b018c8"/>
<circle cx="339.4" cy="399.0" r="1.3" fill="#b018c8"/>
<circle cx="348.1" cy="390.5" r="1.3" fill="#38c0ee"/>
<circle cx="356.9" cy="386.1" r="1.3" fill="#38c0ee"/>
<circle cx="321.9" cy="435.8" r="1.3" fill="#b018c8"/>
<circle cx="330.6" cy="419.1" r="1.3" fill="#b018c8"/>
<circle cx="339.4" cy="405.4" r="1.3" fill="#b018c8"/>
<circle cx="348.1" cy="395.3" r="1.3" fill="#b018c8"/>
<circle cx="356.9" cy="389.6" r="1.3" fill="#38c0ee"/>
<circle cx="321.9" cy="444.7" r="1.3" fill="#b018c8"/>
<circle cx="330.6" cy="426.6" r="1.3" fill="#b018c8"/>
<circle cx="339.4" cy="411.8" r="1.3" fill="#b018c8"/>
<circle cx="348.1" cy="400.7" r="1.3" fill="#38c0ee"/>
<circle cx="356.9" cy="393.4" r="1.3" fill="#38c0ee"/>
<circle cx="330.6" cy="387.0" r="1.3" fill="#b018c8"/>
<circle cx="339.4" cy="383.8" r="1.3" fill="#b018c8"/>
<circle cx="348.1" cy="381.6" r="1.3" fill="#38c0ee"/>
<circle cx="356.9" cy="379.7" r="1.3" fill="#38c0ee"/>
<circle cx="365.6" cy="385.7" r="1.3" fill="#b018c8"/>
<circle cx="374.3" cy="388.4" r="1.3" fill="#b018c8"/>
<circle cx="383.0" cy="386.0" r="1.3" fill="#38c0ee"/>
<circle cx="391.6" cy="379.8" r="1.3" fill="#b018c8"/>
<circle cx="400.3" cy="381.3" r="1.3" fill="#b018c8"/>
<circle cx="330.6" cy="396.0" r="1.3" fill="#b018c8"/>
<circle cx="339.4" cy="392.2" r="1.3" fill="#b018c8"/>
<circle cx="348.1" cy="388.2" r="1.3" fill="#38c0ee"/>
<circle cx="356.9" cy="383.2" r="1.3" fill="#b018c8"/>
<circle cx="365.6" cy="389.2" r="1.3" fill="#b018c8"/>
<circle cx="374.3" cy="391.4" r="1.3" fill="#38c0ee"/>
<circle cx="383.0" cy="389.5" r="1.3" fill="#b018c8"/>
<circle cx="391.6" cy="383.3" r="1.3" fill="#38c0ee"/>
<circle cx="400.3" cy="387.6" r="1.3" fill="#b018c8"/>
<circle cx="330.6" cy="400.0" r="1.3" fill="#b018c8"/>
<circle cx="339.4" cy="395.6" r="1.3" fill="#b018c8"/>
<circle cx="348.1" cy="392.0" r="1.3" fill="#b018c8"/>
<circle cx="356.9" cy="391.6" r="1.3" fill="#b018c8"/>
<circle cx="365.6" cy="396.2" r="1.3" fill="#b018c8"/>
<circle cx="374.3" cy="398.9" r="1.3" fill="#38c0ee"/>
<circle cx="383.0" cy="396.5" r="1.3" fill="#b018c8"/>
<circle cx="391.6" cy="391.8" r="1.3" fill="#b018c8"/>
<circle cx="400.3" cy="391.9" r="1.3" fill="#b018c8"/>
<circle cx="330.6" cy="409.5" r="1.3" fill="#b018c8"/>
<circle cx="339.4" cy="408.4" r="1.3" fill="#b018c8"/>
<circle cx="348.1" cy="406.9" r="1.3" fill="#b018c8"/>
<circle cx="356.9" cy="406.1" r="1.3" fill="#38c0ee"/>
<circle cx="365.6" cy="406.0" r="1.3" fill="#b018c8"/>
<circle cx="374.3" cy="406.0" r="1.3" fill="#38c0ee"/>
<circle cx="383.0" cy="406.0" r="1.3" fill="#b018c8"/>
<circle cx="391.6" cy="406.1" r="1.3" fill="#b018c8"/>
<circle cx="400.3" cy="406.9" r="1.3" fill="#38c0ee"/>
<circle cx="339.4" cy="401.2" r="1.3" fill="#b018c8"/>
<circle cx="348.1" cy="400.8" r="1.3" fill="#38c0ee"/>
<circle cx="356.9" cy="405.2" r="1.3" fill="#38c0ee"/>
<circle cx="365.6" cy="410.9" r="1.3" fill="#b018c8"/>
<circle cx="374.3" cy="406.5" r="1.3" fill="#38c0ee"/>
<circle cx="383.0" cy="410.4" r="1.3" fill="#b018c8"/>
<circle cx="391.6" cy="405.8" r="1.3" fill="#b018c8"/>
<circle cx="400.3" cy="401.1" r="1.3" fill="#b018c8"/>
<circle cx="330.6" cy="431.0" r="1.3" fill="#38c0ee"/>
<circle cx="339.4" cy="427.0" r="1.3" fill="#b018c8"/>
<circle cx="348.1" cy="423.2" r="1.3" fill="#b018c8"/>
<circle cx="356.9" cy="418.3" r="1.3" fill="#b018c8"/>
<circle cx="365.6" cy="419.7" r="1.3" fill="#b018c8"/>
<circle cx="374.3" cy="427.6" r="1.3" fill="#b018c8"/>
<circle cx="383.0" cy="420.5" r="1.3" fill="#38c0ee"/>
<circle cx="391.6" cy="418.1" r="1.3" fill="#b018c8"/>
<circle cx="400.3" cy="422.6" r="1.3" fill="#b018c8"/>
<circle cx="321.9" cy="449.2" r="1.3" fill="#b018c8"/>
<circle cx="330.6" cy="443.4" r="1.3" fill="#b018c8"/>
<circle cx="339.4" cy="438.3" r="1.3" fill="#b018c8"/>
<circle cx="348.1" cy="434.0" r="1.3" fill="#b018c8"/>
<circle cx="356.9" cy="430.7" r="1.3" fill="#38c0ee"/>
<circle cx="365.6" cy="428.4" r="1.3" fill="#38c0ee"/>
<circle cx="374.3" cy="427.6" r="1.3" fill="#b018c8"/>
<circle cx="383.0" cy="428.3" r="1.3" fill="#38c0ee"/>
<circle cx="391.6" cy="430.5" r="1.3" fill="#b018c8"/>
<circle cx="400.3" cy="433.6" r="1.3" fill="#38c0ee"/>
<circle cx="356.9" cy="444.1" r="1.3" fill="#b018c8"/>
<circle cx="365.6" cy="437.2" r="1.3" fill="#b018c8"/>
<circle cx="374.3" cy="435.7" r="1.3" fill="#38c0ee"/>
<circle cx="383.0" cy="437.0" r="1.3" fill="#38c0ee"/>
<circle cx="391.6" cy="443.3" r="1.3" fill="#b018c8"/>
<circle cx="365.6" cy="445.3" r="1.3" fill="#b018c8"/>
<circle cx="374.3" cy="442.7" r="1.3" fill="#38c0ee"/>
<circle cx="383.0" cy="444.9" r="1.3" fill="#b018c8"/>
<circle cx="356.9" cy="446.6" r="1.3" fill="#38c0ee"/>
<circle cx="365.6" cy="438.7" r="1.3" fill="#38c0ee"/>
<circle cx="374.3" cy="437.0" r="1.3" fill="#38c0ee"/>
<circle cx="383.0" cy="438.4" r="1.3" fill="#38c0ee"/>
<circle cx="391.6" cy="445.6" r="1.3" fill="#38c0ee"/>
<circle cx="383.0" cy="377.6" r="1.3" fill="#b018c8"/>
<circle cx="391.6" cy="378.4" r="1.3" fill="#b018c8"/>
<circle cx="400.3" cy="380.0" r="1.3" fill="#b018c8"/>
<circle cx="409.0" cy="383.2" r="1.3" fill="#b018c8"/>
<circle cx="417.6" cy="388.0" r="1.3" fill="#b018c8"/>
<circle cx="426.3" cy="395.7" r="1.3" fill="#b018c8"/>
<circle cx="434.9" cy="404.3" r="1.3" fill="#b018c8"/>
<circle cx="443.6" cy="413.0" r="1.3" fill="#b018c8"/>
<circle cx="452.2" cy="420.4" r="1.3" fill="#b018c8"/>
<circle cx="460.9" cy="427.6" r="1.3" fill="#b018c8"/>
<circle cx="469.5" cy="434.8" r="1.3" fill="#b018c8"/>
<circle cx="478.2" cy="440.7" r="1.3" fill="#b018c8"/>
<circle cx="486.8" cy="443.6" r="1.3" fill="#b018c8"/>
<circle cx="391.6" cy="380.2" r="1.3" fill="#b018c8"/>
<circle cx="400.3" cy="381.9" r="1.3" fill="#b018c8"/>
<circle cx="409.0" cy="385.3" r="1.3" fill="#b018c8"/>
<circle cx="417.6" cy="390.2" r="1.3" fill="#b018c8"/>
<circle cx="426.3" cy="397.9" r="1.3" fill="#b018c8"/>
<circle cx="434.9" cy="406.3" r="1.3" fill="#b018c8"/>
<circle cx="443.6" cy="415.0" r="1.3" fill="#b018c8"/>
<circle cx="452.2" cy="422.3" r="1.3" fill="#b018c8"/>
<circle cx="460.9" cy="429.4" r="1.3" fill="#b018c8"/>
<circle cx="469.5" cy="436.4" r="1.3" fill="#b018c8"/>
<circle cx="478.2" cy="442.1" r="1.3" fill="#38c0ee"/>
<circle cx="486.8" cy="444.9" r="1.3" fill="#b018c8"/>
<circle cx="383.0" cy="376.8" r="1.3" fill="#38c0ee"/>
<circle cx="391.6" cy="379.8" r="1.3" fill="#b018c8"/>
<circle cx="400.3" cy="385.2" r="1.3" fill="#38c0ee"/>
<circle cx="409.0" cy="394.5" r="1.3" fill="#b018c8"/>
<circle cx="417.6" cy="412.0" r="1.3" fill="#b018c8"/>
<circle cx="426.3" cy="426.9" r="1.3" fill="#b018c8"/>
<circle cx="434.9" cy="441.4" r="1.3" fill="#b018c8"/>
<circle cx="383.0" cy="380.4" r="1.3" fill="#38c0ee"/>
<circle cx="391.6" cy="383.8" r="1.3" fill="#b018c8"/>
<circle cx="400.3" cy="391.3" r="1.3" fill="#38c0ee"/>
<circle cx="409.0" cy="403.5" r="1.3" fill="#b018c8"/>
<circle cx="417.6" cy="421.2" r="1.3" fill="#b018c8"/>
<circle cx="426.3" cy="438.4" r="1.3" fill="#b018c8"/>
<circle cx="391.6" cy="388.9" r="1.3" fill="#b018c8"/>
<circle cx="400.3" cy="398.5" r="1.3" fill="#38c0ee"/>
<circle cx="409.0" cy="416.3" r="1.3" fill="#b018c8"/>
<circle cx="417.6" cy="443.2" r="1.3" fill="#b018c8"/>
<circle cx="391.6" cy="394.4" r="1.3" fill="#38c0ee"/>
<circle cx="400.3" cy="406.6" r="1.3" fill="#38c0ee"/>
<circle cx="409.0" cy="431.8" r="1.3" fill="#b018c8"/>
<circle cx="391.6" cy="407.6" r="1.3" fill="#b018c8"/>
<circle cx="400.3" cy="424.2" r="1.3" fill="#38c0ee"/>
<circle cx="400.3" cy="434.5" r="1.3" fill="#b018c8"/>
<path d="M234.5,262.8 235.4,262.9 236.5,263.0 237.9,263.1 239.4,263.2 241.0,263.3 242.5,263.5 244.0,263.7 245.5,264.0 247.0,264.2 248.6,264.5 250.2,264.8 251.7,265.0 253.2,265.2 254.8,265.4 256.3,265.6 257.9,265.7 259.4,265.8 260.9,265.9 262.4,265.9 263.9,265.9 265.4,265.8 266.9,265.6 268.2,265.5 269.4,265.2 270.4,264.9 271.3,264.4 272.1,263.9 272.8,263.4 273.4,262.9 274.0,262.5 274.6,262.2 275.1,261.9 275.5,261.6 275.9,261.4 276.3,261.2 276.5,261.1 M234.5,266.5 235.4,266.6 236.5,266.6 237.9,266.7 239.4,266.8 241.0,266.9 242.5,267.0 244.0,267.1 245.5,267.2 247.0,267.3 248.6,267.4 250.2,267.5 251.7,267.5 253.3,267.5 254.8,267.5 256.4,267.4 258.0,267.3 259.5,267.1 260.9,266.8 262.3,266.4 263.6,265.9 264.8,265.3 266.0,264.6 267.1,264.0 268.0,263.5 268.8,263.0 269.4,262.5 269.9,262.1 270.4,261.7 270.7,261.4 271.0,261.1 M234.5,271.3 235.4,271.5 236.5,271.9 237.9,272.3 239.4,272.7 241.0,273.1 242.5,273.4 244.0,273.7 245.5,274.1 247.0,274.4 248.6,274.6 250.2,274.8 251.7,274.9 253.2,274.8 254.8,274.6 256.3,274.3 257.9,274.0 259.4,273.6 260.9,273.4 262.4,273.2 263.8,273.0 265.2,272.9 266.6,272.7 268.0,272.7 269.4,272.7 270.8,272.8 272.3,273.1 273.8,273.4 275.2,273.8 276.6,274.1 277.9,274.2 279.1,274.2 280.2,274.2 281.2,274.1 282.2,273.9 283.1,273.7 284.0,273.5 284.8,273.2 285.5,272.8 286.2,272.4 286.8,272.0 287.4,271.7 288.0,271.5 288.6,271.4 289.2,271.4 289.7,271.4 290.3,271.5 290.8,271.6 291.5,271.8 292.2,272.0 292.9,272.3 293.6,272.6 294.4,272.9 295.3,273.3 296.3,273.8 297.5,274.3 298.9,274.9 300.3,275.6 301.8,276.2 303.3,276.9 304.8,277.5 306.2,278.1 307.5,278.6 308.9,279.2 310.2,279.7 311.7,280.2 313.2,280.8 314.9,281.4 316.6,281.9 318.4,282.5 320.3,283.0 322.2,283.6 324.0,284.3 325.8,285.0 327.7,285.8 329.6,286.6 331.4,287.4 333.2,288.2 335.0,289.0 336.8,289.7 338.5,290.5 340.2,291.2 341.9,291.8 343.5,292.5 345.0,293.0 346.4,293.5 347.8,293.9 349.1,294.2 350.3,294.6 351.3,294.8 352.0,295.0 M234.5,275.2 235.1,275.6 235.9,276.1 236.9,276.7 238.0,277.4 239.0,278.0 240.0,278.5 240.8,278.9 241.6,279.3 242.4,279.7 243.2,280.0 244.1,280.1 245.0,280.2 246.0,280.1 247.0,279.9 248.1,279.7 249.2,279.3 250.4,278.9 251.7,278.4 253.1,277.8 254.6,277.1 256.2,276.2 257.8,275.4 259.4,274.7 260.9,274.2 262.4,273.8 263.8,273.6 265.2,273.4 266.6,273.3 268.0,273.3 269.4,273.4 270.8,273.5 272.2,273.8 273.6,274.1 275.1,274.4 276.5,274.8 277.9,275.2 279.3,275.6 280.7,276.2 282.1,276.7 283.5,277.3 284.9,277.8 286.4,278.4 288.0,279.0 289.6,279.6 291.3,280.2 293.1,280.9 294.7,281.4 296.3,281.9 297.8,282.3 299.2,282.6 300.6,282.8 302.0,283.0 303.4,283.2 304.8,283.5 306.2,283.8 307.5,284.0 308.9,284.3 310.2,284.5 311.7,284.8 313.2,285.2 314.9,285.6 316.6,286.1 318.4,286.6 320.3,287.2 322.2,287.7 324.0,288.3 325.8,288.9 327.7,289.5 329.6,290.1 331.4,290.7 333.2,291.4 335.0,292.0 336.8,292.7 338.8,293.5 340.7,294.2 342.4,295.0 343.9,295.6 345.0,296.0 M234.5,279.1 235.4,279.2 236.5,279.2 237.9,279.3 239.4,279.4 241.0,279.6 242.5,279.8 244.0,280.1 245.5,280.5 247.0,281.0 248.6,281.5 250.2,282.0 251.7,282.6 253.2,283.3 254.8,284.1 256.3,284.9 257.9,285.7 259.4,286.4 260.9,286.9 262.4,287.2 263.8,287.4 265.2,287.4 266.6,287.3 268.0,287.2 269.4,286.9 270.8,286.5 272.2,285.9 273.6,285.2 275.1,284.5 276.5,283.9 277.9,283.3 279.3,282.8 280.8,282.3 282.2,281.8 283.7,281.5 285.1,281.2 286.4,281.2 287.6,281.3 288.8,281.6 289.9,282.1 291.0,282.6 292.2,283.3 293.4,284.1 294.7,285.0 296.0,286.0 297.4,287.2 298.8,288.4 300.3,289.7 301.9,291.1 303.6,292.6 305.5,294.3 307.4,296.0 309.4,297.7 311.3,299.4 313.2,301.0 315.0,302.4 316.9,303.8 318.7,305.2 320.6,306.4 322.3,307.6 324.0,308.8 325.6,309.9 327.2,310.9 328.7,311.9 330.1,312.8 331.6,313.7 333.0,314.5 334.4,315.2 335.8,315.8 337.1,316.4 338.4,317.0 339.7,317.5 341.0,318.0 342.2,318.5 343.5,319.0 344.7,319.4 345.9,319.9 347.0,320.4 348.0,321.0 349.0,321.7 349.9,322.4 350.7,323.2 351.5,324.0 352.3,325.0 353.0,326.0 353.7,327.1 354.3,328.4 354.9,329.8 355.4,331.1 356.0,332.6 356.5,334.0 357.0,335.4 357.5,336.9 358.0,338.5 358.5,340.0 359.0,341.5 359.5,343.0 360.0,344.5 360.5,345.9 361.0,347.4 361.5,348.8 362.0,350.2 362.5,351.5 362.9,352.7 363.4,353.8 363.8,354.8 364.1,355.9 364.6,356.9 365.0,358.0 365.5,359.2 365.9,360.4 366.4,361.6 366.9,362.8 367.5,363.9 368.0,365.0 368.6,366.0 369.1,366.9 369.7,367.8 370.3,368.7 370.9,369.4 371.5,370.0 372.1,370.5 372.7,370.8 373.3,371.1 373.8,371.2 374.3,371.4 374.6,371.5 M234.5,284.1 235.4,283.8 236.5,283.5 237.9,283.0 239.4,282.6 241.0,282.2 242.5,281.9 244.0,281.6 245.5,281.4 247.0,281.1 248.6,281.0 250.2,281.0 251.7,281.2 253.2,281.7 254.8,282.3 256.3,283.2 257.9,284.0 259.4,284.9 260.9,285.5 262.4,286.0 263.8,286.5 265.2,287.0 266.6,287.3 268.0,287.5 269.4,287.6 270.8,287.5 272.2,287.2 273.6,286.9 275.1,286.4 276.5,285.9 277.9,285.5 279.3,285.0 280.8,284.4 282.2,283.7 283.7,283.1 285.1,282.7 286.4,282.6 287.6,282.8 288.8,283.2 289.9,283.7 291.0,284.4 292.2,285.3 293.4,286.2 294.7,287.2 296.0,288.4 297.4,289.7 298.8,291.1 300.3,292.5 301.9,294.0 303.6,295.6 305.5,297.2 307.4,299.0 309.4,300.7 311.3,302.4 313.2,303.9 315.0,305.3 316.9,306.7 318.7,308.0 320.6,309.3 322.3,310.5 324.0,311.6 325.6,312.6 327.1,313.6 328.6,314.5 330.1,315.4 331.5,316.2 333.0,317.0 334.5,317.8 336.1,318.6 337.6,319.4 339.1,320.1 340.6,320.8 342.0,321.5 343.3,322.1 344.6,322.6 345.8,323.1 346.9,323.6 348.0,324.3 349.0,325.0 350.0,325.9 350.9,326.9 351.7,327.9 352.5,329.1 353.3,330.3 354.0,331.5 354.7,332.8 355.3,334.2 355.9,335.6 356.4,337.1 357.0,338.5 357.5,340.0 358.0,341.5 358.5,343.0 359.0,344.5 359.5,346.1 360.0,347.6 360.5,349.0 361.0,350.4 361.5,351.8 362.0,353.1 362.5,354.4 363.0,355.7 363.5,357.0 364.0,358.3 364.6,359.7 365.2,361.0 365.7,362.2 366.2,363.2 366.5,364.0 M304.6,261.1 305.0,261.2 305.4,261.4 305.9,261.6 306.6,261.9 307.5,262.3 308.6,263.0 310.0,263.9 311.8,265.1 313.7,266.4 315.7,267.8 317.7,269.2 319.6,270.5 321.3,271.7 323.1,272.9 324.8,274.1 326.5,275.2 328.1,276.4 329.6,277.5 331.1,278.6 332.5,279.8 333.9,280.9 335.2,282.0 336.5,283.0 337.6,284.0 338.6,284.9 339.5,285.8 340.3,286.6 341.0,287.4 341.8,288.2 342.6,289.0 343.4,289.9 344.3,290.8 345.1,291.7 346.0,292.6 346.8,293.6 347.6,294.5 348.4,295.4 349.1,296.3 349.9,297.2 350.6,298.2 351.4,299.1 352.1,300.0 352.9,300.9 353.6,301.8 354.4,302.8 355.1,303.7 355.9,304.6 356.6,305.5 357.4,306.4 358.1,307.3 358.9,308.2 359.6,309.2 360.4,310.1 361.1,311.0 361.9,311.9 362.6,312.9 363.4,313.8 364.1,314.7 364.9,315.6 365.6,316.5 366.4,317.3 367.1,318.1 367.9,318.9 368.6,319.6 369.4,320.3 370.1,321.0 370.9,321.7 371.6,322.5 372.4,323.2 373.1,323.8 373.9,324.2 374.6,324.4 375.4,324.2 376.1,323.8 376.9,323.2 377.6,322.5 378.4,321.7 379.1,321.0 379.9,320.3 380.6,319.6 381.4,318.9 382.1,318.1 382.9,317.3 383.6,316.5 384.4,315.6 385.1,314.7 385.9,313.8 386.6,312.9 387.4,311.9 388.1,311.0 388.9,310.1 389.6,309.2 390.4,308.2 391.1,307.3 391.9,306.4 392.6,305.5 393.4,304.6 394.1,303.7 394.9,302.8 395.6,301.8 396.4,300.9 397.1,300.0 397.8,299.1 398.6,298.2 399.3,297.2 400.1,296.3 400.8,295.4 401.6,294.5 402.4,293.6 403.2,292.6 404.1,291.7 404.9,290.8 405.8,289.9 406.6,289.0 407.4,288.2 408.2,287.4 408.9,286.6 409.7,285.8 410.6,284.9 411.6,284.0 412.7,283.0 414.0,282.0 415.3,280.9 416.7,279.8 418.1,278.6 419.6,277.5 421.1,276.4 422.7,275.2 424.4,274.1 426.1,272.9 427.9,271.7 429.6,270.5 431.5,269.2 433.5,267.8 435.5,266.4 437.4,265.1 439.2,263.9 440.6,263.0 441.7,262.3 442.6,261.9 443.3,261.6 443.8,261.4 444.2,261.2 444.6,261.1 M308.6,271.0 309.6,271.7 310.9,272.6 312.5,273.7 314.3,274.9 316.0,276.0 317.6,277.0 319.1,277.9 320.6,278.8 322.2,279.6 323.7,280.4 325.2,281.2 326.6,282.0 328.0,282.7 329.4,283.4 330.7,284.1 332.0,284.7 333.3,285.3 334.6,286.0 335.8,286.7 337.0,287.3 338.2,288.0 339.4,288.7 340.5,289.3 341.6,290.0 342.7,290.7 343.7,291.3 344.7,292.0 345.7,292.6 346.7,293.3 347.6,294.0 348.5,294.7 349.4,295.4 350.3,296.1 351.1,296.8 351.9,297.5 352.8,298.3 353.7,299.1 354.6,299.9 355.4,300.7 356.3,301.6 357.2,302.5 358.0,303.5 358.8,304.6 359.6,305.9 360.4,307.3 361.1,308.6 361.9,309.9 362.6,311.0 363.3,312.0 364.0,312.9 364.7,313.7 365.3,314.5 366.0,315.2 366.6,315.8 367.2,316.4 367.8,316.8 368.3,317.2 368.9,317.6 369.5,317.9 370.1,318.2 370.8,318.5 371.5,318.7 372.3,319.0 373.1,319.1 373.8,319.3 374.6,319.3 375.4,319.3 376.1,319.1 376.9,319.0 377.7,318.7 378.4,318.5 379.1,318.2 379.7,317.9 380.3,317.6 380.9,317.2 381.4,316.8 382.0,316.4 382.6,315.8 383.2,315.2 383.9,314.5 384.5,313.7 385.2,312.9 385.9,312.0 386.6,311.0 387.3,309.9 388.1,308.6 388.8,307.3 389.6,305.9 390.4,304.6 391.2,303.5 392.0,302.5 392.9,301.6 393.8,300.7 394.6,299.9 395.5,299.1 396.4,298.3 397.3,297.5 398.1,296.8 398.9,296.1 399.8,295.4 400.7,294.7 401.6,294.0 402.5,293.3 403.5,292.6 404.5,292.0 405.5,291.3 406.5,290.7 407.6,290.0 408.7,289.3 409.8,288.7 411.0,288.0 412.2,287.3 413.4,286.7 414.6,286.0 415.9,285.3 417.2,284.7 418.5,284.1 419.8,283.4 421.2,282.7 422.6,282.0 424.0,281.2 425.5,280.4 427.0,279.6 428.6,278.8 430.1,277.9 431.6,277.0 433.2,276.0 434.9,274.9 436.7,273.7 438.3,272.6 439.6,271.7 440.6,271.0 M352.6,307.0 353.2,306.8 354.1,306.4 355.2,306.0 356.3,305.6 357.5,305.2 358.6,304.8 359.7,304.5 360.8,304.2 361.9,303.9 363.1,303.6 364.3,303.3 365.6,303.1 367.0,302.9 368.5,302.7 370.0,302.5 371.5,302.4 373.1,302.3 374.6,302.3 376.1,302.3 377.7,302.4 379.2,302.5 380.7,302.7 382.2,302.9 383.6,303.1 384.9,303.3 386.1,303.6 387.3,303.9 388.4,304.2 389.5,304.5 390.6,304.8 391.7,305.2 392.9,305.6 394.0,306.0 395.1,306.4 396.0,306.8 396.6,307.0 M344.1,261.1 344.3,261.5 344.6,261.9 344.9,262.5 345.3,263.1 345.7,263.8 346.1,264.5 346.5,265.2 346.9,266.0 347.3,266.9 347.7,267.8 348.1,268.6 348.6,269.5 349.1,270.4 349.6,271.2 350.1,272.1 350.6,273.0 351.1,273.8 351.6,274.5 352.1,275.1 352.6,275.7 353.1,276.3 353.6,276.7 354.1,277.2 354.6,277.5 355.1,277.8 355.6,278.0 356.0,278.2 356.5,278.3 357.0,278.4 357.6,278.3 358.2,278.1 358.9,277.8 359.5,277.4 360.2,277.0 360.9,276.5 361.6,276.0 362.3,275.5 362.9,274.9 363.5,274.4 364.2,273.7 364.9,273.1 365.6,272.5 366.4,271.8 367.2,271.1 368.1,270.3 369.0,269.6 369.8,269.0 370.6,268.5 371.3,268.2 372.0,267.9 372.7,267.8 373.3,267.7 373.9,267.7 374.6,267.7 375.3,267.7 375.9,267.7 376.5,267.8 377.2,267.9 377.9,268.2 378.6,268.5 379.4,269.0 380.2,269.6 381.1,270.3 382.0,271.1 382.8,271.8 383.6,272.5 384.3,273.1 385.0,273.7 385.7,274.4 386.3,274.9 386.9,275.5 387.6,276.0 388.3,276.5 389.0,277.0 389.7,277.4 390.3,277.8 391.0,278.1 391.6,278.3 392.2,278.4 392.7,278.3 393.2,278.2 393.6,278.0 394.1,277.8 394.6,277.5 395.1,277.2 395.6,276.7 396.1,276.3 396.6,275.7 397.1,275.1 397.6,274.5 398.1,273.8 398.6,273.0 399.1,272.1 399.6,271.2 400.1,270.4 400.6,269.5 401.1,268.6 401.5,267.8 401.9,266.9 402.3,266.0 402.7,265.2 403.1,264.5 403.5,263.8 403.9,263.1 404.3,262.5 404.6,261.9 404.9,261.5 405.1,261.1 M342.6,261.1 342.9,261.6 343.2,262.3 343.7,263.2 344.1,264.1 344.6,265.1 345.1,266.0 345.6,266.9 346.1,267.8 346.6,268.7 347.1,269.7 347.6,270.6 348.1,271.5 348.6,272.4 349.1,273.3 349.6,274.2 350.1,275.0 350.6,275.8 351.1,276.5 351.6,277.1 352.1,277.7 352.6,278.3 353.1,278.7 353.6,279.2 354.1,279.5 354.6,279.8 355.2,280.0 355.8,280.2 356.4,280.3 357.0,280.3 357.6,280.2 358.2,280.0 358.9,279.7 359.6,279.3 360.2,278.8 360.9,278.3 361.6,277.8 362.3,277.3 362.9,276.7 363.5,276.2 364.2,275.5 364.9,274.9 365.6,274.3 366.4,273.6 367.2,272.9 368.1,272.1 369.0,271.4 369.8,270.8 370.6,270.3 371.3,269.9 372.0,269.7 372.7,269.5 373.3,269.5 373.9,269.4 374.6,269.4 375.3,269.4 375.9,269.5 376.5,269.5 377.2,269.7 377.9,269.9 378.6,270.3 379.4,270.8 380.2,271.4 381.1,272.1 382.0,272.9 382.8,273.6 383.6,274.3 384.3,274.9 385.0,275.5 385.7,276.1 386.3,276.7 386.9,277.3 387.6,277.8 388.3,278.3 389.0,278.8 389.6,279.3 390.3,279.7 391.0,280.0 391.6,280.2 392.2,280.3 392.8,280.3 393.4,280.2 394.0,280.0 394.6,279.8 395.1,279.5 395.6,279.2 396.1,278.7 396.6,278.3 397.1,277.7 397.6,277.1 398.1,276.5 398.6,275.8 399.1,275.0 399.6,274.2 400.1,273.3 400.6,272.4 401.1,271.5 401.6,270.6 402.1,269.7 402.6,268.7 403.1,267.8 403.6,266.9 404.1,266.0 404.6,265.1 405.1,264.1 405.5,263.2 406.0,262.3 406.3,261.6 406.6,261.1 M335.6,261.1 336.0,261.7 336.6,262.6 337.4,263.7 338.1,264.8 338.9,265.9 339.6,267.0 340.3,268.0 341.0,269.0 341.6,270.0 342.3,271.0 343.0,272.0 343.6,273.0 344.2,273.9 344.8,274.9 345.4,275.8 345.9,276.6 346.5,277.5 347.0,278.4 347.5,279.3 348.1,280.1 348.6,281.0 349.1,281.8 349.6,282.6 350.1,283.5 350.6,284.4 351.1,285.3 351.5,286.3 352.0,287.2 352.5,288.0 353.1,288.7 353.7,289.3 354.4,289.9 355.1,290.4 355.8,290.7 356.6,291.0 357.3,291.2 358.0,291.2 358.7,291.1 359.5,290.9 360.2,290.7 360.9,290.3 361.6,290.0 362.3,289.6 362.9,289.2 363.6,288.8 364.2,288.2 364.9,287.7 365.6,287.0 366.4,286.2 367.2,285.2 368.1,284.2 369.0,283.2 369.8,282.3 370.6,281.6 371.3,281.1 372.0,280.8 372.7,280.6 373.3,280.5 373.9,280.4 374.6,280.4 375.3,280.4 375.9,280.5 376.5,280.6 377.2,280.8 377.9,281.1 378.6,281.6 379.4,282.3 380.2,283.2 381.1,284.2 382.0,285.2 382.8,286.2 383.6,287.0 384.3,287.7 385.0,288.2 385.6,288.8 386.3,289.2 386.9,289.6 387.6,290.0 388.3,290.3 389.0,290.7 389.7,290.9 390.5,291.1 391.2,291.2 391.9,291.2 392.6,291.0 393.4,290.7 394.1,290.4 394.8,289.9 395.5,289.3 396.1,288.7 396.7,288.0 397.2,287.2 397.7,286.3 398.1,285.3 398.6,284.4 399.1,283.5 399.6,282.6 400.1,281.8 400.6,281.0 401.1,280.1 401.7,279.3 402.2,278.4 402.7,277.5 403.3,276.6 403.8,275.8 404.4,274.9 405.0,273.9 405.6,273.0 406.2,272.0 406.9,271.0 407.6,270.0 408.2,269.0 408.9,268.0 409.6,267.0 410.3,265.9 411.1,264.8 411.9,263.7 412.6,262.6 413.2,261.7 413.6,261.1 M334.1,261.1 334.6,261.9 335.3,263.1 336.1,264.4 337.0,265.9 337.8,267.3 338.6,268.5 339.3,269.6 340.0,270.6 340.7,271.6 341.3,272.6 342.0,273.5 342.6,274.5 343.2,275.4 343.8,276.4 344.4,277.3 345.0,278.2 345.5,279.1 346.1,280.0 346.7,280.9 347.3,281.8 347.9,282.8 348.4,283.7 349.0,284.6 349.6,285.5 350.2,286.4 350.7,287.3 351.3,288.2 351.9,289.1 352.5,289.9 353.1,290.6 353.8,291.2 354.4,291.7 355.2,292.2 355.9,292.6 356.6,292.8 357.3,293.0 358.0,293.0 358.7,292.9 359.5,292.7 360.2,292.5 360.9,292.1 361.6,291.8 362.3,291.4 362.9,291.0 363.6,290.6 364.2,290.1 364.9,289.5 365.6,288.8 366.4,288.0 367.2,287.0 368.1,285.9 369.0,284.9 369.8,284.0 370.6,283.3 371.3,282.8 372.0,282.5 372.7,282.2 373.3,282.1 373.9,282.0 374.6,282.0 375.3,282.0 375.9,282.1 376.5,282.2 377.2,282.5 377.9,282.8 378.6,283.3 379.4,284.0 380.2,284.9 381.1,285.9 382.0,287.0 382.8,288.0 383.6,288.8 384.3,289.5 385.0,290.1 385.6,290.6 386.3,291.0 386.9,291.4 387.6,291.8 388.3,292.1 389.0,292.5 389.7,292.7 390.5,292.9 391.2,293.0 391.9,293.0 392.6,292.8 393.3,292.6 394.1,292.2 394.8,291.7 395.4,291.2 396.1,290.6 396.7,289.9 397.3,289.1 397.9,288.2 398.5,287.3 399.0,286.4 399.6,285.5 400.2,284.6 400.8,283.7 401.4,282.8 401.9,281.8 402.5,280.9 403.1,280.0 403.7,279.1 404.2,278.2 404.8,277.3 405.4,276.4 406.0,275.4 406.6,274.5 407.2,273.5 407.9,272.6 408.5,271.6 409.2,270.6 409.9,269.6 410.6,268.5 411.4,267.3 412.2,265.9 413.1,264.4 413.9,263.1 414.6,261.9 415.1,261.1 M345.0,261.1 345.2,261.4 345.5,261.9 345.8,262.4 346.2,263.0 346.6,263.6 347.0,264.1 347.4,264.6 347.8,265.1 348.2,265.6 348.6,266.0 349.1,266.4 349.6,266.8 350.1,267.1 350.7,267.4 351.2,267.7 351.8,267.9 352.4,268.1 353.1,268.2 353.8,268.3 354.6,268.2 355.3,268.2 356.1,268.1 356.9,268.0 357.6,267.8 358.3,267.6 358.9,267.4 359.5,267.1 360.1,266.8 360.7,266.5 361.3,266.2 362.0,265.9 362.7,265.5 363.4,265.1 364.2,264.7 364.9,264.3 365.6,264.0 366.3,263.7 366.9,263.4 367.6,263.1 368.2,262.9 368.9,262.7 369.6,262.5 370.4,262.3 371.2,262.2 372.0,262.1 372.9,262.1 373.8,262.0 374.6,262.0 375.4,262.0 376.3,262.1 377.2,262.1 378.0,262.2 378.8,262.3 379.6,262.5 380.3,262.7 381.0,262.9 381.6,263.1 382.3,263.4 382.9,263.7 383.6,264.0 384.3,264.3 385.0,264.7 385.8,265.1 386.5,265.5 387.2,265.9 387.9,266.2 388.5,266.5 389.1,266.8 389.7,267.1 390.3,267.4 390.9,267.6 391.6,267.8 392.3,268.0 393.1,268.1 393.9,268.2 394.6,268.2 395.4,268.3 396.1,268.2 396.8,268.1 397.4,267.9 398.0,267.7 398.5,267.4 399.1,267.1 399.6,266.8 400.1,266.4 400.6,266.0 401.0,265.6 401.4,265.1 401.8,264.6 402.2,264.1 402.6,263.6 403.0,263.0 403.4,262.4 403.7,261.9 404.0,261.4 404.2,261.1 M303.5,261.1 304.5,262.5 305.9,264.4 307.6,266.6 309.3,269.0 311.1,271.3 312.8,273.2 314.4,274.8 315.9,276.3 317.5,277.7 319.1,279.0 320.6,280.2 322.2,281.4 323.8,282.5 325.3,283.5 326.9,284.4 328.5,285.4 330.0,286.3 331.5,287.2 332.9,288.2 334.3,289.1 335.7,290.0 337.0,291.0 338.3,292.0 339.7,293.0 341.1,294.1 342.4,295.3 343.8,296.5 345.2,297.7 346.5,298.9 347.9,300.0 349.3,301.0 350.6,302.1 352.0,303.0 353.4,304.0 354.7,304.9 356.1,305.9 357.5,306.9 358.9,307.9 360.3,308.9 361.7,309.9 363.0,310.8 364.2,311.7 365.3,312.6 366.4,313.4 367.4,314.2 368.3,315.0 369.2,315.7 370.1,316.4 371.0,317.1 371.9,317.8 372.7,318.4 373.5,319.0 374.1,319.4 374.6,319.8 M305.0,261.1 306.0,262.3 307.3,264.1 308.9,266.2 310.6,268.3 312.4,270.4 314.0,272.2 315.6,273.7 317.1,275.2 318.8,276.5 320.4,277.8 321.9,279.0 323.5,280.2 325.0,281.3 326.6,282.3 328.1,283.2 329.6,284.2 331.1,285.1 332.5,286.0 333.9,286.9 335.2,287.8 336.6,288.7 337.9,289.7 339.2,290.6 340.5,291.6 341.8,292.7 343.2,293.8 344.5,294.9 345.8,296.1 347.2,297.2 348.5,298.3 349.8,299.3 351.2,300.3 352.5,301.3 353.9,302.3 355.2,303.2 356.5,304.2 357.9,305.2 359.3,306.4 360.8,307.5 362.1,308.5 363.2,309.4 364.0,310.0 M312.8,261.1 313.8,262.0 315.3,263.2 317.0,264.6 318.8,266.1 320.6,267.5 322.2,268.8 323.6,269.8 325.0,270.8 326.4,271.6 327.7,272.5 329.1,273.4 330.4,274.4 331.7,275.5 333.1,276.6 334.4,277.8 335.7,279.0 337.1,280.2 338.5,281.4 340.0,282.5 341.6,283.6 343.2,284.8 344.8,285.9 346.4,287.1 347.9,288.4 349.4,289.8 350.8,291.4 352.1,293.0 353.5,294.7 354.8,296.3 356.1,297.7 357.4,299.0 358.6,300.2 359.8,301.3 360.9,302.5 362.0,303.6 363.1,304.7 364.1,305.8 365.1,306.8 366.1,307.8 367.0,308.9 368.0,310.2 368.9,311.7 369.9,313.6 371.0,316.0 372.1,318.5 373.1,320.9 374.0,323.0 374.6,324.4 M321.0,261.1 322.0,261.8 323.5,262.8 325.2,264.0 327.0,265.2 328.8,266.4 330.4,267.6 331.8,268.7 333.1,269.7 334.4,270.8 335.8,271.8 337.1,272.9 338.5,274.0 340.0,275.1 341.6,276.2 343.2,277.3 344.8,278.5 346.4,279.7 347.9,281.0 349.4,282.4 350.8,283.9 352.1,285.5 353.5,287.1 354.8,288.7 356.1,290.2 357.4,291.7 358.8,293.3 360.1,294.9 361.3,296.4 362.4,297.6 363.1,298.5 M333.0,261.1 333.7,261.6 334.6,262.3 335.6,263.2 336.8,264.1 337.9,265.1 339.0,266.0 340.0,266.9 341.0,267.9 342.0,268.9 343.0,269.9 344.0,270.9 345.0,272.0 346.0,273.1 346.9,274.2 347.8,275.4 348.7,276.6 349.6,277.8 350.5,279.0 351.4,280.2 352.2,281.5 353.0,282.7 353.9,284.0 354.7,285.2 355.5,286.5 356.3,287.8 357.2,289.0 358.0,290.2 358.8,291.5 359.7,292.8 360.5,294.0 361.3,295.2 362.2,296.5 363.0,297.8 363.9,299.0 364.7,300.2 365.5,301.5 366.3,302.8 367.2,304.3 368.1,305.7 368.9,307.1 369.5,308.2 370.0,309.0 M334.5,261.1 335.2,261.7 336.1,262.5 337.1,263.4 338.3,264.4 339.4,265.5 340.5,266.5 341.5,267.5 342.5,268.5 343.5,269.5 344.5,270.5 345.5,271.6 346.5,272.7 347.5,273.8 348.4,275.0 349.3,276.2 350.2,277.4 351.1,278.6 352.0,279.8 352.9,281.0 353.7,282.3 354.5,283.5 355.4,284.8 356.2,286.0 357.0,287.3 357.8,288.6 358.7,289.9 359.5,291.2 360.3,292.4 361.2,293.7 362.0,295.0 362.9,296.3 363.9,297.8 364.8,299.2 365.7,300.6 366.5,301.7 367.0,302.5 M300.0,283.1 301.4,283.2 303.4,283.4 305.8,283.6 308.3,283.8 310.7,284.0 312.8,284.3 314.6,284.6 316.2,284.9 317.8,285.2 319.3,285.6 320.7,286.1 322.2,286.6 323.6,287.3 325.0,288.0 326.4,288.8 327.7,289.7 329.1,290.5 330.4,291.3 331.7,292.0 333.1,292.6 334.4,293.3 335.7,293.9 337.1,294.6 338.5,295.4 340.0,296.3 341.5,297.2 343.1,298.3 344.7,299.3 346.3,300.3 347.9,301.2 349.5,302.1 351.0,302.9 352.6,303.7 354.2,304.5 355.7,305.2 357.2,305.9 358.7,306.6 360.3,307.3 361.9,307.9 363.3,308.5 364.5,309.0 365.4,309.4 M300.0,277.0 301.3,277.5 303.1,278.1 305.3,278.9 307.5,279.8 309.8,280.6 311.7,281.4 313.4,282.2 315.0,283.0 316.5,283.8 318.0,284.6 319.5,285.3 321.0,286.0 322.6,286.6 324.1,287.1 325.7,287.5 327.3,288.0 328.8,288.5 330.4,289.0 332.1,289.7 333.9,290.4 335.6,291.2 337.3,291.9 338.7,292.6 339.7,293.0 M383.0,317.5 383.9,316.8 385.1,315.7 386.6,314.5 388.1,313.2 389.6,311.8 391.0,310.5 392.2,309.2 393.4,307.7 394.6,306.3 395.8,304.8 396.9,303.4 398.0,302.0 399.1,300.7 400.1,299.4 401.1,298.2 402.0,296.9 403.0,295.7 404.0,294.5 405.0,293.3 406.0,292.2 407.0,291.1 408.0,289.9 409.0,288.7 410.0,287.5 411.0,286.2 412.0,284.8 413.1,283.4 414.1,281.9 415.1,280.5 416.0,279.0 416.9,277.5 417.8,276.0 418.6,274.5 419.4,273.0 420.2,271.5 421.0,270.0 421.8,268.4 422.6,266.7 423.3,265.0 424.0,263.4 424.6,262.1 425.0,261.1 M386.0,314.5 386.8,313.7 387.8,312.6 389.1,311.3 390.4,309.9 391.8,308.4 393.0,307.0 394.2,305.6 395.4,304.2 396.6,302.7 397.7,301.3 398.9,299.8 400.0,298.5 401.1,297.2 402.1,296.1 403.1,294.9 404.0,293.8 405.0,292.6 406.0,291.5 407.0,290.4 408.0,289.2 409.0,288.1 410.0,286.9 411.0,285.8 412.0,284.5 413.0,283.2 414.0,281.8 415.1,280.4 416.1,278.9 417.1,277.5 418.0,276.0 418.9,274.5 419.8,272.9 420.6,271.3 421.4,269.8 422.2,268.3 423.0,267.0 423.8,265.8 424.6,264.6 425.3,263.5 426.0,262.5 426.6,261.7 427.0,261.1 M401.0,289.0 401.3,288.7 401.7,288.4 402.2,288.0 402.9,287.5 403.8,286.9 405.0,286.2 406.7,285.3 408.7,284.2 411.1,283.0 413.5,281.7 415.7,280.7 417.7,279.8 419.4,279.2 420.8,278.8 422.2,278.5 423.5,278.2 424.8,278.0 426.2,277.7 427.6,277.3 429.0,277.0 430.4,276.6 431.9,276.3 433.3,275.9 434.7,275.6 436.1,275.3 437.5,275.0 438.9,274.7 440.4,274.4 441.8,274.0 443.2,273.5 444.6,272.9 446.0,272.3 447.4,271.5 448.8,270.8 450.2,270.0 451.7,269.2 453.3,268.4 454.9,267.5 456.7,266.6 458.4,265.7 460.0,264.9 461.6,264.2 463.1,263.6 464.5,263.1 465.9,262.6 467.3,262.3 468.7,262.1 470.1,262.1 471.5,262.4 472.9,262.9 474.4,263.6 475.8,264.4 477.2,265.1 478.6,265.7 480.0,266.2 481.5,266.7 482.9,267.1 484.3,267.5 485.7,267.7 487.1,267.8 488.5,267.7 490.1,267.3 491.6,266.9 493.0,266.4 494.1,266.0 495.0,265.7 M401.0,291.0 401.3,290.8 401.7,290.4 402.2,290.1 402.9,289.6 403.8,289.0 405.0,288.3 406.7,287.4 408.7,286.3 411.1,285.0 413.5,283.8 415.7,282.7 417.7,281.8 419.4,281.1 420.8,280.7 422.2,280.3 423.5,280.0 424.8,279.6 426.2,279.3 427.6,278.9 429.0,278.6 430.4,278.2 431.9,277.9 433.3,277.5 434.7,277.2 436.1,276.9 437.5,276.7 438.9,276.5 440.4,276.3 441.8,276.0 443.2,275.5 444.6,274.9 446.0,274.2 447.4,273.4 448.8,272.5 450.2,271.7 451.7,270.8 453.3,269.9 455.0,269.0 456.8,268.0 458.5,267.1 460.1,266.2 461.6,265.5 462.9,264.9 464.0,264.4 465.0,264.0 466.0,263.7 467.0,263.3 468.0,263.0 469.1,262.6 470.3,262.3 471.4,261.9 472.5,261.6 473.4,261.3 474.0,261.1 M405.0,268.5 405.5,268.0 406.2,267.3 407.0,266.4 407.8,265.5 408.6,264.7 409.2,264.0 409.7,263.4 410.0,262.8 410.4,262.3 410.6,261.8 410.8,261.4 411.0,261.1 M484.0,261.1 484.7,261.2 485.6,261.4 486.7,261.6 487.9,261.9 489.0,262.1 490.0,262.3 490.9,262.5 491.9,262.7 492.9,263.0 493.7,263.2 494.5,263.4 495.0,263.5 M392.0,305.0 392.6,304.3 393.5,303.4 394.6,302.3 395.7,301.1 396.9,300.0 398.0,299.0 399.0,298.1 400.0,297.2 401.1,296.3 402.2,295.5 403.5,294.9 405.0,294.5 406.8,294.3 409.0,294.4 411.3,294.5 413.6,294.8 415.8,295.1 417.7,295.4 419.4,295.7 420.8,296.0 422.2,296.4 423.5,296.8 424.8,297.2 426.2,297.5 427.6,297.7 429.0,297.9 430.4,298.1 431.9,298.3 433.3,298.5 434.7,298.9 436.1,299.4 437.5,300.0 438.9,300.7 440.4,301.4 441.8,302.1 443.2,302.8 444.6,303.5 446.0,304.3 447.4,305.1 448.8,305.9 450.2,306.6 451.7,307.2 453.3,307.7 454.9,308.2 456.7,308.6 458.4,308.9 460.0,309.1 461.6,309.3 463.1,309.4 464.5,309.4 465.9,309.3 467.3,309.1 468.7,308.9 470.1,308.6 471.5,308.2 472.9,307.6 474.4,307.0 475.8,306.4 477.2,305.8 478.6,305.3 480.0,304.9 481.5,304.5 482.9,304.1 484.3,303.8 485.7,303.5 487.1,303.2 488.5,303.0 490.1,302.8 491.6,302.7 493.0,302.6 494.1,302.6 495.0,302.5 M395.0,303.0 395.5,302.5 396.3,301.8 397.2,300.9 398.1,300.0 399.1,299.2 400.0,298.5 400.7,298.0 401.4,297.4 402.0,297.0 402.8,296.6 403.7,296.4 405.0,296.2 406.7,296.2 408.8,296.2 411.1,296.4 413.5,296.6 415.7,296.9 417.7,297.2 419.4,297.5 420.8,297.9 422.2,298.4 423.5,298.9 424.8,299.3 426.2,299.8 427.6,300.2 429.0,300.7 430.4,301.1 431.9,301.5 433.3,302.0 434.7,302.5 436.1,303.1 437.5,303.7 438.9,304.3 440.4,305.0 441.8,305.6 443.2,306.2 444.6,306.8 446.0,307.4 447.4,308.0 448.8,308.6 450.2,309.1 451.7,309.6 453.3,310.0 454.9,310.4 456.7,310.8 458.4,311.1 460.0,311.3 461.6,311.4 463.1,311.4 464.5,311.2 465.9,311.0 467.3,310.7 468.7,310.4 470.1,310.0 471.5,309.6 472.9,309.1 474.4,308.6 475.8,308.0 477.2,307.5 478.6,307.0 480.0,306.5 481.5,306.1 482.9,305.6 484.3,305.2 485.7,304.8 487.1,304.5 488.5,304.2 490.1,304.0 491.6,303.8 493.0,303.7 494.1,303.6 495.0,303.5 M378.5,369.0 378.8,368.0 379.1,366.6 379.6,365.0 380.0,363.3 380.5,361.6 381.0,360.0 381.4,358.6 381.9,357.1 382.3,355.7 382.8,354.3 383.4,352.9 384.0,351.5 384.7,350.0 385.5,348.5 386.3,347.0 387.2,345.5 388.1,344.2 389.0,343.0 389.9,342.0 390.8,341.3 391.7,340.6 392.7,340.0 393.8,339.5 395.0,339.0 396.4,338.5 397.9,338.0 399.5,337.5 401.2,337.1 403.0,337.0 405.0,337.1 407.1,337.5 409.4,338.2 411.8,339.0 414.3,340.0 416.8,341.1 419.2,342.1 421.6,343.2 423.9,344.4 426.2,345.7 428.6,346.9 430.9,348.1 433.3,349.1 435.7,349.9 438.0,350.6 440.4,351.2 442.8,351.7 445.1,352.2 447.5,352.7 449.9,353.1 452.2,353.5 454.5,353.9 456.9,354.2 459.2,354.5 461.6,354.8 463.9,355.1 466.1,355.4 468.4,355.7 470.7,355.9 473.1,356.1 475.8,356.2 478.9,356.2 482.5,356.1 486.3,355.9 489.8,355.8 492.9,355.6 495.0,355.5 M405.0,354.0 406.5,354.3 408.7,354.8 411.2,355.3 413.9,356.0 416.7,356.7 419.2,357.4 421.6,358.2 424.0,359.1 426.4,360.0 428.8,361.0 431.1,362.0 433.3,363.1 435.4,364.2 437.3,365.4 439.2,366.6 441.0,367.8 442.8,369.0 444.6,370.2 446.3,371.4 448.0,372.5 449.6,373.7 451.3,374.9 452.9,376.0 454.5,377.2 456.2,378.4 457.9,379.6 459.5,380.9 461.2,382.1 462.8,383.2 464.4,384.3 465.9,385.3 467.2,386.2 468.6,387.0 469.9,387.8 471.3,388.6 472.9,389.3 474.6,390.0 476.5,390.7 478.4,391.3 480.4,391.8 482.3,392.4 484.2,392.8 486.2,393.2 488.2,393.5 490.3,393.7 492.2,393.9 493.8,394.1 495.0,394.2 M410.0,356.5 411.3,356.9 413.1,357.5 415.2,358.1 417.6,358.9 419.9,359.7 422.0,360.5 424.0,361.3 426.0,362.2 428.1,363.2 430.1,364.2 432.1,365.2 434.0,366.2 435.9,367.3 437.8,368.4 439.6,369.5 441.4,370.7 443.2,371.8 445.0,373.0 446.7,374.2 448.4,375.3 450.1,376.5 451.7,377.7 453.3,378.9 455.0,380.0 456.7,381.1 458.4,382.3 460.1,383.4 461.7,384.6 463.4,385.6 465.0,386.6 466.5,387.5 468.0,388.4 469.4,389.2 470.9,389.9 472.4,390.6 474.0,391.3 475.7,392.0 477.6,392.6 479.4,393.2 481.3,393.7 483.2,394.2 485.0,394.6 486.8,394.9 488.8,395.1 490.7,395.3 492.4,395.4 493.9,395.5 495.0,395.6 M241.1,453.6 242.3,452.4 243.9,450.6 245.8,448.6 247.9,446.4 249.9,444.2 251.7,442.3 253.3,440.6 254.9,438.9 256.4,437.3 257.9,435.7 259.4,434.1 260.9,432.4 262.4,430.7 263.8,428.9 265.2,427.1 266.6,425.3 268.0,423.5 269.4,421.8 270.8,420.2 272.2,418.6 273.6,417.1 275.1,415.6 276.5,414.1 277.9,412.6 279.3,411.1 280.7,409.7 282.1,408.3 283.5,406.9 284.9,405.5 286.4,404.1 287.9,402.7 289.4,401.4 291.0,400.1 292.5,398.8 294.1,397.5 295.6,396.3 297.1,395.1 298.7,394.0 300.3,392.9 301.8,391.9 303.3,390.9 304.8,390.0 306.2,389.2 307.6,388.4 308.9,387.7 310.3,387.0 311.7,386.3 313.2,385.7 314.9,385.1 316.7,384.5 318.6,383.9 320.4,383.3 322.3,382.8 324.0,382.2 325.6,381.7 327.2,381.2 328.7,380.7 330.1,380.2 331.6,379.6 333.0,379.0 334.4,378.3 335.8,377.5 337.1,376.7 338.4,375.9 339.7,375.0 341.0,374.0 342.2,372.9 343.5,371.8 344.7,370.6 345.8,369.3 346.9,368.1 348.0,367.0 349.0,365.9 349.9,364.7 350.8,363.6 351.6,362.5 352.5,361.6 353.4,361.0 354.3,360.6 355.3,360.5 356.3,360.5 357.2,360.6 358.1,360.9 359.0,361.2 359.8,361.6 360.6,362.2 361.3,362.9 362.0,363.6 362.8,364.3 363.5,365.0 364.3,365.7 365.2,366.5 366.0,367.2 366.8,368.0 367.5,368.6 368.0,369.0 M243.3,453.6 244.4,452.4 245.8,450.8 247.6,448.9 249.5,446.9 251.3,444.8 253.0,443.0 254.5,441.3 256.1,439.7 257.6,438.1 259.1,436.5 260.5,434.9 262.0,433.2 263.4,431.5 264.9,429.7 266.3,428.0 267.7,426.2 269.1,424.5 270.5,422.8 271.9,421.2 273.3,419.6 274.8,418.1 276.2,416.6 277.6,415.1 279.0,413.6 280.4,412.2 281.8,410.7 283.2,409.3 284.6,408.0 286.1,406.6 287.5,405.3 289.0,404.0 290.5,402.7 292.0,401.5 293.5,400.3 295.0,399.1 296.5,398.0 297.9,396.9 299.3,395.9 300.7,394.9 302.1,393.9 303.4,393.0 304.8,392.1 306.2,391.3 307.5,390.5 308.8,389.8 310.2,389.1 311.7,388.4 313.2,387.8 314.9,387.2 316.7,386.7 318.6,386.3 320.4,385.8 322.3,385.4 324.0,385.0 325.6,384.6 327.1,384.3 328.6,384.0 330.1,383.7 331.5,383.4 333.0,383.0 334.5,382.6 336.0,382.1 337.6,381.6 339.1,381.1 340.6,380.6 342.0,380.0 343.4,379.4 344.9,378.7 346.2,378.0 347.6,377.3 348.9,376.6 350.0,376.0 351.0,375.4 351.9,374.7 352.7,374.1 353.4,373.5 354.2,372.9 355.0,372.5 355.8,372.2 356.7,371.9 357.5,371.7 358.3,371.6 359.2,371.5 360.0,371.5 360.9,371.6 361.9,371.9 362.8,372.2 363.7,372.5 364.5,372.8 365.0,373.0 M272.2,453.6 272.8,453.0 273.6,452.3 274.5,451.4 275.6,450.4 276.7,449.2 277.9,448.0 279.1,446.6 280.5,445.0 281.9,443.3 283.4,441.6 284.9,439.8 286.4,438.1 287.9,436.5 289.4,434.8 291.0,433.2 292.5,431.5 294.1,429.9 295.6,428.2 297.1,426.5 298.7,424.8 300.3,423.1 301.8,421.4 303.3,419.8 304.8,418.3 306.2,416.9 307.6,415.6 308.9,414.4 310.3,413.2 311.7,411.9 313.2,410.5 314.9,408.9 316.7,407.3 318.6,405.5 320.4,403.8 322.3,402.1 324.0,400.6 325.6,399.2 327.2,397.9 328.7,396.6 330.1,395.4 331.6,394.2 333.0,393.0 334.5,391.8 336.0,390.5 337.6,389.3 339.0,388.1 340.1,387.2 341.0,386.5 M275.0,453.6 275.5,453.2 276.2,452.6 277.0,451.9 277.9,451.0 278.9,450.1 280.0,449.0 281.2,447.8 282.5,446.4 284.0,444.8 285.5,443.2 287.0,441.6 288.5,440.0 290.0,438.4 291.6,436.7 293.2,435.0 294.8,433.3 296.4,431.6 298.0,430.0 299.5,428.4 301.0,426.9 302.5,425.4 304.0,424.0 305.5,422.5 307.0,421.0 308.5,419.5 310.0,418.0 311.6,416.5 313.1,415.0 314.6,413.5 316.0,412.0 317.4,410.5 318.7,408.9 320.0,407.4 321.3,405.9 322.6,404.4 324.0,403.0 325.5,401.7 327.0,400.5 328.5,399.3 330.0,398.1 331.5,397.1 333.0,396.0 334.5,394.9 336.0,393.9 337.6,392.8 339.0,391.9 340.1,391.1 341.0,390.5 M276.5,453.6 277.6,453.0 279.1,452.2 280.8,451.2 282.7,450.1 284.6,449.0 286.4,448.0 288.1,447.1 289.8,446.1 291.5,445.2 293.3,444.2 294.9,443.2 296.5,442.2 298.0,441.1 299.4,440.0 300.8,438.9 302.1,437.7 303.4,436.4 304.8,435.0 306.2,433.5 307.5,432.0 308.8,430.3 310.2,428.6 311.7,426.8 313.2,425.0 314.9,423.0 316.7,420.9 318.6,418.7 320.4,416.5 322.3,414.5 324.0,412.6 325.6,410.9 327.2,409.4 328.7,407.9 330.1,406.5 331.6,405.2 333.0,404.0 334.5,402.8 336.0,401.6 337.6,400.5 339.0,399.5 340.1,398.6 341.0,398.0 M290.0,453.6 291.1,452.9 292.6,451.8 294.4,450.6 296.3,449.4 298.2,448.1 300.0,447.0 301.7,446.0 303.3,445.1 305.0,444.2 306.7,443.3 308.3,442.4 310.0,441.5 311.7,440.6 313.3,439.7 315.0,438.8 316.7,437.9 318.3,437.0 320.0,436.0 321.7,434.9 323.3,433.8 325.0,432.6 326.7,431.4 328.3,430.2 330.0,429.0 331.7,427.8 333.4,426.5 335.2,425.2 336.9,424.0 338.5,422.9 340.0,422.0 341.4,421.3 342.6,420.8 343.8,420.4 344.9,420.1 345.9,419.8 347.0,419.5 348.1,419.2 349.1,419.0 350.2,418.9 351.2,418.7 352.1,418.6 353.0,418.5 353.8,418.4 354.7,418.3 355.4,418.3 356.1,418.3 356.7,418.2 357.1,418.2 M300.5,454.0 301.3,452.5 302.4,450.3 303.7,447.8 305.1,445.1 306.5,442.3 307.9,439.5 309.3,436.7 310.7,433.8 312.2,430.8 313.7,427.8 315.1,424.9 316.6,422.1 318.1,419.4 319.5,416.9 321.0,414.3 322.5,411.9 323.9,409.5 325.3,407.2 326.6,404.9 327.8,402.7 329.0,400.6 330.2,398.6 331.4,396.6 332.7,394.8 334.1,393.1 335.5,391.5 336.9,390.0 338.4,388.6 339.9,387.3 341.4,386.1 343.1,385.0 345.0,384.0 346.9,383.1 348.7,382.3 350.2,381.7 351.3,381.2 M304.9,454.0 305.6,452.4 306.7,450.3 307.9,447.8 309.2,445.0 310.6,442.2 312.0,439.5 313.3,436.8 314.7,434.0 316.1,431.1 317.5,428.2 319.0,425.4 320.4,422.7 321.8,420.2 323.2,417.7 324.6,415.3 326.0,413.0 327.4,410.7 328.8,408.5 330.1,406.3 331.3,404.1 332.6,402.0 333.9,400.0 335.1,398.1 336.5,396.3 337.9,394.7 339.3,393.1 340.7,391.7 342.2,390.3 343.7,389.1 345.2,388.0 346.8,386.9 348.7,386.0 350.5,385.2 352.3,384.4 353.7,383.8 354.8,383.4 M309.2,454.0 310.0,452.4 311.0,450.3 312.1,447.8 313.4,445.0 314.8,442.2 316.0,439.5 317.3,436.9 318.7,434.1 320.0,431.4 321.4,428.6 322.8,425.9 324.2,423.4 325.5,420.9 326.8,418.5 328.2,416.3 329.5,414.0 330.9,411.8 332.2,409.7 333.5,407.6 334.9,405.5 336.2,403.4 337.5,401.5 338.9,399.6 340.2,397.9 341.7,396.3 343.1,394.8 344.5,393.4 346.0,392.1 347.5,390.9 349.0,389.8 350.6,388.9 352.3,388.0 354.1,387.2 355.8,386.5 357.2,386.0 358.2,385.6 M313.6,454.0 314.3,452.4 315.3,450.3 316.4,447.7 317.6,444.9 318.9,442.1 320.1,439.5 321.4,436.9 322.6,434.3 323.9,431.6 325.3,429.0 326.6,426.4 327.9,424.0 329.2,421.6 330.5,419.4 331.8,417.2 333.0,415.1 334.3,413.0 335.6,411.0 337.0,408.9 338.4,406.9 339.8,404.9 341.2,402.9 342.6,401.1 344.0,399.4 345.5,397.9 346.9,396.5 348.3,395.1 349.8,393.9 351.3,392.8 352.7,391.7 354.3,390.8 356.0,390.0 357.8,389.2 359.4,388.6 360.7,388.1 361.7,387.7 M318.0,454.0 318.7,452.4 319.6,450.3 320.6,447.7 321.8,444.9 323.0,442.1 324.2,439.5 325.4,437.0 326.6,434.5 327.9,431.9 329.2,429.4 330.4,426.9 331.7,424.6 332.9,422.4 334.1,420.2 335.3,418.2 336.5,416.2 337.8,414.2 339.1,412.2 340.5,410.2 341.9,408.2 343.4,406.3 344.9,404.4 346.3,402.6 347.8,401.0 349.2,399.5 350.7,398.1 352.1,396.8 353.6,395.7 355.1,394.6 356.5,393.6 358.1,392.7 359.7,392.0 361.4,391.3 362.9,390.7 364.3,390.3 365.2,389.9 M330.6,387.0 331.5,386.7 332.7,386.2 334.1,385.6 335.6,385.0 337.2,384.5 338.6,384.0 340.0,383.6 341.3,383.3 342.7,382.9 344.1,382.6 345.4,382.3 346.6,382.0 347.7,381.7 348.8,381.3 349.8,381.0 350.8,380.7 351.7,380.4 352.6,380.2 353.4,380.0 354.2,379.8 355.0,379.7 355.7,379.6 356.4,379.6 357.1,379.7 357.8,379.9 358.5,380.2 359.1,380.6 359.8,381.0 360.4,381.5 361.1,382.0 361.8,382.5 362.5,383.1 363.2,383.8 363.8,384.4 364.6,385.0 365.3,385.5 366.1,385.9 366.9,386.3 367.7,386.7 368.5,387.0 369.3,387.2 370.1,387.5 370.9,387.7 371.6,387.9 372.4,388.1 373.1,388.3 373.9,388.4 374.6,388.4 375.3,388.4 376.1,388.3 376.8,388.1 377.6,387.9 378.3,387.7 379.1,387.5 379.9,387.2 380.7,387.0 381.5,386.7 382.3,386.3 383.1,385.9 383.9,385.5 384.6,385.0 385.4,384.4 386.1,383.8 386.7,383.1 387.4,382.5 388.1,382.0 388.8,381.5 389.4,381.0 390.1,380.6 390.7,380.2 391.4,379.9 392.1,379.7 392.8,379.6 393.5,379.6 394.2,379.7 395.0,379.8 395.8,380.0 396.6,380.2 397.6,380.4 398.7,380.8 399.9,381.1 401.0,381.5 401.9,381.8 402.6,382.0 M330.6,396.0 331.5,395.6 332.7,395.1 334.1,394.5 335.6,393.8 337.2,393.1 338.6,392.5 340.0,391.9 341.3,391.3 342.7,390.8 344.1,390.2 345.4,389.6 346.6,389.0 347.7,388.4 348.8,387.8 349.8,387.2 350.8,386.6 351.7,386.0 352.6,385.5 353.4,385.0 354.2,384.5 355.0,384.0 355.7,383.6 356.4,383.3 357.1,383.2 357.8,383.3 358.5,383.6 359.1,384.0 359.8,384.5 360.4,385.0 361.1,385.5 361.8,386.0 362.5,386.6 363.2,387.3 363.8,387.9 364.6,388.5 365.3,389.0 366.1,389.4 366.9,389.8 367.7,390.1 368.5,390.4 369.3,390.6 370.1,390.8 370.9,391.0 371.6,391.1 372.4,391.2 373.1,391.3 373.9,391.4 374.6,391.4 375.3,391.4 376.1,391.3 376.8,391.2 377.6,391.1 378.3,391.0 379.1,390.8 379.9,390.6 380.7,390.4 381.5,390.1 382.3,389.8 383.1,389.4 383.9,389.0 384.6,388.5 385.4,387.9 386.1,387.3 386.7,386.6 387.4,386.0 388.1,385.5 388.8,385.0 389.4,384.5 390.1,384.0 390.7,383.6 391.4,383.3 392.1,383.2 392.8,383.3 393.5,383.6 394.2,384.0 395.0,384.5 395.8,385.0 396.6,385.5 397.6,386.1 398.7,386.7 399.9,387.4 401.0,388.0 401.9,388.6 402.6,389.0 M330.6,400.0 331.5,399.6 332.7,398.9 334.1,398.2 335.6,397.4 337.2,396.7 338.6,396.0 340.0,395.4 341.4,394.7 342.9,394.1 344.2,393.5 345.5,392.9 346.6,392.5 347.5,392.2 348.2,392.0 348.8,391.8 349.3,391.8 349.9,391.7 350.6,391.6 351.4,391.5 352.3,391.4 353.2,391.3 354.1,391.3 355.0,391.3 355.9,391.4 356.7,391.5 357.5,391.7 358.3,392.0 359.1,392.3 359.8,392.6 360.6,393.0 361.4,393.4 362.2,393.9 362.9,394.5 363.7,395.0 364.5,395.5 365.3,396.0 366.1,396.4 366.9,396.8 367.7,397.2 368.5,397.6 369.3,397.9 370.1,398.2 370.9,398.4 371.6,398.6 372.4,398.7 373.1,398.8 373.9,398.9 374.6,398.9 375.3,398.9 376.1,398.8 376.8,398.7 377.6,398.6 378.3,398.4 379.1,398.2 379.9,397.9 380.7,397.6 381.5,397.2 382.3,396.8 383.1,396.4 383.9,396.0 384.7,395.5 385.5,395.0 386.3,394.5 387.0,393.9 387.8,393.4 388.6,393.0 389.4,392.6 390.1,392.3 390.9,392.0 391.7,391.7 392.5,391.5 393.3,391.4 394.2,391.3 395.1,391.3 396.0,391.3 396.9,391.4 397.8,391.5 398.6,391.6 399.4,391.7 400.2,391.9 400.9,392.1 401.6,392.2 402.2,392.4 402.6,392.5 M326.6,410.0 327.5,409.9 328.7,409.7 330.2,409.6 331.8,409.4 333.3,409.2 334.6,409.0 335.7,408.9 336.7,408.7 337.7,408.6 338.7,408.5 339.6,408.3 340.6,408.2 341.6,408.0 342.6,407.8 343.6,407.6 344.6,407.4 345.6,407.3 346.6,407.1 347.6,407.0 348.6,406.9 349.6,406.8 350.6,406.8 351.6,406.7 352.6,406.6 353.6,406.5 354.5,406.4 355.5,406.3 356.5,406.2 357.5,406.1 358.6,406.0 359.8,406.0 361.1,406.0 362.5,406.0 363.9,406.0 365.2,406.0 366.6,406.0 367.9,406.0 369.3,406.0 370.6,406.0 371.9,406.0 373.3,406.0 374.6,406.0 375.9,406.0 377.3,406.0 378.6,406.0 379.9,406.0 381.3,406.0 382.6,406.0 384.0,406.0 385.3,406.0 386.7,406.0 388.1,406.0 389.4,406.0 390.6,406.0 391.7,406.1 392.7,406.2 393.7,406.3 394.7,406.4 395.6,406.5 396.6,406.6 397.7,406.7 398.8,406.8 400.0,406.9 401.0,407.0 401.9,407.0 402.6,407.1 M332.6,403.0 333.5,402.8 334.7,402.4 336.2,402.0 337.7,401.6 339.2,401.3 340.6,401.0 341.8,400.8 343.1,400.7 344.3,400.6 345.5,400.6 346.6,400.6 347.6,400.7 348.6,400.9 349.4,401.1 350.3,401.4 351.0,401.7 351.8,402.1 352.6,402.5 353.4,402.9 354.2,403.4 355.0,403.8 355.7,404.3 356.4,404.9 357.1,405.4 357.7,406.0 358.2,406.6 358.7,407.2 359.2,407.8 359.6,408.4 360.1,409.0 360.6,409.6 361.0,410.3 361.5,411.0 361.9,411.7 362.4,412.1 362.9,412.4 363.4,412.4 364.0,412.2 364.5,411.8 365.1,411.4 365.6,410.9 366.1,410.5 366.6,410.1 367.0,409.6 367.5,409.0 367.9,408.5 368.4,408.1 368.8,407.7 369.3,407.4 369.7,407.3 370.2,407.1 370.6,407.1 371.1,407.0 371.6,406.9 372.1,406.8 372.6,406.7 373.1,406.6 373.6,406.6 374.1,406.5 374.6,406.5 375.1,406.5 375.6,406.6 376.1,406.6 376.6,406.7 377.1,406.8 377.6,406.9 378.1,407.0 378.6,407.1 379.0,407.1 379.5,407.3 379.9,407.4 380.4,407.7 380.8,408.1 381.3,408.5 381.7,409.0 382.2,409.6 382.6,410.1 383.1,410.5 383.6,410.9 384.1,411.4 384.7,411.8 385.2,412.2 385.8,412.4 386.3,412.4 386.8,412.1 387.3,411.7 387.7,411.0 388.2,410.3 388.6,409.6 389.1,409.0 389.6,408.4 390.0,407.8 390.5,407.2 391.0,406.6 391.5,406.0 392.1,405.4 392.8,404.9 393.5,404.3 394.2,403.8 395.0,403.4 395.8,402.9 396.6,402.5 397.5,402.1 398.4,401.8 399.4,401.4 400.3,401.1 401.1,400.9 401.6,400.7 M328.6,432.0 329.4,431.6 330.5,431.1 331.8,430.5 333.2,429.8 334.5,429.2 335.6,428.7 336.5,428.3 337.4,427.9 338.2,427.5 338.9,427.2 339.7,426.9 340.6,426.5 341.5,426.1 342.5,425.7 343.5,425.3 344.6,424.9 345.6,424.5 346.6,424.0 347.6,423.5 348.7,422.9 349.7,422.2 350.7,421.6 351.7,421.0 352.6,420.5 353.5,420.0 354.3,419.6 355.0,419.2 355.8,418.8 356.5,418.5 357.1,418.2 357.7,418.0 358.2,417.9 358.7,417.8 359.2,417.8 359.6,417.8 360.1,417.8 360.6,417.8 361.1,417.8 361.5,417.9 362.0,418.0 362.5,418.1 362.9,418.2 363.3,418.3 363.7,418.4 364.1,418.5 364.4,418.7 364.8,419.0 365.3,419.4 365.8,420.0 366.4,420.8 367.0,421.6 367.6,422.5 368.2,423.3 368.8,424.0 369.3,424.5 369.8,424.9 370.2,425.2 370.7,425.5 371.1,425.7 371.6,426.0 372.1,426.3 372.6,426.7 373.1,427.0 373.6,427.3 374.1,427.5 374.6,427.6 375.1,427.5 375.6,427.3 376.1,427.0 376.6,426.7 377.1,426.3 377.6,426.0 378.1,425.7 378.5,425.5 379.0,425.2 379.4,424.9 379.9,424.5 380.4,424.0 381.0,423.3 381.6,422.5 382.2,421.7 382.8,420.8 383.4,420.0 383.9,419.4 384.4,419.0 384.8,418.7 385.1,418.5 385.5,418.4 385.9,418.3 386.3,418.2 386.7,418.1 387.2,418.0 387.7,417.9 388.1,417.8 388.6,417.8 389.1,417.8 389.6,417.8 390.0,417.8 390.5,417.8 391.0,417.9 391.5,418.0 392.1,418.2 392.7,418.5 393.4,418.8 394.2,419.2 394.9,419.6 395.7,420.0 396.6,420.5 397.6,421.1 398.7,421.7 399.9,422.4 401.0,423.0 401.9,423.6 402.6,424.0 M318.6,451.5 319.5,450.9 320.7,450.1 322.1,449.1 323.6,448.0 325.2,447.0 326.6,446.0 327.9,445.1 329.3,444.3 330.6,443.4 332.0,442.6 333.3,441.8 334.6,441.0 335.9,440.2 337.1,439.5 338.4,438.8 339.6,438.1 340.8,437.5 341.9,436.9 343.0,436.4 344.0,435.9 344.9,435.4 345.8,435.0 346.7,434.6 347.6,434.2 348.4,433.8 349.2,433.5 350.0,433.2 350.7,432.8 351.5,432.5 352.4,432.2 353.4,431.9 354.4,431.5 355.5,431.2 356.5,430.8 357.6,430.5 358.6,430.2 359.6,429.9 360.5,429.6 361.4,429.4 362.3,429.1 363.2,428.9 364.1,428.7 365.0,428.5 365.8,428.4 366.6,428.2 367.4,428.1 368.2,428.0 369.1,427.9 370.0,427.8 370.9,427.7 371.8,427.7 372.7,427.6 373.7,427.6 374.6,427.6 375.5,427.6 376.5,427.6 377.4,427.7 378.3,427.7 379.2,427.8 380.1,427.9 381.0,428.0 381.8,428.1 382.6,428.2 383.4,428.4 384.2,428.5 385.1,428.7 386.0,428.9 386.9,429.1 387.8,429.4 388.7,429.6 389.6,429.9 390.6,430.2 391.6,430.5 392.7,430.8 393.7,431.2 394.8,431.5 395.8,431.9 396.8,432.2 397.7,432.6 398.7,432.9 399.6,433.3 400.4,433.7 401.1,434.0 401.6,434.2 M350.1,454.0 350.3,453.5 350.7,452.9 351.1,452.1 351.5,451.2 352.0,450.4 352.4,449.7 352.8,449.0 353.3,448.4 353.7,447.8 354.2,447.2 354.6,446.6 355.1,446.0 355.6,445.4 356.1,444.8 356.6,444.3 357.2,443.7 357.7,443.2 358.2,442.7 358.7,442.2 359.2,441.7 359.7,441.3 360.1,440.8 360.6,440.4 361.1,440.0 361.6,439.6 362.1,439.3 362.7,439.0 363.2,438.6 363.7,438.4 364.1,438.1 364.5,437.9 364.8,437.7 365.1,437.5 365.4,437.3 365.7,437.2 366.1,437.0 366.5,436.9 366.9,436.7 367.4,436.6 367.9,436.5 368.3,436.4 368.8,436.3 369.3,436.2 369.7,436.1 370.2,436.1 370.6,436.0 371.1,436.0 371.6,435.9 372.1,435.9 372.6,435.8 373.1,435.8 373.6,435.7 374.1,435.7 374.6,435.7 375.1,435.7 375.6,435.7 376.1,435.8 376.6,435.8 377.1,435.9 377.6,435.9 378.1,436.0 378.6,436.0 379.0,436.1 379.5,436.1 379.9,436.2 380.4,436.3 380.9,436.4 381.3,436.5 381.8,436.6 382.3,436.7 382.7,436.9 383.1,437.0 383.5,437.2 383.8,437.3 384.1,437.5 384.4,437.7 384.7,437.9 385.1,438.1 385.5,438.4 386.0,438.6 386.5,439.0 387.1,439.3 387.6,439.6 388.1,440.0 388.6,440.4 389.1,440.8 389.5,441.3 390.0,441.7 390.5,442.2 391.0,442.7 391.5,443.2 392.0,443.7 392.6,444.3 393.1,444.8 393.6,445.4 394.1,446.0 394.6,446.6 395.0,447.2 395.5,447.8 395.9,448.4 396.4,449.0 396.8,449.7 397.2,450.4 397.7,451.2 398.1,452.1 398.5,452.9 398.9,453.5 399.1,454.0 M357.6,454.0 357.8,453.7 358.1,453.2 358.4,452.6 358.7,452.0 359.1,451.4 359.4,450.9 359.7,450.5 360.1,450.0 360.5,449.6 360.8,449.3 361.2,448.9 361.6,448.5 362.0,448.1 362.4,447.7 362.9,447.3 363.3,446.9 363.7,446.5 364.1,446.2 364.5,445.9 364.8,445.7 365.1,445.5 365.4,445.4 365.7,445.2 366.1,445.0 366.5,444.8 366.9,444.6 367.4,444.4 367.9,444.2 368.3,444.1 368.8,443.9 369.3,443.7 369.7,443.6 370.2,443.4 370.6,443.2 371.1,443.1 371.6,443.0 372.1,442.9 372.6,442.8 373.1,442.8 373.6,442.7 374.1,442.7 374.6,442.7 375.1,442.7 375.6,442.7 376.1,442.8 376.6,442.8 377.1,442.9 377.6,443.0 378.1,443.1 378.6,443.2 379.0,443.4 379.5,443.6 379.9,443.7 380.4,443.9 380.9,444.1 381.3,444.2 381.8,444.4 382.3,444.6 382.7,444.8 383.1,445.0 383.5,445.2 383.8,445.4 384.1,445.5 384.4,445.7 384.7,445.9 385.1,446.2 385.5,446.5 385.9,446.9 386.3,447.3 386.8,447.7 387.2,448.1 387.6,448.5 388.0,448.9 388.4,449.3 388.7,449.7 389.1,450.0 389.5,450.5 389.8,450.9 390.1,451.4 390.5,452.0 390.8,452.6 391.1,453.2 391.4,453.7 391.6,454.0 M352.6,454.0 352.7,453.8 352.8,453.6 352.9,453.3 353.1,453.0 353.3,452.5 353.6,452.0 354.0,451.3 354.5,450.5 355.0,449.6 355.5,448.7 356.1,447.8 356.6,447.0 357.1,446.3 357.6,445.6 358.1,444.9 358.6,444.2 359.1,443.6 359.6,443.0 360.2,442.4 360.7,441.9 361.3,441.4 361.9,440.9 362.5,440.4 363.1,440.0 363.7,439.6 364.2,439.3 364.8,439.0 365.4,438.8 366.0,438.5 366.6,438.3 367.2,438.1 367.9,437.9 368.6,437.7 369.2,437.6 369.9,437.4 370.6,437.3 371.3,437.2 371.9,437.1 372.6,437.1 373.3,437.0 373.9,437.0 374.6,437.0 375.3,437.0 375.9,437.0 376.6,437.1 377.3,437.1 377.9,437.2 378.6,437.3 379.3,437.4 380.0,437.6 380.6,437.7 381.3,437.9 382.0,438.1 382.6,438.3 383.2,438.5 383.8,438.8 384.4,439.0 385.0,439.3 385.5,439.6 386.1,440.0 386.7,440.4 387.3,440.9 387.9,441.4 388.5,441.9 389.0,442.4 389.6,443.0 390.1,443.6 390.6,444.2 391.1,444.9 391.6,445.6 392.1,446.3 392.6,447.0 393.1,447.8 393.7,448.7 394.2,449.6 394.7,450.5 395.2,451.3 395.6,452.0 395.9,452.5 396.1,453.0 396.3,453.3 396.4,453.6 396.5,453.8 396.6,454.0 M381.0,377.5 382.0,377.6 383.4,377.7 385.0,377.8 386.7,377.9 388.5,378.0 390.0,378.2 391.4,378.4 392.8,378.6 394.1,378.8 395.4,379.0 396.7,379.2 398.0,379.5 399.2,379.8 400.2,380.0 401.3,380.2 402.4,380.5 403.6,381.0 405.0,381.5 406.7,382.2 408.5,383.0 410.5,383.9 412.5,384.9 414.4,386.0 416.3,387.1 418.0,388.3 419.7,389.7 421.3,391.1 423.0,392.6 424.6,394.1 426.2,395.6 427.9,397.2 429.6,398.8 431.2,400.6 432.9,402.3 434.5,403.9 436.1,405.5 437.6,407.0 439.0,408.5 440.4,409.9 441.8,411.3 443.2,412.7 444.6,414.0 446.0,415.3 447.4,416.5 448.9,417.6 450.3,418.8 451.7,419.9 453.1,421.1 454.5,422.3 455.9,423.5 457.4,424.7 458.8,425.8 460.2,427.0 461.6,428.2 463.0,429.4 464.4,430.6 465.9,431.8 467.3,433.0 468.7,434.1 470.1,435.2 471.5,436.3 472.9,437.3 474.4,438.3 475.8,439.3 477.2,440.1 478.6,440.9 480.0,441.6 481.5,442.1 482.9,442.6 484.3,443.0 485.7,443.3 487.1,443.7 488.5,444.0 490.1,444.3 491.6,444.6 493.0,444.8 494.1,445.0 495.0,445.1 M383.0,379.3 383.9,379.4 385.1,379.5 386.5,379.6 388.1,379.8 389.6,379.9 391.0,380.1 392.3,380.3 393.6,380.5 394.8,380.7 396.1,381.0 397.3,381.2 398.5,381.5 399.6,381.8 400.6,382.0 401.5,382.2 402.5,382.5 403.7,382.9 405.0,383.5 406.6,384.2 408.5,385.1 410.4,386.0 412.5,387.0 414.4,388.1 416.3,389.3 418.0,390.5 419.7,391.9 421.3,393.3 423.0,394.8 424.6,396.3 426.2,397.8 427.9,399.4 429.6,401.0 431.2,402.7 432.9,404.3 434.5,405.9 436.1,407.5 437.6,409.0 439.0,410.5 440.4,411.9 441.8,413.3 443.2,414.7 444.6,416.0 446.0,417.3 447.4,418.4 448.9,419.6 450.3,420.7 451.7,421.9 453.1,423.0 454.5,424.2 455.9,425.3 457.4,426.5 458.8,427.7 460.2,428.8 461.6,430.0 463.0,431.2 464.4,432.3 465.9,433.5 467.3,434.6 468.7,435.7 470.1,436.8 471.5,437.8 472.9,438.8 474.4,439.8 475.8,440.7 477.2,441.6 478.6,442.3 480.0,442.9 481.5,443.5 482.9,443.9 484.3,444.3 485.7,444.7 487.1,445.0 488.5,445.3 490.1,445.6 491.6,445.8 493.0,446.0 494.1,446.2 495.0,446.3 M380.0,376.0 381.1,376.3 382.7,376.7 384.5,377.2 386.4,377.7 388.3,378.3 390.0,379.0 391.5,379.7 392.9,380.5 394.2,381.4 395.5,382.3 396.7,383.2 398.0,384.0 399.2,384.7 400.4,385.2 401.5,385.7 402.6,386.3 403.8,387.2 405.0,388.5 406.4,390.3 407.8,392.6 409.3,395.1 410.8,397.7 412.2,400.3 413.5,402.7 414.6,404.9 415.6,407.1 416.4,409.2 417.3,411.3 418.2,413.4 419.2,415.4 420.3,417.3 421.4,419.2 422.5,421.0 423.7,422.8 424.9,424.8 426.2,426.8 427.6,429.0 429.1,431.4 430.6,433.8 432.1,436.2 433.5,438.6 434.7,440.9 435.7,443.2 436.6,445.7 437.4,448.1 438.0,450.4 438.6,452.2 439.0,453.6 M382.0,380.0 383.1,380.4 384.7,380.9 386.5,381.6 388.4,382.3 390.3,383.1 392.0,384.0 393.5,385.0 394.9,386.0 396.2,387.2 397.5,388.4 398.7,389.7 400.0,391.0 401.2,392.3 402.4,393.7 403.6,395.2 404.8,396.7 405.9,398.3 407.0,400.0 408.0,401.8 409.0,403.7 410.0,405.7 411.0,407.7 412.0,409.8 413.0,412.0 414.1,414.2 415.3,416.5 416.4,418.9 417.6,421.3 418.8,423.6 420.0,426.0 421.2,428.3 422.4,430.7 423.6,433.0 424.8,435.4 425.9,437.7 427.0,440.0 428.0,442.4 429.0,445.1 429.9,447.7 430.8,450.1 431.5,452.1 432.0,453.6 M384.0,384.0 385.0,384.6 386.4,385.5 388.1,386.5 389.8,387.6 391.5,388.8 393.0,390.0 394.3,391.2 395.5,392.4 396.7,393.7 397.8,395.0 398.9,396.5 400.0,398.0 401.1,399.6 402.1,401.4 403.1,403.2 404.1,405.1 405.1,407.0 406.0,409.0 406.9,411.0 407.7,413.1 408.6,415.2 409.4,417.4 410.2,419.7 411.0,422.0 411.8,424.4 412.7,426.8 413.6,429.3 414.4,431.8 415.2,434.4 416.0,437.0 416.8,439.9 417.6,443.0 418.3,446.2 419.0,449.2 419.6,451.8 420.0,453.6 M386.0,389.0 386.9,389.9 388.1,391.0 389.6,392.4 391.2,394.0 392.7,395.5 394.0,397.0 395.1,398.4 396.2,399.8 397.2,401.2 398.1,402.7 399.1,404.3 400.0,406.0 400.9,407.8 401.8,409.7 402.6,411.7 403.4,413.7 404.2,415.8 405.0,418.0 405.7,420.2 406.4,422.5 407.1,424.9 407.8,427.3 408.4,429.6 409.0,432.0 409.6,434.4 410.1,436.9 410.7,439.4 411.1,441.8 411.6,444.0 412.0,446.0 412.4,447.7 412.7,449.3 412.9,450.7 413.2,451.9 413.4,452.8 413.5,453.6 M390.0,405.0 390.7,406.1 391.6,407.6 392.7,409.3 393.9,411.2 395.0,413.2 396.0,415.0 396.9,416.8 397.8,418.6 398.6,420.4 399.4,422.2 400.2,424.1 401.0,426.0 401.7,427.9 402.4,429.8 403.1,431.7 403.8,433.7 404.4,435.8 405.0,438.0 405.6,440.6 406.2,443.5 406.8,446.6 407.3,449.4 407.7,451.9 408.0,453.6 M392.0,420.0 392.7,421.1 393.6,422.6 394.7,424.3 395.9,426.2 397.0,428.2 398.0,430.0 398.9,431.8 399.8,433.5 400.7,435.3 401.5,437.2 402.3,439.1 403.0,441.0 403.7,443.2 404.3,445.5 404.8,448.0 405.3,450.3 405.7,452.2 406.0,453.6" fill="none" stroke="#080808" stroke-width="1.08"/>
<path d="M333.6,318.7 334.4,318.9 335.4,319.2 336.7,319.5 338.0,319.9 339.3,320.3 340.6,320.8 341.8,321.3 343.1,321.8 344.3,322.4 345.5,323.0 346.7,323.7 347.7,324.4 348.6,325.1 349.4,325.9 350.1,326.6 350.7,327.5 351.4,328.3 352.0,329.3 352.6,330.3 353.2,331.5 353.8,332.6 354.4,333.8 354.9,335.1 355.5,336.4 356.1,337.8 356.7,339.2 357.3,340.6 357.9,342.1 358.5,343.5 359.0,344.9 359.5,346.2 359.9,347.4 360.3,348.6 360.7,349.7 361.1,350.9 361.5,352.0 361.9,353.1 362.3,354.2 362.7,355.3 363.1,356.4 363.5,357.5 364.0,358.5 364.5,359.5 365.1,360.5 365.7,361.6 366.3,362.5 366.9,363.5 367.5,364.5 368.0,365.5 368.5,366.6 368.9,367.6 369.4,368.6 369.8,369.5 370.4,370.2 371.0,370.8 371.6,371.3 372.3,371.6 373.0,371.9 373.8,372.2 374.6,372.3 375.5,372.4 376.4,372.4 377.4,372.4 378.4,372.2 379.3,372.0 380.3,371.6 381.3,371.1 382.3,370.5 383.3,369.8 384.3,369.1 385.2,368.2 385.9,367.3 386.4,366.4 386.8,365.4 387.1,364.3 387.4,363.1 387.6,361.9 388.0,360.5 388.5,358.9 389.0,357.2 389.5,355.3 390.0,353.4 390.5,351.6 391.0,350.0 391.3,348.5 391.6,347.0 391.7,345.6 392.0,344.3 392.4,343.1 393.0,342.1 393.9,341.3 394.9,340.7 396.1,340.2 397.4,339.8 398.7,339.5 400.1,339.2 401.5,338.9 403.0,338.7 404.6,338.5 406.1,338.4 407.7,338.4 409.2,338.5 410.7,338.8 412.1,339.2 413.5,339.7 414.9,340.3 416.3,340.8 417.7,341.4 419.1,341.9 420.5,342.5 421.9,343.1 423.4,343.7 424.8,344.3 426.2,344.9 427.6,345.6 429.0,346.2 430.4,346.9 431.9,347.6 433.3,348.3 434.7,349.1 436.1,349.9 437.5,350.7 438.9,351.5 440.4,352.4 441.8,353.2 443.2,354.1 444.6,355.0 446.0,356.0 447.4,357.1 448.8,358.0 450.2,358.9 451.7,359.5 453.3,359.9 454.9,360.2 456.7,360.3 458.4,360.3 460.0,360.3 461.6,360.2 463.1,360.1 464.5,360.0 465.9,359.7 467.3,359.5 468.7,359.2 470.1,358.8 471.5,358.4 473.0,357.9 474.4,357.4 475.9,356.8 477.3,356.3 478.6,355.7 479.9,355.1 481.3,354.4 482.7,353.7 483.9,353.0 484.9,352.4 485.7,352.0" fill="none" stroke="#c80808" stroke-width="2.6" stroke-dasharray="5.5 3"/>
<path d="M324.6,380.1 325.7,379.5 327.1,378.7 328.9,377.8 330.8,376.7 332.6,375.6 334.2,374.5 335.7,373.4 337.1,372.2 338.5,370.9 339.8,369.7 341.1,368.5 342.3,367.3 343.5,366.1 344.6,364.9 345.8,363.7 346.8,362.6 347.8,361.7 348.7,360.9 349.5,360.3 350.2,359.9 350.8,359.6 351.5,359.4 352.1,359.3 352.7,359.3 353.4,359.3 354.0,359.5 354.7,359.7 355.3,360.0 356.0,360.4 356.7,360.9 357.5,361.5 358.2,362.2 359.0,363.1 359.9,363.9 360.7,364.8 361.5,365.7 362.3,366.6 363.1,367.7 363.9,368.7 364.7,369.7 365.5,370.6 366.4,371.3 367.5,371.8 368.7,372.2 369.9,372.5 371.1,372.6 372.1,372.8 372.8,372.9" fill="none" stroke="#c80808" stroke-width="2.6" stroke-dasharray="5.5 3"/>
<path d="M380.3,371.6 380.9,371.1 381.7,370.5 382.7,369.8 383.8,369.0 384.9,368.1 385.9,367.3 386.9,366.4 387.8,365.5 388.8,364.6 389.8,363.6 390.7,362.6 391.6,361.7 392.4,360.8 393.2,359.8 393.9,358.9 394.6,358.0 395.3,357.2 396.0,356.5 396.6,355.9 397.2,355.5 397.7,355.1 398.3,354.7 399.1,354.4 400.0,354.0 401.2,353.6 402.6,353.1 404.1,352.7 405.6,352.3 407.2,352.0 408.7,351.8 410.1,351.7 411.6,351.7 413.0,351.7 414.4,351.8 415.9,352.0 417.3,352.2 418.7,352.5 420.2,352.8 421.7,353.2 423.1,353.7 424.6,354.2 426.0,354.8 427.5,355.4 429.0,356.2 430.5,356.9 432.0,357.7 433.4,358.5 434.6,359.2 435.7,359.8 436.7,360.4 437.6,360.9 438.4,361.5 439.2,362.0 440.0,362.6 440.8,363.2 441.4,363.7 442.1,364.3 442.8,364.9 443.6,365.6 444.6,366.5 445.8,367.6 447.1,368.8 448.6,370.1 450.1,371.4 451.6,372.8 453.1,374.0 454.5,375.1 455.9,376.3 457.4,377.3 458.8,378.4 460.2,379.5 461.6,380.5 463.0,381.5 464.4,382.6 465.9,383.6 467.3,384.6 468.7,385.5 470.1,386.4 471.6,387.2 473.2,388.1 474.9,388.8 476.4,389.5 477.7,390.1 478.6,390.5" fill="none" stroke="#c80808" stroke-width="2.6" stroke-dasharray="5.5 3"/>
<circle cx="347.70" cy="324.40" r="2.9" fill="none" stroke="#f040f0" stroke-width="0.9"/>
<circle cx="356.90" cy="337.10" r="2.9" fill="none" stroke="#f040f0" stroke-width="0.9"/>
<circle cx="356.20" cy="361.70" r="2.9" fill="none" stroke="#f040f0" stroke-width="0.9"/>
<circle cx="364.70" cy="361.00" r="2.9" fill="none" stroke="#f040f0" stroke-width="0.9"/>
<circle cx="381.70" cy="361.70" r="2.9" fill="none" stroke="#f040f0" stroke-width="0.9"/>
<circle cx="391.60" cy="361.70" r="2.9" fill="none" stroke="#f040f0" stroke-width="0.9"/>
<circle cx="366.10" cy="375.80" r="2.9" fill="none" stroke="#f040f0" stroke-width="0.9"/>
<circle cx="374.60" cy="377.20" r="2.9" fill="none" stroke="#f040f0" stroke-width="0.9"/>
<circle cx="383.10" cy="375.80" r="2.9" fill="none" stroke="#f040f0" stroke-width="0.9"/>
<circle cx="374.60" cy="440.90" r="2.9" fill="none" stroke="#f040f0" stroke-width="0.9"/>
<circle cx="366.10" cy="445.10" r="2.9" fill="none" stroke="#f040f0" stroke-width="0.9"/>
<circle cx="383.10" cy="445.10" r="2.9" fill="none" stroke="#f040f0" stroke-width="0.9"/>
<circle cx="391.60" cy="343.50" r="2.9" fill="none" stroke="#f040f0" stroke-width="0.9"/>
<circle cx="400.10" cy="340.70" r="2.9" fill="none" stroke="#f040f0" stroke-width="0.9"/>
<circle cx="378.00" cy="357.50" r="2.9" fill="none" stroke="#f040f0" stroke-width="0.9"/>
</g>
<line x1="234.50" y1="357.30" x2="495.50" y2="357.30" stroke="#111" stroke-width="1" />
<line x1="374.33" y1="261.10" x2="374.33" y2="453.50" stroke="#111" stroke-width="1" />
<line x1="234.50" y1="434.26" x2="236.70" y2="434.26" stroke="#111" stroke-width="1" />
<line x1="493.30" y1="434.26" x2="495.50" y2="434.26" stroke="#111" stroke-width="1" />
<line x1="234.50" y1="415.02" x2="236.70" y2="415.02" stroke="#111" stroke-width="1" />
<line x1="493.30" y1="415.02" x2="495.50" y2="415.02" stroke="#111" stroke-width="1" />
<line x1="234.50" y1="395.78" x2="236.70" y2="395.78" stroke="#111" stroke-width="1" />
<line x1="493.30" y1="395.78" x2="495.50" y2="395.78" stroke="#111" stroke-width="1" />
<line x1="234.50" y1="376.54" x2="236.70" y2="376.54" stroke="#111" stroke-width="1" />
<line x1="493.30" y1="376.54" x2="495.50" y2="376.54" stroke="#111" stroke-width="1" />
<line x1="234.50" y1="338.06" x2="236.70" y2="338.06" stroke="#111" stroke-width="1" />
<line x1="493.30" y1="338.06" x2="495.50" y2="338.06" stroke="#111" stroke-width="1" />
<line x1="234.50" y1="318.82" x2="236.70" y2="318.82" stroke="#111" stroke-width="1" />
<line x1="493.30" y1="318.82" x2="495.50" y2="318.82" stroke="#111" stroke-width="1" />
<line x1="234.50" y1="299.58" x2="236.70" y2="299.58" stroke="#111" stroke-width="1" />
<line x1="493.30" y1="299.58" x2="495.50" y2="299.58" stroke="#111" stroke-width="1" />
<line x1="234.50" y1="280.34" x2="236.70" y2="280.34" stroke="#111" stroke-width="1" />
<line x1="493.30" y1="280.34" x2="495.50" y2="280.34" stroke="#111" stroke-width="1" />
<rect x="234.5" y="261.1" width="261.00" height="192.40" fill="none" stroke="#111" stroke-width="1.3"/>
<path d="M221.60,264.90 L221.60,254.20 M221.80,254.30 L217.50,257.60" stroke="#000" stroke-width="1.5" fill="none" stroke-linecap="butt"/>
<text x="218.31" y="363.10" font-family='"Liberation Sans", sans-serif' font-size="16.0" textLength="8.38" lengthAdjust="spacingAndGlyphs" >0</text>
<path d="M223.00,455.20 L223.00,444.80 M223.20,444.90 L219.20,447.80" stroke="#000" stroke-width="1.5" fill="none" stroke-linecap="butt"/>
<line x1="213.10" y1="451.50" x2="217.60" y2="451.50" stroke="#000" stroke-width="1.25"/>
<g transform="translate(207.80,382.30) rotate(-90)"><text x="0" y="0" font-family='"Liberation Sans", sans-serif' font-size="14.6" textLength="72.80" lengthAdjust="spacingAndGlyphs">E –E<tspan font-size="9" dy="3.2">F</tspan><tspan dy="-3.2"> (eV)</tspan></text></g>
<text x="234.43" y="475.90" font-family='"Liberation Serif", serif' font-size="15.2" textLength="9.30" lengthAdjust="spacingAndGlyphs" >K</text>
<line x1="234.20" y1="463.40" x2="243.00" y2="463.40" stroke="#000" stroke-width="1.0" />
<text x="371.80" y="477.80" font-family='"Liberation Serif", serif' font-size="15.2" textLength="9.95" lengthAdjust="spacingAndGlyphs" >Γ</text>
<line x1="372.30" y1="465.40" x2="380.80" y2="465.40" stroke="#000" stroke-width="1.0" />
<text x="491.93" y="475.60" font-family='"Liberation Serif", serif' font-size="15.2" textLength="11.45" lengthAdjust="spacingAndGlyphs" >M</text>
<line x1="493.10" y1="463.30" x2="501.90" y2="463.30" stroke="#000" stroke-width="1.0" />
<text x="242.98" y="331.30" font-family='"Liberation Sans", sans-serif' font-size="10.2" textLength="13.35" lengthAdjust="spacingAndGlyphs" >AB</text>
<text x="411.44" y="333.60" font-family='"Liberation Sans", sans-serif' font-size="14.6" >S</text>
<path d="M425.11,337.50 L425.11,331.00 M425.31,331.10 L422.51,332.60" stroke="#000" stroke-width="1.1" fill="none" stroke-linecap="butt"/>
<text x="409.34" y="368.70" font-family='"Liberation Sans", sans-serif' font-size="14.6" >S</text>
<text x="419.52" y="372.60" font-family='"Liberation Sans", sans-serif' font-size="9.8" >2</text>
<text x="242.52" y="344.40" font-family='"Liberation Sans", sans-serif' font-size="10.2" textLength="35.34" lengthAdjust="spacingAndGlyphs" >Sb 2BL</text>
<path d="M605.2,38.5 665.0,73.0 665.0,142.0 605.2,176.5 545.4,142.0 545.4,73.0Z" fill="none" stroke="#333" stroke-width="0.9"/>
<line x1="630.70" y1="107.50" x2="629.10" y2="108.21" stroke="#ff1414" stroke-width="1.2" stroke-linecap="round"/>
<line x1="629.10" y1="108.21" x2="627.50" y2="108.92" stroke="#ff1414" stroke-width="1.2" stroke-linecap="round"/>
<line x1="627.50" y1="108.92" x2="625.90" y2="109.63" stroke="#ff1414" stroke-width="1.2" stroke-linecap="round"/>
<line x1="625.90" y1="109.63" x2="624.29" y2="110.34" stroke="#ff6a00" stroke-width="1.2" stroke-linecap="round"/>
<line x1="624.29" y1="110.34" x2="622.69" y2="111.06" stroke="#ffd000" stroke-width="1.2" stroke-linecap="round"/>
<line x1="622.69" y1="111.06" x2="621.09" y2="111.77" stroke="#30e020" stroke-width="1.2" stroke-linecap="round"/>
<line x1="621.09" y1="111.77" x2="619.49" y2="112.48" stroke="#20e060" stroke-width="1.2" stroke-linecap="round"/>
<line x1="619.49" y1="112.48" x2="617.89" y2="113.19" stroke="#10c8e8" stroke-width="1.2" stroke-linecap="round"/>
<line x1="617.89" y1="113.19" x2="616.29" y2="113.90" stroke="#2050ff" stroke-width="1.2" stroke-linecap="round"/>
<line x1="630.70" y1="107.50" x2="629.10" y2="106.79" stroke="#ff1414" stroke-width="1.2" stroke-linecap="round"/>
<line x1="629.10" y1="106.79" x2="627.50" y2="106.08" stroke="#ff1414" stroke-width="1.2" stroke-linecap="round"/>
<line x1="627.50" y1="106.08" x2="625.90" y2="105.37" stroke="#ff1414" stroke-width="1.2" stroke-linecap="round"/>
<line x1="625.90" y1="105.37" x2="624.29" y2="104.66" stroke="#ff6a00" stroke-width="1.2" stroke-linecap="round"/>
<line x1="624.29" y1="104.66" x2="622.69" y2="103.94" stroke="#ffd000" stroke-width="1.2" stroke-linecap="round"/>
<line x1="622.69" y1="103.94" x2="621.09" y2="103.23" stroke="#30e020" stroke-width="1.2" stroke-linecap="round"/>
<line x1="621.09" y1="103.23" x2="619.49" y2="102.52" stroke="#20e060" stroke-width="1.2" stroke-linecap="round"/>
<line x1="619.49" y1="102.52" x2="617.89" y2="101.81" stroke="#10c8e8" stroke-width="1.2" stroke-linecap="round"/>
<line x1="617.89" y1="101.81" x2="616.29" y2="101.10" stroke="#2050ff" stroke-width="1.2" stroke-linecap="round"/>
<line x1="617.95" y1="85.42" x2="617.77" y2="87.16" stroke="#ff1414" stroke-width="1.2" stroke-linecap="round"/>
<line x1="617.77" y1="87.16" x2="617.58" y2="88.90" stroke="#ff1414" stroke-width="1.2" stroke-linecap="round"/>
<line x1="617.58" y1="88.90" x2="617.40" y2="90.64" stroke="#ff1414" stroke-width="1.2" stroke-linecap="round"/>
<line x1="617.40" y1="90.64" x2="617.21" y2="92.39" stroke="#ff6a00" stroke-width="1.2" stroke-linecap="round"/>
<line x1="617.21" y1="92.39" x2="617.03" y2="94.13" stroke="#ffd000" stroke-width="1.2" stroke-linecap="round"/>
<line x1="617.03" y1="94.13" x2="616.84" y2="95.87" stroke="#30e020" stroke-width="1.2" stroke-linecap="round"/>
<line x1="616.84" y1="95.87" x2="616.66" y2="97.61" stroke="#20e060" stroke-width="1.2" stroke-linecap="round"/>
<line x1="616.66" y1="97.61" x2="616.47" y2="99.36" stroke="#10c8e8" stroke-width="1.2" stroke-linecap="round"/>
<line x1="616.47" y1="99.36" x2="616.29" y2="101.10" stroke="#2050ff" stroke-width="1.2" stroke-linecap="round"/>
<line x1="617.95" y1="85.42" x2="616.53" y2="86.45" stroke="#ff1414" stroke-width="1.2" stroke-linecap="round"/>
<line x1="616.53" y1="86.45" x2="615.12" y2="87.48" stroke="#ff1414" stroke-width="1.2" stroke-linecap="round"/>
<line x1="615.12" y1="87.48" x2="613.70" y2="88.51" stroke="#ff1414" stroke-width="1.2" stroke-linecap="round"/>
<line x1="613.70" y1="88.51" x2="612.28" y2="89.54" stroke="#ff6a00" stroke-width="1.2" stroke-linecap="round"/>
<line x1="612.28" y1="89.54" x2="610.87" y2="90.57" stroke="#ffd000" stroke-width="1.2" stroke-linecap="round"/>
<line x1="610.87" y1="90.57" x2="609.45" y2="91.61" stroke="#30e020" stroke-width="1.2" stroke-linecap="round"/>
<line x1="609.45" y1="91.61" x2="608.03" y2="92.64" stroke="#20e060" stroke-width="1.2" stroke-linecap="round"/>
<line x1="608.03" y1="92.64" x2="606.62" y2="93.67" stroke="#10c8e8" stroke-width="1.2" stroke-linecap="round"/>
<line x1="606.62" y1="93.67" x2="605.20" y2="94.70" stroke="#2050ff" stroke-width="1.2" stroke-linecap="round"/>
<line x1="592.45" y1="85.42" x2="593.87" y2="86.45" stroke="#ff1414" stroke-width="1.2" stroke-linecap="round"/>
<line x1="593.87" y1="86.45" x2="595.28" y2="87.48" stroke="#ff1414" stroke-width="1.2" stroke-linecap="round"/>
<line x1="595.28" y1="87.48" x2="596.70" y2="88.51" stroke="#ff1414" stroke-width="1.2" stroke-linecap="round"/>
<line x1="596.70" y1="88.51" x2="598.12" y2="89.54" stroke="#ff6a00" stroke-width="1.2" stroke-linecap="round"/>
<line x1="598.12" y1="89.54" x2="599.53" y2="90.57" stroke="#ffd000" stroke-width="1.2" stroke-linecap="round"/>
<line x1="599.53" y1="90.57" x2="600.95" y2="91.61" stroke="#30e020" stroke-width="1.2" stroke-linecap="round"/>
<line x1="600.95" y1="91.61" x2="602.37" y2="92.64" stroke="#20e060" stroke-width="1.2" stroke-linecap="round"/>
<line x1="602.37" y1="92.64" x2="603.78" y2="93.67" stroke="#10c8e8" stroke-width="1.2" stroke-linecap="round"/>
<line x1="603.78" y1="93.67" x2="605.20" y2="94.70" stroke="#2050ff" stroke-width="1.2" stroke-linecap="round"/>
<line x1="592.45" y1="85.42" x2="592.63" y2="87.16" stroke="#ff1414" stroke-width="1.2" stroke-linecap="round"/>
<line x1="592.63" y1="87.16" x2="592.82" y2="88.90" stroke="#ff1414" stroke-width="1.2" stroke-linecap="round"/>
<line x1="592.82" y1="88.90" x2="593.00" y2="90.64" stroke="#ff1414" stroke-width="1.2" stroke-linecap="round"/>
<line x1="593.00" y1="90.64" x2="593.19" y2="92.39" stroke="#ff6a00" stroke-width="1.2" stroke-linecap="round"/>
<line x1="593.19" y1="92.39" x2="593.37" y2="94.13" stroke="#ffd000" stroke-width="1.2" stroke-linecap="round"/>
<line x1="593.37" y1="94.13" x2="593.56" y2="95.87" stroke="#30e020" stroke-width="1.2" stroke-linecap="round"/>
<line x1="593.56" y1="95.87" x2="593.74" y2="97.61" stroke="#20e060" stroke-width="1.2" stroke-linecap="round"/>
<line x1="593.74" y1="97.61" x2="593.93" y2="99.36" stroke="#10c8e8" stroke-width="1.2" stroke-linecap="round"/>
<line x1="593.93" y1="99.36" x2="594.11" y2="101.10" stroke="#2050ff" stroke-width="1.2" stroke-linecap="round"/>
<line x1="579.70" y1="107.50" x2="581.30" y2="106.79" stroke="#ff1414" stroke-width="1.2" stroke-linecap="round"/>
<line x1="581.30" y1="106.79" x2="582.90" y2="106.08" stroke="#ff1414" stroke-width="1.2" stroke-linecap="round"/>
<line x1="582.90" y1="106.08" x2="584.50" y2="105.37" stroke="#ff1414" stroke-width="1.2" stroke-linecap="round"/>
<line x1="584.50" y1="105.37" x2="586.11" y2="104.66" stroke="#ff6a00" stroke-width="1.2" stroke-linecap="round"/>
<line x1="586.11" y1="104.66" x2="587.71" y2="103.94" stroke="#ffd000" stroke-width="1.2" stroke-linecap="round"/>
<line x1="587.71" y1="103.94" x2="589.31" y2="103.23" stroke="#30e020" stroke-width="1.2" stroke-linecap="round"/>
<line x1="589.31" y1="103.23" x2="590.91" y2="102.52" stroke="#20e060" stroke-width="1.2" stroke-linecap="round"/>
<line x1="590.91" y1="102.52" x2="592.51" y2="101.81" stroke="#10c8e8" stroke-width="1.2" stroke-linecap="round"/>
<line x1="592.51" y1="101.81" x2="594.11" y2="101.10" stroke="#2050ff" stroke-width="1.2" stroke-linecap="round"/>
<line x1="579.70" y1="107.50" x2="581.30" y2="108.21" stroke="#ff1414" stroke-width="1.2" stroke-linecap="round"/>
<line x1="581.30" y1="108.21" x2="582.90" y2="108.92" stroke="#ff1414" stroke-width="1.2" stroke-linecap="round"/>
<line x1="582.90" y1="108.92" x2="584.50" y2="109.63" stroke="#ff1414" stroke-width="1.2" stroke-linecap="round"/>
<line x1="584.50" y1="109.63" x2="586.11" y2="110.34" stroke="#ff6a00" stroke-width="1.2" stroke-linecap="round"/>
<line x1="586.11" y1="110.34" x2="587.71" y2="111.06" stroke="#ffd000" stroke-width="1.2" stroke-linecap="round"/>
<line x1="587.71" y1="111.06" x2="589.31" y2="111.77" stroke="#30e020" stroke-width="1.2" stroke-linecap="round"/>
<line x1="589.31" y1="111.77" x2="590.91" y2="112.48" stroke="#20e060" stroke-width="1.2" stroke-linecap="round"/>
<line x1="590.91" y1="112.48" x2="592.51" y2="113.19" stroke="#10c8e8" stroke-width="1.2" stroke-linecap="round"/>
<line x1="592.51" y1="113.19" x2="594.11" y2="113.90" stroke="#2050ff" stroke-width="1.2" stroke-linecap="round"/>
<line x1="592.45" y1="129.58" x2="592.63" y2="127.84" stroke="#ff1414" stroke-width="1.2" stroke-linecap="round"/>
<line x1="592.63" y1="127.84" x2="592.82" y2="126.10" stroke="#ff1414" stroke-width="1.2" stroke-linecap="round"/>
<line x1="592.82" y1="126.10" x2="593.00" y2="124.36" stroke="#ff1414" stroke-width="1.2" stroke-linecap="round"/>
<line x1="593.00" y1="124.36" x2="593.19" y2="122.61" stroke="#ff6a00" stroke-width="1.2" stroke-linecap="round"/>
<line x1="593.19" y1="122.61" x2="593.37" y2="120.87" stroke="#ffd000" stroke-width="1.2" stroke-linecap="round"/>
<line x1="593.37" y1="120.87" x2="593.56" y2="119.13" stroke="#30e020" stroke-width="1.2" stroke-linecap="round"/>
<line x1="593.56" y1="119.13" x2="593.74" y2="117.39" stroke="#20e060" stroke-width="1.2" stroke-linecap="round"/>
<line x1="593.74" y1="117.39" x2="593.93" y2="115.64" stroke="#10c8e8" stroke-width="1.2" stroke-linecap="round"/>
<line x1="593.93" y1="115.64" x2="594.11" y2="113.90" stroke="#2050ff" stroke-width="1.2" stroke-linecap="round"/>
<line x1="592.45" y1="129.58" x2="593.87" y2="128.55" stroke="#ff1414" stroke-width="1.2" stroke-linecap="round"/>
<line x1="593.87" y1="128.55" x2="595.28" y2="127.52" stroke="#ff1414" stroke-width="1.2" stroke-linecap="round"/>
<line x1="595.28" y1="127.52" x2="596.70" y2="126.49" stroke="#ff1414" stroke-width="1.2" stroke-linecap="round"/>
<line x1="596.70" y1="126.49" x2="598.12" y2="125.46" stroke="#ff6a00" stroke-width="1.2" stroke-linecap="round"/>
<line x1="598.12" y1="125.46" x2="599.53" y2="124.43" stroke="#ffd000" stroke-width="1.2" stroke-linecap="round"/>
<line x1="599.53" y1="124.43" x2="600.95" y2="123.39" stroke="#30e020" stroke-width="1.2" stroke-linecap="round"/>
<line x1="600.95" y1="123.39" x2="602.37" y2="122.36" stroke="#20e060" stroke-width="1.2" stroke-linecap="round"/>
<line x1="602.37" y1="122.36" x2="603.78" y2="121.33" stroke="#10c8e8" stroke-width="1.2" stroke-linecap="round"/>
<line x1="603.78" y1="121.33" x2="605.20" y2="120.30" stroke="#2050ff" stroke-width="1.2" stroke-linecap="round"/>
<line x1="617.95" y1="129.58" x2="616.53" y2="128.55" stroke="#ff1414" stroke-width="1.2" stroke-linecap="round"/>
<line x1="616.53" y1="128.55" x2="615.12" y2="127.52" stroke="#ff1414" stroke-width="1.2" stroke-linecap="round"/>
<line x1="615.12" y1="127.52" x2="613.70" y2="126.49" stroke="#ff1414" stroke-width="1.2" stroke-linecap="round"/>
<line x1="613.70" y1="126.49" x2="612.28" y2="125.46" stroke="#ff6a00" stroke-width="1.2" stroke-linecap="round"/>
<line x1="612.28" y1="125.46" x2="610.87" y2="124.43" stroke="#ffd000" stroke-width="1.2" stroke-linecap="round"/>
<line x1="610.87" y1="124.43" x2="609.45" y2="123.39" stroke="#30e020" stroke-width="1.2" stroke-linecap="round"/>
<line x1="609.45" y1="123.39" x2="608.03" y2="122.36" stroke="#20e060" stroke-width="1.2" stroke-linecap="round"/>
<line x1="608.03" y1="122.36" x2="606.62" y2="121.33" stroke="#10c8e8" stroke-width="1.2" stroke-linecap="round"/>
<line x1="606.62" y1="121.33" x2="605.20" y2="120.30" stroke="#2050ff" stroke-width="1.2" stroke-linecap="round"/>
<line x1="617.95" y1="129.58" x2="617.77" y2="127.84" stroke="#ff1414" stroke-width="1.2" stroke-linecap="round"/>
<line x1="617.77" y1="127.84" x2="617.58" y2="126.10" stroke="#ff1414" stroke-width="1.2" stroke-linecap="round"/>
<line x1="617.58" y1="126.10" x2="617.40" y2="124.36" stroke="#ff1414" stroke-width="1.2" stroke-linecap="round"/>
<line x1="617.40" y1="124.36" x2="617.21" y2="122.61" stroke="#ff6a00" stroke-width="1.2" stroke-linecap="round"/>
<line x1="617.21" y1="122.61" x2="617.03" y2="120.87" stroke="#ffd000" stroke-width="1.2" stroke-linecap="round"/>
<line x1="617.03" y1="120.87" x2="616.84" y2="119.13" stroke="#30e020" stroke-width="1.2" stroke-linecap="round"/>
<line x1="616.84" y1="119.13" x2="616.66" y2="117.39" stroke="#20e060" stroke-width="1.2" stroke-linecap="round"/>
<line x1="616.66" y1="117.39" x2="616.47" y2="115.64" stroke="#10c8e8" stroke-width="1.2" stroke-linecap="round"/>
<line x1="616.47" y1="115.64" x2="616.29" y2="113.90" stroke="#2050ff" stroke-width="1.2" stroke-linecap="round"/>
<line x1="629.70" y1="107.50" x2="627.45" y2="107.97" stroke="#ff1414" stroke-width="0.95" stroke-linecap="round"/>
<line x1="627.45" y1="107.97" x2="625.20" y2="108.44" stroke="#ff5a00" stroke-width="0.95" stroke-linecap="round"/>
<line x1="625.20" y1="108.44" x2="622.95" y2="108.91" stroke="#ffb000" stroke-width="0.95" stroke-linecap="round"/>
<line x1="622.95" y1="108.91" x2="620.70" y2="109.38" stroke="#e8e800" stroke-width="0.95" stroke-linecap="round"/>
<line x1="620.70" y1="109.38" x2="618.45" y2="109.84" stroke="#40e020" stroke-width="0.95" stroke-linecap="round"/>
<line x1="618.45" y1="109.84" x2="616.20" y2="110.31" stroke="#20e020" stroke-width="0.95" stroke-linecap="round"/>
<line x1="616.20" y1="110.31" x2="613.95" y2="110.78" stroke="#20e040" stroke-width="0.95" stroke-linecap="round"/>
<line x1="613.95" y1="110.78" x2="611.70" y2="111.25" stroke="#20d8a0" stroke-width="0.95" stroke-linecap="round"/>
<line x1="629.70" y1="107.50" x2="627.45" y2="107.03" stroke="#ff1414" stroke-width="0.95" stroke-linecap="round"/>
<line x1="627.45" y1="107.03" x2="625.20" y2="106.56" stroke="#ff5a00" stroke-width="0.95" stroke-linecap="round"/>
<line x1="625.20" y1="106.56" x2="622.95" y2="106.09" stroke="#ffb000" stroke-width="0.95" stroke-linecap="round"/>
<line x1="622.95" y1="106.09" x2="620.70" y2="105.62" stroke="#e8e800" stroke-width="0.95" stroke-linecap="round"/>
<line x1="620.70" y1="105.62" x2="618.45" y2="105.16" stroke="#40e020" stroke-width="0.95" stroke-linecap="round"/>
<line x1="618.45" y1="105.16" x2="616.20" y2="104.69" stroke="#20e020" stroke-width="0.95" stroke-linecap="round"/>
<line x1="616.20" y1="104.69" x2="613.95" y2="104.22" stroke="#20e040" stroke-width="0.95" stroke-linecap="round"/>
<line x1="613.95" y1="104.22" x2="611.70" y2="103.75" stroke="#20d8a0" stroke-width="0.95" stroke-linecap="round"/>
<line x1="617.45" y1="86.28" x2="616.73" y2="88.47" stroke="#ff1414" stroke-width="0.95" stroke-linecap="round"/>
<line x1="616.73" y1="88.47" x2="616.01" y2="90.65" stroke="#ff5a00" stroke-width="0.95" stroke-linecap="round"/>
<line x1="616.01" y1="90.65" x2="615.29" y2="92.83" stroke="#ffb000" stroke-width="0.95" stroke-linecap="round"/>
<line x1="615.29" y1="92.83" x2="614.57" y2="95.02" stroke="#e8e800" stroke-width="0.95" stroke-linecap="round"/>
<line x1="614.57" y1="95.02" x2="613.85" y2="97.20" stroke="#40e020" stroke-width="0.95" stroke-linecap="round"/>
<line x1="613.85" y1="97.20" x2="613.13" y2="99.38" stroke="#20e020" stroke-width="0.95" stroke-linecap="round"/>
<line x1="613.13" y1="99.38" x2="612.41" y2="101.57" stroke="#20e040" stroke-width="0.95" stroke-linecap="round"/>
<line x1="612.41" y1="101.57" x2="611.70" y2="103.75" stroke="#20d8a0" stroke-width="0.95" stroke-linecap="round"/>
<line x1="617.45" y1="86.28" x2="615.92" y2="88.00" stroke="#ff1414" stroke-width="0.95" stroke-linecap="round"/>
<line x1="615.92" y1="88.00" x2="614.39" y2="89.71" stroke="#ff5a00" stroke-width="0.95" stroke-linecap="round"/>
<line x1="614.39" y1="89.71" x2="612.86" y2="91.43" stroke="#ffb000" stroke-width="0.95" stroke-linecap="round"/>
<line x1="612.86" y1="91.43" x2="611.33" y2="93.14" stroke="#e8e800" stroke-width="0.95" stroke-linecap="round"/>
<line x1="611.33" y1="93.14" x2="609.79" y2="94.86" stroke="#40e020" stroke-width="0.95" stroke-linecap="round"/>
<line x1="609.79" y1="94.86" x2="608.26" y2="96.57" stroke="#20e020" stroke-width="0.95" stroke-linecap="round"/>
<line x1="608.26" y1="96.57" x2="606.73" y2="98.29" stroke="#20e040" stroke-width="0.95" stroke-linecap="round"/>
<line x1="606.73" y1="98.29" x2="605.20" y2="100.00" stroke="#20d8a0" stroke-width="0.95" stroke-linecap="round"/>
<line x1="592.95" y1="86.28" x2="594.48" y2="88.00" stroke="#ff1414" stroke-width="0.95" stroke-linecap="round"/>
<line x1="594.48" y1="88.00" x2="596.01" y2="89.71" stroke="#ff5a00" stroke-width="0.95" stroke-linecap="round"/>
<line x1="596.01" y1="89.71" x2="597.54" y2="91.43" stroke="#ffb000" stroke-width="0.95" stroke-linecap="round"/>
<line x1="597.54" y1="91.43" x2="599.08" y2="93.14" stroke="#e8e800" stroke-width="0.95" stroke-linecap="round"/>
<line x1="599.08" y1="93.14" x2="600.61" y2="94.86" stroke="#40e020" stroke-width="0.95" stroke-linecap="round"/>
<line x1="600.61" y1="94.86" x2="602.14" y2="96.57" stroke="#20e020" stroke-width="0.95" stroke-linecap="round"/>
<line x1="602.14" y1="96.57" x2="603.67" y2="98.29" stroke="#20e040" stroke-width="0.95" stroke-linecap="round"/>
<line x1="603.67" y1="98.29" x2="605.20" y2="100.00" stroke="#20d8a0" stroke-width="0.95" stroke-linecap="round"/>
<line x1="592.95" y1="86.28" x2="593.67" y2="88.47" stroke="#ff1414" stroke-width="0.95" stroke-linecap="round"/>
<line x1="593.67" y1="88.47" x2="594.39" y2="90.65" stroke="#ff5a00" stroke-width="0.95" stroke-linecap="round"/>
<line x1="594.39" y1="90.65" x2="595.11" y2="92.83" stroke="#ffb000" stroke-width="0.95" stroke-linecap="round"/>
<line x1="595.11" y1="92.83" x2="595.83" y2="95.02" stroke="#e8e800" stroke-width="0.95" stroke-linecap="round"/>
<line x1="595.83" y1="95.02" x2="596.55" y2="97.20" stroke="#40e020" stroke-width="0.95" stroke-linecap="round"/>
<line x1="596.55" y1="97.20" x2="597.27" y2="99.38" stroke="#20e020" stroke-width="0.95" stroke-linecap="round"/>
<line x1="597.27" y1="99.38" x2="597.99" y2="101.57" stroke="#20e040" stroke-width="0.95" stroke-linecap="round"/>
<line x1="597.99" y1="101.57" x2="598.70" y2="103.75" stroke="#20d8a0" stroke-width="0.95" stroke-linecap="round"/>
<line x1="580.70" y1="107.50" x2="582.95" y2="107.03" stroke="#ff1414" stroke-width="0.95" stroke-linecap="round"/>
<line x1="582.95" y1="107.03" x2="585.20" y2="106.56" stroke="#ff5a00" stroke-width="0.95" stroke-linecap="round"/>
<line x1="585.20" y1="106.56" x2="587.45" y2="106.09" stroke="#ffb000" stroke-width="0.95" stroke-linecap="round"/>
<line x1="587.45" y1="106.09" x2="589.70" y2="105.62" stroke="#e8e800" stroke-width="0.95" stroke-linecap="round"/>
<line x1="589.70" y1="105.62" x2="591.95" y2="105.16" stroke="#40e020" stroke-width="0.95" stroke-linecap="round"/>
<line x1="591.95" y1="105.16" x2="594.20" y2="104.69" stroke="#20e020" stroke-width="0.95" stroke-linecap="round"/>
<line x1="594.20" y1="104.69" x2="596.45" y2="104.22" stroke="#20e040" stroke-width="0.95" stroke-linecap="round"/>
<line x1="596.45" y1="104.22" x2="598.70" y2="103.75" stroke="#20d8a0" stroke-width="0.95" stroke-linecap="round"/>
<line x1="580.70" y1="107.50" x2="582.95" y2="107.97" stroke="#ff1414" stroke-width="0.95" stroke-linecap="round"/>
<line x1="582.95" y1="107.97" x2="585.20" y2="108.44" stroke="#ff5a00" stroke-width="0.95" stroke-linecap="round"/>
<line x1="585.20" y1="108.44" x2="587.45" y2="108.91" stroke="#ffb000" stroke-width="0.95" stroke-linecap="round"/>
<line x1="587.45" y1="108.91" x2="589.70" y2="109.38" stroke="#e8e800" stroke-width="0.95" stroke-linecap="round"/>
<line x1="589.70" y1="109.38" x2="591.95" y2="109.84" stroke="#40e020" stroke-width="0.95" stroke-linecap="round"/>
<line x1="591.95" y1="109.84" x2="594.20" y2="110.31" stroke="#20e020" stroke-width="0.95" stroke-linecap="round"/>
<line x1="594.20" y1="110.31" x2="596.45" y2="110.78" stroke="#20e040" stroke-width="0.95" stroke-linecap="round"/>
<line x1="596.45" y1="110.78" x2="598.70" y2="111.25" stroke="#20d8a0" stroke-width="0.95" stroke-linecap="round"/>
<line x1="592.95" y1="128.72" x2="593.67" y2="126.53" stroke="#ff1414" stroke-width="0.95" stroke-linecap="round"/>
<line x1="593.67" y1="126.53" x2="594.39" y2="124.35" stroke="#ff5a00" stroke-width="0.95" stroke-linecap="round"/>
<line x1="594.39" y1="124.35" x2="595.11" y2="122.17" stroke="#ffb000" stroke-width="0.95" stroke-linecap="round"/>
<line x1="595.11" y1="122.17" x2="595.83" y2="119.98" stroke="#e8e800" stroke-width="0.95" stroke-linecap="round"/>
<line x1="595.83" y1="119.98" x2="596.55" y2="117.80" stroke="#40e020" stroke-width="0.95" stroke-linecap="round"/>
<line x1="596.55" y1="117.80" x2="597.27" y2="115.62" stroke="#20e020" stroke-width="0.95" stroke-linecap="round"/>
<line x1="597.27" y1="115.62" x2="597.99" y2="113.43" stroke="#20e040" stroke-width="0.95" stroke-linecap="round"/>
<line x1="597.99" y1="113.43" x2="598.70" y2="111.25" stroke="#20d8a0" stroke-width="0.95" stroke-linecap="round"/>
<line x1="592.95" y1="128.72" x2="594.48" y2="127.00" stroke="#ff1414" stroke-width="0.95" stroke-linecap="round"/>
<line x1="594.48" y1="127.00" x2="596.01" y2="125.29" stroke="#ff5a00" stroke-width="0.95" stroke-linecap="round"/>
<line x1="596.01" y1="125.29" x2="597.54" y2="123.57" stroke="#ffb000" stroke-width="0.95" stroke-linecap="round"/>
<line x1="597.54" y1="123.57" x2="599.08" y2="121.86" stroke="#e8e800" stroke-width="0.95" stroke-linecap="round"/>
<line x1="599.08" y1="121.86" x2="600.61" y2="120.14" stroke="#40e020" stroke-width="0.95" stroke-linecap="round"/>
<line x1="600.61" y1="120.14" x2="602.14" y2="118.43" stroke="#20e020" stroke-width="0.95" stroke-linecap="round"/>
<line x1="602.14" y1="118.43" x2="603.67" y2="116.71" stroke="#20e040" stroke-width="0.95" stroke-linecap="round"/>
<line x1="603.67" y1="116.71" x2="605.20" y2="115.00" stroke="#20d8a0" stroke-width="0.95" stroke-linecap="round"/>
<line x1="617.45" y1="128.72" x2="615.92" y2="127.00" stroke="#ff1414" stroke-width="0.95" stroke-linecap="round"/>
<line x1="615.92" y1="127.00" x2="614.39" y2="125.29" stroke="#ff5a00" stroke-width="0.95" stroke-linecap="round"/>
<line x1="614.39" y1="125.29" x2="612.86" y2="123.57" stroke="#ffb000" stroke-width="0.95" stroke-linecap="round"/>
<line x1="612.86" y1="123.57" x2="611.33" y2="121.86" stroke="#e8e800" stroke-width="0.95" stroke-linecap="round"/>
<line x1="611.33" y1="121.86" x2="609.79" y2="120.14" stroke="#40e020" stroke-width="0.95" stroke-linecap="round"/>
<line x1="609.79" y1="120.14" x2="608.26" y2="118.43" stroke="#20e020" stroke-width="0.95" stroke-linecap="round"/>
<line x1="608.26" y1="118.43" x2="606.73" y2="116.71" stroke="#20e040" stroke-width="0.95" stroke-linecap="round"/>
<line x1="606.73" y1="116.71" x2="605.20" y2="115.00" stroke="#20d8a0" stroke-width="0.95" stroke-linecap="round"/>
<line x1="617.45" y1="128.72" x2="616.73" y2="126.53" stroke="#ff1414" stroke-width="0.95" stroke-linecap="round"/>
<line x1="616.73" y1="126.53" x2="616.01" y2="124.35" stroke="#ff5a00" stroke-width="0.95" stroke-linecap="round"/>
<line x1="616.01" y1="124.35" x2="615.29" y2="122.17" stroke="#ffb000" stroke-width="0.95" stroke-linecap="round"/>
<line x1="615.29" y1="122.17" x2="614.57" y2="119.98" stroke="#e8e800" stroke-width="0.95" stroke-linecap="round"/>
<line x1="614.57" y1="119.98" x2="613.85" y2="117.80" stroke="#40e020" stroke-width="0.95" stroke-linecap="round"/>
<line x1="613.85" y1="117.80" x2="613.13" y2="115.62" stroke="#20e020" stroke-width="0.95" stroke-linecap="round"/>
<line x1="613.13" y1="115.62" x2="612.41" y2="113.43" stroke="#20e040" stroke-width="0.95" stroke-linecap="round"/>
<line x1="612.41" y1="113.43" x2="611.70" y2="111.25" stroke="#20d8a0" stroke-width="0.95" stroke-linecap="round"/>
<line x1="628.20" y1="107.50" x2="625.60" y2="107.66" stroke="#ff3010" stroke-width="0.9" stroke-linecap="round"/>
<line x1="625.60" y1="107.66" x2="622.99" y2="107.81" stroke="#ff9000" stroke-width="0.9" stroke-linecap="round"/>
<line x1="622.99" y1="107.81" x2="620.39" y2="107.97" stroke="#f0e000" stroke-width="0.9" stroke-linecap="round"/>
<line x1="620.39" y1="107.97" x2="617.78" y2="108.12" stroke="#60e020" stroke-width="0.9" stroke-linecap="round"/>
<line x1="617.78" y1="108.12" x2="615.18" y2="108.28" stroke="#20e020" stroke-width="0.9" stroke-linecap="round"/>
<line x1="615.18" y1="108.28" x2="612.57" y2="108.44" stroke="#20e020" stroke-width="0.9" stroke-linecap="round"/>
<line x1="612.57" y1="108.44" x2="609.97" y2="108.59" stroke="#20e040" stroke-width="0.9" stroke-linecap="round"/>
<line x1="609.97" y1="108.59" x2="607.37" y2="108.75" stroke="#20d0c0" stroke-width="0.9" stroke-linecap="round"/>
<line x1="628.20" y1="107.50" x2="625.60" y2="107.34" stroke="#ff3010" stroke-width="0.9" stroke-linecap="round"/>
<line x1="625.60" y1="107.34" x2="622.99" y2="107.19" stroke="#ff9000" stroke-width="0.9" stroke-linecap="round"/>
<line x1="622.99" y1="107.19" x2="620.39" y2="107.03" stroke="#f0e000" stroke-width="0.9" stroke-linecap="round"/>
<line x1="620.39" y1="107.03" x2="617.78" y2="106.88" stroke="#60e020" stroke-width="0.9" stroke-linecap="round"/>
<line x1="617.78" y1="106.88" x2="615.18" y2="106.72" stroke="#20e020" stroke-width="0.9" stroke-linecap="round"/>
<line x1="615.18" y1="106.72" x2="612.57" y2="106.56" stroke="#20e020" stroke-width="0.9" stroke-linecap="round"/>
<line x1="612.57" y1="106.56" x2="609.97" y2="106.41" stroke="#20e040" stroke-width="0.9" stroke-linecap="round"/>
<line x1="609.97" y1="106.41" x2="607.37" y2="106.25" stroke="#20d0c0" stroke-width="0.9" stroke-linecap="round"/>
<line x1="616.70" y1="87.58" x2="615.53" y2="89.91" stroke="#ff3010" stroke-width="0.9" stroke-linecap="round"/>
<line x1="615.53" y1="89.91" x2="614.37" y2="92.25" stroke="#ff9000" stroke-width="0.9" stroke-linecap="round"/>
<line x1="614.37" y1="92.25" x2="613.20" y2="94.58" stroke="#f0e000" stroke-width="0.9" stroke-linecap="round"/>
<line x1="613.20" y1="94.58" x2="612.03" y2="96.92" stroke="#60e020" stroke-width="0.9" stroke-linecap="round"/>
<line x1="612.03" y1="96.92" x2="610.87" y2="99.25" stroke="#20e020" stroke-width="0.9" stroke-linecap="round"/>
<line x1="610.87" y1="99.25" x2="609.70" y2="101.58" stroke="#20e020" stroke-width="0.9" stroke-linecap="round"/>
<line x1="609.70" y1="101.58" x2="608.53" y2="103.92" stroke="#20e040" stroke-width="0.9" stroke-linecap="round"/>
<line x1="608.53" y1="103.92" x2="607.37" y2="106.25" stroke="#20d0c0" stroke-width="0.9" stroke-linecap="round"/>
<line x1="616.70" y1="87.58" x2="615.26" y2="89.76" stroke="#ff3010" stroke-width="0.9" stroke-linecap="round"/>
<line x1="615.26" y1="89.76" x2="613.83" y2="91.94" stroke="#ff9000" stroke-width="0.9" stroke-linecap="round"/>
<line x1="613.83" y1="91.94" x2="612.39" y2="94.11" stroke="#f0e000" stroke-width="0.9" stroke-linecap="round"/>
<line x1="612.39" y1="94.11" x2="610.95" y2="96.29" stroke="#60e020" stroke-width="0.9" stroke-linecap="round"/>
<line x1="610.95" y1="96.29" x2="609.51" y2="98.47" stroke="#20e020" stroke-width="0.9" stroke-linecap="round"/>
<line x1="609.51" y1="98.47" x2="608.08" y2="100.65" stroke="#20e020" stroke-width="0.9" stroke-linecap="round"/>
<line x1="608.08" y1="100.65" x2="606.64" y2="102.82" stroke="#20e040" stroke-width="0.9" stroke-linecap="round"/>
<line x1="606.64" y1="102.82" x2="605.20" y2="105.00" stroke="#20d0c0" stroke-width="0.9" stroke-linecap="round"/>
<line x1="593.70" y1="87.58" x2="595.14" y2="89.76" stroke="#ff3010" stroke-width="0.9" stroke-linecap="round"/>
<line x1="595.14" y1="89.76" x2="596.58" y2="91.94" stroke="#ff9000" stroke-width="0.9" stroke-linecap="round"/>
<line x1="596.58" y1="91.94" x2="598.01" y2="94.11" stroke="#f0e000" stroke-width="0.9" stroke-linecap="round"/>
<line x1="598.01" y1="94.11" x2="599.45" y2="96.29" stroke="#60e020" stroke-width="0.9" stroke-linecap="round"/>
<line x1="599.45" y1="96.29" x2="600.89" y2="98.47" stroke="#20e020" stroke-width="0.9" stroke-linecap="round"/>
<line x1="600.89" y1="98.47" x2="602.33" y2="100.65" stroke="#20e020" stroke-width="0.9" stroke-linecap="round"/>
<line x1="602.33" y1="100.65" x2="603.76" y2="102.82" stroke="#20e040" stroke-width="0.9" stroke-linecap="round"/>
<line x1="603.76" y1="102.82" x2="605.20" y2="105.00" stroke="#20d0c0" stroke-width="0.9" stroke-linecap="round"/>
<line x1="593.70" y1="87.58" x2="594.87" y2="89.91" stroke="#ff3010" stroke-width="0.9" stroke-linecap="round"/>
<line x1="594.87" y1="89.91" x2="596.03" y2="92.25" stroke="#ff9000" stroke-width="0.9" stroke-linecap="round"/>
<line x1="596.03" y1="92.25" x2="597.20" y2="94.58" stroke="#f0e000" stroke-width="0.9" stroke-linecap="round"/>
<line x1="597.20" y1="94.58" x2="598.37" y2="96.92" stroke="#60e020" stroke-width="0.9" stroke-linecap="round"/>
<line x1="598.37" y1="96.92" x2="599.53" y2="99.25" stroke="#20e020" stroke-width="0.9" stroke-linecap="round"/>
<line x1="599.53" y1="99.25" x2="600.70" y2="101.58" stroke="#20e020" stroke-width="0.9" stroke-linecap="round"/>
<line x1="600.70" y1="101.58" x2="601.87" y2="103.92" stroke="#20e040" stroke-width="0.9" stroke-linecap="round"/>
<line x1="601.87" y1="103.92" x2="603.03" y2="106.25" stroke="#20d0c0" stroke-width="0.9" stroke-linecap="round"/>
<line x1="582.20" y1="107.50" x2="584.80" y2="107.34" stroke="#ff3010" stroke-width="0.9" stroke-linecap="round"/>
<line x1="584.80" y1="107.34" x2="587.41" y2="107.19" stroke="#ff9000" stroke-width="0.9" stroke-linecap="round"/>
<line x1="587.41" y1="107.19" x2="590.01" y2="107.03" stroke="#f0e000" stroke-width="0.9" stroke-linecap="round"/>
<line x1="590.01" y1="107.03" x2="592.62" y2="106.88" stroke="#60e020" stroke-width="0.9" stroke-linecap="round"/>
<line x1="592.62" y1="106.88" x2="595.22" y2="106.72" stroke="#20e020" stroke-width="0.9" stroke-linecap="round"/>
<line x1="595.22" y1="106.72" x2="597.83" y2="106.56" stroke="#20e020" stroke-width="0.9" stroke-linecap="round"/>
<line x1="597.83" y1="106.56" x2="600.43" y2="106.41" stroke="#20e040" stroke-width="0.9" stroke-linecap="round"/>
<line x1="600.43" y1="106.41" x2="603.03" y2="106.25" stroke="#20d0c0" stroke-width="0.9" stroke-linecap="round"/>
<line x1="582.20" y1="107.50" x2="584.80" y2="107.66" stroke="#ff3010" stroke-width="0.9" stroke-linecap="round"/>
<line x1="584.80" y1="107.66" x2="587.41" y2="107.81" stroke="#ff9000" stroke-width="0.9" stroke-linecap="round"/>
<line x1="587.41" y1="107.81" x2="590.01" y2="107.97" stroke="#f0e000" stroke-width="0.9" stroke-linecap="round"/>
<line x1="590.01" y1="107.97" x2="592.62" y2="108.12" stroke="#60e020" stroke-width="0.9" stroke-linecap="round"/>
<line x1="592.62" y1="108.12" x2="595.22" y2="108.28" stroke="#20e020" stroke-width="0.9" stroke-linecap="round"/>
<line x1="595.22" y1="108.28" x2="597.83" y2="108.44" stroke="#20e020" stroke-width="0.9" stroke-linecap="round"/>
<line x1="597.83" y1="108.44" x2="600.43" y2="108.59" stroke="#20e040" stroke-width="0.9" stroke-linecap="round"/>
<line x1="600.43" y1="108.59" x2="603.03" y2="108.75" stroke="#20d0c0" stroke-width="0.9" stroke-linecap="round"/>
<line x1="593.70" y1="127.42" x2="594.87" y2="125.09" stroke="#ff3010" stroke-width="0.9" stroke-linecap="round"/>
<line x1="594.87" y1="125.09" x2="596.03" y2="122.75" stroke="#ff9000" stroke-width="0.9" stroke-linecap="round"/>
<line x1="596.03" y1="122.75" x2="597.20" y2="120.42" stroke="#f0e000" stroke-width="0.9" stroke-linecap="round"/>
<line x1="597.20" y1="120.42" x2="598.37" y2="118.08" stroke="#60e020" stroke-width="0.9" stroke-linecap="round"/>
<line x1="598.37" y1="118.08" x2="599.53" y2="115.75" stroke="#20e020" stroke-width="0.9" stroke-linecap="round"/>
<line x1="599.53" y1="115.75" x2="600.70" y2="113.42" stroke="#20e020" stroke-width="0.9" stroke-linecap="round"/>
<line x1="600.70" y1="113.42" x2="601.87" y2="111.08" stroke="#20e040" stroke-width="0.9" stroke-linecap="round"/>
<line x1="601.87" y1="111.08" x2="603.03" y2="108.75" stroke="#20d0c0" stroke-width="0.9" stroke-linecap="round"/>
<line x1="593.70" y1="127.42" x2="595.14" y2="125.24" stroke="#ff3010" stroke-width="0.9" stroke-linecap="round"/>
<line x1="595.14" y1="125.24" x2="596.58" y2="123.06" stroke="#ff9000" stroke-width="0.9" stroke-linecap="round"/>
<line x1="596.58" y1="123.06" x2="598.01" y2="120.89" stroke="#f0e000" stroke-width="0.9" stroke-linecap="round"/>
<line x1="598.01" y1="120.89" x2="599.45" y2="118.71" stroke="#60e020" stroke-width="0.9" stroke-linecap="round"/>
<line x1="599.45" y1="118.71" x2="600.89" y2="116.53" stroke="#20e020" stroke-width="0.9" stroke-linecap="round"/>
<line x1="600.89" y1="116.53" x2="602.33" y2="114.35" stroke="#20e020" stroke-width="0.9" stroke-linecap="round"/>
<line x1="602.33" y1="114.35" x2="603.76" y2="112.18" stroke="#20e040" stroke-width="0.9" stroke-linecap="round"/>
<line x1="603.76" y1="112.18" x2="605.20" y2="110.00" stroke="#20d0c0" stroke-width="0.9" stroke-linecap="round"/>
<line x1="616.70" y1="127.42" x2="615.26" y2="125.24" stroke="#ff3010" stroke-width="0.9" stroke-linecap="round"/>
<line x1="615.26" y1="125.24" x2="613.83" y2="123.06" stroke="#ff9000" stroke-width="0.9" stroke-linecap="round"/>
<line x1="613.83" y1="123.06" x2="612.39" y2="120.89" stroke="#f0e000" stroke-width="0.9" stroke-linecap="round"/>
<line x1="612.39" y1="120.89" x2="610.95" y2="118.71" stroke="#60e020" stroke-width="0.9" stroke-linecap="round"/>
<line x1="610.95" y1="118.71" x2="609.51" y2="116.53" stroke="#20e020" stroke-width="0.9" stroke-linecap="round"/>
<line x1="609.51" y1="116.53" x2="608.08" y2="114.35" stroke="#20e020" stroke-width="0.9" stroke-linecap="round"/>
<line x1="608.08" y1="114.35" x2="606.64" y2="112.18" stroke="#20e040" stroke-width="0.9" stroke-linecap="round"/>
<line x1="606.64" y1="112.18" x2="605.20" y2="110.00" stroke="#20d0c0" stroke-width="0.9" stroke-linecap="round"/>
<line x1="616.70" y1="127.42" x2="615.53" y2="125.09" stroke="#ff3010" stroke-width="0.9" stroke-linecap="round"/>
<line x1="615.53" y1="125.09" x2="614.37" y2="122.75" stroke="#ff9000" stroke-width="0.9" stroke-linecap="round"/>
<line x1="614.37" y1="122.75" x2="613.20" y2="120.42" stroke="#f0e000" stroke-width="0.9" stroke-linecap="round"/>
<line x1="613.20" y1="120.42" x2="612.03" y2="118.08" stroke="#60e020" stroke-width="0.9" stroke-linecap="round"/>
<line x1="612.03" y1="118.08" x2="610.87" y2="115.75" stroke="#20e020" stroke-width="0.9" stroke-linecap="round"/>
<line x1="610.87" y1="115.75" x2="609.70" y2="113.42" stroke="#20e020" stroke-width="0.9" stroke-linecap="round"/>
<line x1="609.70" y1="113.42" x2="608.53" y2="111.08" stroke="#20e040" stroke-width="0.9" stroke-linecap="round"/>
<line x1="608.53" y1="111.08" x2="607.37" y2="108.75" stroke="#20d0c0" stroke-width="0.9" stroke-linecap="round"/>
<line x1="664.96" y1="107.50" x2="545.44" y2="107.50" stroke="#1a1a1a" stroke-width="1" stroke-dasharray="5 2.6"/>
<line x1="664.96" y1="73.00" x2="545.44" y2="142.00" stroke="#1a1a1a" stroke-width="1" stroke-dasharray="5 2.6"/>
<line x1="635.08" y1="55.75" x2="575.32" y2="159.25" stroke="#1a1a1a" stroke-width="1" stroke-dasharray="5 2.6"/>
<line x1="575.32" y1="55.75" x2="635.08" y2="159.25" stroke="#1a1a1a" stroke-width="1" stroke-dasharray="5 2.6"/>
<line x1="545.44" y1="73.00" x2="664.96" y2="142.00" stroke="#1a1a1a" stroke-width="1" stroke-dasharray="5 2.6"/>
<line x1="605.20" y1="38.50" x2="605.20" y2="176.50" stroke="#222" stroke-width="1.1" stroke-dasharray="5 2.6"/>
<circle cx="605.20" cy="107.50" r="4.4" fill="none" stroke="#f07050" stroke-width="1.2"/>
<circle cx="605.20" cy="107.50" r="2.1" fill="#111"/>
<rect x="560.8" y="62.0" width="90.20" height="90.00" fill="none" stroke="#c41616" stroke-width="1.6"/>
<text x="598.95" y="36.90" font-family='"Liberation Sans", sans-serif' font-size="12.2" textLength="13.05" lengthAdjust="spacingAndGlyphs" >K′</text>
<line x1="600.80" y1="26.30" x2="608.00" y2="26.30" stroke="#000" stroke-width="0.9" />
<text x="564.97" y="50.30" font-family='"Liberation Sans", sans-serif' font-size="12.2" textLength="12.45" lengthAdjust="spacingAndGlyphs" >M</text>
<line x1="566.80" y1="40.30" x2="574.00" y2="40.30" stroke="#000" stroke-width="0.9" />
<text x="636.60" y="53.90" font-family='"Liberation Sans", sans-serif' font-size="12.2" textLength="13.20" lengthAdjust="spacingAndGlyphs" >M</text>
<line x1="638.50" y1="43.90" x2="645.70" y2="43.90" stroke="#000" stroke-width="0.9" />
<text x="529.01" y="74.50" font-family='"Liberation Sans", sans-serif' font-size="12.2" textLength="9.66" lengthAdjust="spacingAndGlyphs" >K</text>
<line x1="530.80" y1="64.70" x2="538.00" y2="64.70" stroke="#000" stroke-width="0.9" />
<text x="673.47" y="77.30" font-family='"Liberation Sans", sans-serif' font-size="12.2" textLength="10.01" lengthAdjust="spacingAndGlyphs" >K</text>
<line x1="675.30" y1="67.10" x2="682.50" y2="67.10" stroke="#000" stroke-width="0.9" />
<text x="526.95" y="116.10" font-family='"Liberation Sans", sans-serif' font-size="12.2" textLength="12.70" lengthAdjust="spacingAndGlyphs" >M</text>
<line x1="528.80" y1="105.10" x2="536.00" y2="105.10" stroke="#000" stroke-width="0.9" />
<text x="670.03" y="113.70" font-family='"Liberation Sans", sans-serif' font-size="12.2" textLength="12.95" lengthAdjust="spacingAndGlyphs" >M</text>
<line x1="671.90" y1="102.70" x2="679.10" y2="102.70" stroke="#000" stroke-width="0.9" />
<text x="528.27" y="150.50" font-family='"Liberation Sans", sans-serif' font-size="12.2" textLength="12.82" lengthAdjust="spacingAndGlyphs" >K′</text>
<line x1="530.10" y1="138.40" x2="537.30" y2="138.40" stroke="#000" stroke-width="0.9" />
<text x="672.22" y="151.90" font-family='"Liberation Sans", sans-serif' font-size="12.2" textLength="13.39" lengthAdjust="spacingAndGlyphs" >K′</text>
<line x1="674.10" y1="141.90" x2="681.30" y2="141.90" stroke="#000" stroke-width="0.9" />
<text x="563.52" y="175.10" font-family='"Liberation Sans", sans-serif' font-size="12.2" textLength="11.95" lengthAdjust="spacingAndGlyphs" >M</text>
<line x1="565.30" y1="164.10" x2="572.50" y2="164.10" stroke="#000" stroke-width="0.9" />
<text x="634.43" y="173.90" font-family='"Liberation Sans", sans-serif' font-size="12.2" textLength="12.95" lengthAdjust="spacingAndGlyphs" >M</text>
<line x1="636.30" y1="162.90" x2="643.50" y2="162.90" stroke="#000" stroke-width="0.9" />
<text x="600.70" y="189.90" font-family='"Liberation Sans", sans-serif' font-size="12.2" textLength="9.78" lengthAdjust="spacingAndGlyphs" >K</text>
<line x1="602.50" y1="179.70" x2="609.70" y2="179.70" stroke="#000" stroke-width="0.9" />
<text x="599.23" y="123.80" font-family='"Liberation Serif", serif' font-size="12.5" textLength="7.38" lengthAdjust="spacingAndGlyphs" >Γ</text>
<line x1="600.20" y1="114.10" x2="606.20" y2="114.10" stroke="#000" stroke-width="0.8" />
<path d="M604.0,293.3 663.9,327.9 663.9,397.1 604.0,431.7 544.1,397.1 544.1,327.9Z" fill="none" stroke="#333" stroke-width="0.9"/>
<path d="M636.5,362.5 635.3,362.0 634.0,361.5 632.8,361.0 631.6,360.6 630.5,360.2 629.3,359.8 628.2,359.5 627.1,359.3 626.0,359.0 625.0,358.8 623.9,358.6 623.0,358.5 622.0,358.3 621.1,358.2" fill="none" stroke="#20e030" stroke-width="1.1"/>
<path d="M621.1,358.2 620.2,358.2 619.4,358.1 618.6,358.0 617.9,358.0 617.2,358.0 616.5,357.9 616.0,357.9 615.5,357.9 615.1,357.8 614.8,357.7 614.7,357.5 614.6,357.3 614.5,357.1 614.4,357.0 614.3,356.8 614.2,356.6 614.1,356.4 614.0,356.2 613.9,356.1 613.8,355.9 613.7,355.7 613.5,355.6 613.6,355.3 613.7,354.9 614.0,354.4 614.2,353.9 614.5,353.4 614.8,352.7 615.2,352.1 615.5,351.4 615.9,350.6" fill="none" stroke="#18c8f0" stroke-width="1.1"/>
<path d="M615.9,350.6 616.2,349.8 616.6,349.0 617.0,348.1 617.3,347.2 617.7,346.2 618.0,345.2 618.3,344.1 618.7,343.0 619.0,341.9 619.2,340.7 619.5,339.5 619.7,338.3 619.9,337.0 620.1,335.7 620.2,334.4 619.2,335.2 618.1,336.0 617.1,336.8 616.1,337.6 615.2,338.4 614.3,339.3 613.5,340.1 612.7,340.9 612.0,341.7 611.3,342.5 610.6,343.3 610.0,344.1 609.4,344.8 608.9,345.6" fill="none" stroke="#20e030" stroke-width="1.1"/>
<path d="M608.9,345.6 608.3,346.3 607.9,347.0 607.4,347.6 607.0,348.2 606.7,348.8 606.3,349.4 606.0,349.8 605.7,350.3 605.5,350.6 605.2,350.8 605.0,350.7 604.8,350.7 604.6,350.7 604.4,350.7 604.2,350.7 604.0,350.7 603.8,350.7 603.6,350.7 603.4,350.7 603.2,350.7 603.0,350.7 602.8,350.8 602.5,350.6 602.3,350.3 602.0,349.8 601.7,349.4 601.3,348.8 601.0,348.2 600.6,347.6 600.1,347.0 599.7,346.3" fill="none" stroke="#18c8f0" stroke-width="1.1"/>
<path d="M599.7,346.3 599.1,345.6 598.6,344.8 598.0,344.1 597.4,343.3 596.7,342.5 596.0,341.7 595.3,340.9 594.5,340.1 593.7,339.3 592.8,338.4 591.9,337.6 590.9,336.8 589.9,336.0 588.8,335.2 587.8,334.4 587.9,335.7 588.1,337.0 588.3,338.3 588.5,339.5 588.8,340.7 589.0,341.9 589.3,343.0 589.7,344.1 590.0,345.2 590.3,346.2 590.7,347.2 591.0,348.1 591.4,349.0 591.8,349.8" fill="none" stroke="#20e030" stroke-width="1.1"/>
<path d="M591.8,349.8 592.1,350.6 592.5,351.4 592.8,352.1 593.2,352.7 593.5,353.4 593.8,353.9 594.0,354.4 594.3,354.9 594.4,355.3 594.5,355.6 594.3,355.7 594.2,355.9 594.1,356.1 594.0,356.2 593.9,356.4 593.8,356.6 593.7,356.8 593.6,357.0 593.5,357.1 593.4,357.3 593.3,357.5 593.2,357.7 592.9,357.8 592.5,357.9 592.0,357.9 591.5,357.9 590.8,358.0 590.1,358.0 589.4,358.0 588.6,358.1 587.8,358.2" fill="none" stroke="#18c8f0" stroke-width="1.1"/>
<path d="M587.8,358.2 586.9,358.2 586.0,358.3 585.0,358.5 584.1,358.6 583.0,358.8 582.0,359.0 580.9,359.3 579.8,359.5 578.7,359.8 577.5,360.2 576.4,360.6 575.2,361.0 574.0,361.5 572.7,362.0 571.5,362.5 572.7,363.0 574.0,363.5 575.2,364.0 576.4,364.4 577.5,364.8 578.7,365.2 579.8,365.5 580.9,365.7 582.0,366.0 583.0,366.2 584.1,366.4 585.0,366.5 586.0,366.7 586.9,366.8" fill="none" stroke="#20e030" stroke-width="1.1"/>
<path d="M586.9,366.8 587.8,366.8 588.6,366.9 589.4,367.0 590.1,367.0 590.8,367.0 591.5,367.1 592.0,367.1 592.5,367.1 592.9,367.2 593.2,367.3 593.3,367.5 593.4,367.7 593.5,367.9 593.6,368.0 593.7,368.2 593.8,368.4 593.9,368.6 594.0,368.8 594.1,368.9 594.2,369.1 594.3,369.3 594.5,369.4 594.4,369.7 594.3,370.1 594.0,370.6 593.8,371.1 593.5,371.6 593.2,372.3 592.8,372.9 592.5,373.6 592.1,374.4" fill="none" stroke="#18c8f0" stroke-width="1.1"/>
<path d="M592.1,374.4 591.8,375.2 591.4,376.0 591.0,376.9 590.7,377.8 590.3,378.8 590.0,379.8 589.7,380.9 589.3,382.0 589.0,383.1 588.8,384.3 588.5,385.5 588.3,386.7 588.1,388.0 587.9,389.3 587.8,390.6 588.8,389.8 589.9,389.0 590.9,388.2 591.9,387.4 592.8,386.6 593.7,385.7 594.5,384.9 595.3,384.1 596.0,383.3 596.7,382.5 597.4,381.7 598.0,380.9 598.6,380.2 599.1,379.4" fill="none" stroke="#20e030" stroke-width="1.1"/>
<path d="M599.1,379.4 599.7,378.7 600.1,378.0 600.6,377.4 601.0,376.8 601.3,376.2 601.7,375.6 602.0,375.2 602.3,374.7 602.5,374.4 602.8,374.2 603.0,374.3 603.2,374.3 603.4,374.3 603.6,374.3 603.8,374.3 604.0,374.3 604.2,374.3 604.4,374.3 604.6,374.3 604.8,374.3 605.0,374.3 605.2,374.2 605.5,374.4 605.7,374.7 606.0,375.2 606.3,375.6 606.7,376.2 607.0,376.8 607.4,377.4 607.9,378.0 608.3,378.7" fill="none" stroke="#18c8f0" stroke-width="1.1"/>
<path d="M608.3,378.7 608.9,379.4 609.4,380.2 610.0,380.9 610.6,381.7 611.3,382.5 612.0,383.3 612.7,384.1 613.5,384.9 614.3,385.7 615.2,386.6 616.1,387.4 617.1,388.2 618.1,389.0 619.2,389.8 620.2,390.6 620.1,389.3 619.9,388.0 619.7,386.7 619.5,385.5 619.2,384.3 619.0,383.1 618.7,382.0 618.3,380.9 618.0,379.8 617.7,378.8 617.3,377.8 617.0,376.9 616.6,376.0 616.2,375.2" fill="none" stroke="#20e030" stroke-width="1.1"/>
<path d="M616.2,375.2 615.9,374.4 615.5,373.6 615.2,372.9 614.8,372.3 614.5,371.6 614.2,371.1 614.0,370.6 613.7,370.1 613.6,369.7 613.5,369.4 613.7,369.3 613.8,369.1 613.9,368.9 614.0,368.8 614.1,368.6 614.2,368.4 614.3,368.2 614.4,368.0 614.5,367.9 614.6,367.7 614.7,367.5 614.8,367.3 615.1,367.2 615.5,367.1 616.0,367.1 616.5,367.1 617.2,367.0 617.9,367.0 618.6,367.0 619.4,366.9 620.2,366.8" fill="none" stroke="#18c8f0" stroke-width="1.1"/>
<path d="M620.2,366.8 621.1,366.8 622.0,366.7 623.0,366.5 623.9,366.4 625.0,366.2 626.0,366.0 627.1,365.7 628.2,365.5 629.3,365.2 630.5,364.8 631.6,364.4 632.8,364.0 634.0,363.5 635.3,363.0 636.5,362.5" fill="none" stroke="#20e030" stroke-width="1.1"/>
<circle cx="604.00" cy="362.50" r="8.6" fill="none" stroke="#30c0f0" stroke-width="1.0"/>
<path d="M614.5,362.5 615.3,363.1 616.2,363.5 617.0,363.8 617.8,364.1 618.7,364.4 619.5,364.6 620.3,364.7 621.2,364.9 622.0,364.9 622.8,365.0 623.7,365.0 624.5,365.0 625.3,364.9 626.2,364.8 627.0,364.7 627.8,364.5 628.7,364.4 629.5,364.2 630.3,364.0 631.2,363.7 632.0,363.5 632.8,363.2 633.7,362.9 634.5,362.5 634.5,362.5 633.7,362.1 632.8,361.8 632.0,361.5 631.2,361.3 630.3,361.0 629.5,360.8 628.7,360.6 627.8,360.5 627.0,360.3 626.2,360.2 625.3,360.1 624.5,360.0 623.7,360.0 622.8,360.0 622.0,360.1 621.2,360.1 620.3,360.3 619.5,360.4 618.7,360.6 617.8,360.9 617.0,361.2 616.2,361.5 615.3,361.9 614.5,362.5ZM609.2,353.4 610.2,353.0 610.9,352.5 611.7,351.9 612.3,351.3 613.0,350.7 613.5,350.1 614.1,349.5 614.6,348.8 615.1,348.1 615.6,347.4 616.0,346.7 616.4,346.0 616.8,345.2 617.1,344.5 617.4,343.7 617.7,342.9 618.0,342.1 618.2,341.3 618.4,340.4 618.6,339.6 618.8,338.7 619.0,337.9 619.2,337.0 619.3,336.1 619.2,336.1 618.5,336.6 617.8,337.2 617.2,337.8 616.5,338.4 615.9,339.0 615.3,339.6 614.7,340.2 614.1,340.8 613.6,341.5 613.1,342.1 612.6,342.8 612.1,343.5 611.7,344.2 611.3,344.9 610.9,345.7 610.5,346.5 610.2,347.2 610.0,348.0 609.7,348.9 609.5,349.7 609.3,350.6 609.2,351.5 609.2,352.4 609.2,353.4ZM598.8,353.4 598.8,352.4 598.8,351.5 598.7,350.6 598.5,349.7 598.3,348.9 598.0,348.0 597.8,347.2 597.5,346.5 597.1,345.7 596.7,344.9 596.3,344.2 595.9,343.5 595.4,342.8 594.9,342.1 594.4,341.5 593.9,340.8 593.3,340.2 592.7,339.6 592.1,339.0 591.5,338.4 590.8,337.8 590.2,337.2 589.5,336.6 588.8,336.1 588.7,336.1 588.8,337.0 589.0,337.9 589.2,338.7 589.4,339.6 589.6,340.4 589.8,341.3 590.0,342.1 590.3,342.9 590.6,343.7 590.9,344.5 591.2,345.2 591.6,346.0 592.0,346.7 592.4,347.4 592.9,348.1 593.4,348.8 593.9,349.5 594.5,350.1 595.0,350.7 595.7,351.3 596.3,351.9 597.1,352.5 597.8,353.0 598.8,353.4ZM593.5,362.5 592.7,361.9 591.8,361.5 591.0,361.2 590.2,360.9 589.3,360.6 588.5,360.4 587.7,360.3 586.8,360.1 586.0,360.1 585.2,360.0 584.3,360.0 583.5,360.0 582.7,360.1 581.8,360.2 581.0,360.3 580.2,360.5 579.3,360.6 578.5,360.8 577.7,361.0 576.8,361.3 576.0,361.5 575.2,361.8 574.3,362.1 573.5,362.5 573.5,362.5 574.3,362.9 575.2,363.2 576.0,363.5 576.8,363.7 577.7,364.0 578.5,364.2 579.3,364.4 580.2,364.5 581.0,364.7 581.8,364.8 582.7,364.9 583.5,365.0 584.3,365.0 585.2,365.0 586.0,364.9 586.8,364.9 587.7,364.7 588.5,364.6 589.3,364.4 590.2,364.1 591.0,363.8 591.8,363.5 592.7,363.1 593.5,362.5ZM598.8,371.6 597.8,372.0 597.1,372.5 596.3,373.1 595.7,373.7 595.0,374.3 594.5,374.9 593.9,375.5 593.4,376.2 592.9,376.9 592.4,377.6 592.0,378.3 591.6,379.0 591.2,379.8 590.9,380.5 590.6,381.3 590.3,382.1 590.0,382.9 589.8,383.7 589.6,384.6 589.4,385.4 589.2,386.3 589.0,387.1 588.8,388.0 588.7,388.9 588.8,388.9 589.5,388.4 590.2,387.8 590.8,387.2 591.5,386.6 592.1,386.0 592.7,385.4 593.3,384.8 593.9,384.2 594.4,383.5 594.9,382.9 595.4,382.2 595.9,381.5 596.3,380.8 596.7,380.1 597.1,379.3 597.5,378.5 597.8,377.8 598.0,377.0 598.3,376.1 598.5,375.3 598.7,374.4 598.8,373.5 598.8,372.6 598.8,371.6ZM609.2,371.6 609.2,372.6 609.2,373.5 609.3,374.4 609.5,375.3 609.7,376.1 610.0,377.0 610.2,377.8 610.5,378.5 610.9,379.3 611.3,380.1 611.7,380.8 612.1,381.5 612.6,382.2 613.1,382.9 613.6,383.5 614.1,384.2 614.7,384.8 615.3,385.4 615.9,386.0 616.5,386.6 617.2,387.2 617.8,387.8 618.5,388.4 619.2,388.9 619.3,388.9 619.2,388.0 619.0,387.1 618.8,386.3 618.6,385.4 618.4,384.6 618.2,383.7 618.0,382.9 617.7,382.1 617.4,381.3 617.1,380.5 616.8,379.8 616.4,379.0 616.0,378.3 615.6,377.6 615.1,376.9 614.6,376.2 614.1,375.5 613.5,374.9 613.0,374.3 612.3,373.7 611.7,373.1 610.9,372.5 610.2,372.0 609.2,371.6Z" fill="none" stroke="#d8e800" stroke-width="0.9"/>
<path d="M615.0,362.5 615.8,362.9 616.5,363.1 617.2,363.3 618.0,363.5 618.8,363.7 619.5,363.8 620.2,363.9 621.0,364.0 621.8,364.0 622.5,364.1 623.2,364.1 624.0,364.1 624.8,364.0 625.5,364.0 626.2,363.9 627.0,363.8 627.8,363.7 628.5,363.6 629.2,363.4 630.0,363.3 630.8,363.1 631.5,362.9 632.2,362.7 633.0,362.5 633.0,362.5 632.2,362.3 631.5,362.1 630.8,361.9 630.0,361.7 629.2,361.6 628.5,361.4 627.8,361.3 627.0,361.2 626.2,361.1 625.5,361.0 624.8,361.0 624.0,360.9 623.2,360.9 622.5,360.9 621.8,361.0 621.0,361.0 620.2,361.1 619.5,361.2 618.8,361.3 618.0,361.5 617.2,361.7 616.5,361.9 615.8,362.1 615.0,362.5ZM609.5,353.0 610.2,352.5 610.8,352.0 611.4,351.4 611.9,350.9 612.4,350.3 612.9,349.7 613.4,349.1 613.8,348.5 614.2,347.9 614.6,347.3 615.0,346.6 615.4,346.0 615.7,345.3 616.0,344.6 616.3,343.9 616.6,343.2 616.9,342.5 617.2,341.8 617.4,341.1 617.7,340.4 617.9,339.6 618.1,338.9 618.3,338.2 618.5,337.4 618.5,337.4 617.9,337.9 617.4,338.5 616.8,339.0 616.3,339.6 615.8,340.2 615.3,340.8 614.8,341.3 614.4,341.9 613.9,342.5 613.5,343.1 613.1,343.8 612.6,344.4 612.3,345.0 611.9,345.7 611.5,346.4 611.2,347.0 610.9,347.7 610.6,348.4 610.3,349.1 610.1,349.9 609.9,350.6 609.7,351.4 609.6,352.1 609.5,353.0ZM598.5,353.0 598.4,352.1 598.3,351.4 598.1,350.6 597.9,349.9 597.7,349.1 597.4,348.4 597.1,347.7 596.8,347.0 596.5,346.4 596.1,345.7 595.7,345.0 595.4,344.4 594.9,343.8 594.5,343.1 594.1,342.5 593.6,341.9 593.2,341.3 592.7,340.8 592.2,340.2 591.7,339.6 591.2,339.0 590.6,338.5 590.1,337.9 589.5,337.4 589.5,337.4 589.7,338.2 589.9,338.9 590.1,339.6 590.3,340.4 590.6,341.1 590.8,341.8 591.1,342.5 591.4,343.2 591.7,343.9 592.0,344.6 592.3,345.3 592.6,346.0 593.0,346.6 593.4,347.3 593.8,347.9 594.2,348.5 594.6,349.1 595.1,349.7 595.6,350.3 596.1,350.9 596.6,351.4 597.2,352.0 597.8,352.5 598.5,353.0ZM593.0,362.5 592.2,362.1 591.5,361.9 590.8,361.7 590.0,361.5 589.2,361.3 588.5,361.2 587.8,361.1 587.0,361.0 586.2,361.0 585.5,360.9 584.8,360.9 584.0,360.9 583.2,361.0 582.5,361.0 581.8,361.1 581.0,361.2 580.2,361.3 579.5,361.4 578.8,361.6 578.0,361.7 577.2,361.9 576.5,362.1 575.8,362.3 575.0,362.5 575.0,362.5 575.8,362.7 576.5,362.9 577.2,363.1 578.0,363.3 578.8,363.4 579.5,363.6 580.2,363.7 581.0,363.8 581.8,363.9 582.5,364.0 583.2,364.0 584.0,364.1 584.8,364.1 585.5,364.1 586.2,364.0 587.0,364.0 587.8,363.9 588.5,363.8 589.2,363.7 590.0,363.5 590.8,363.3 591.5,363.1 592.2,362.9 593.0,362.5ZM598.5,372.0 597.8,372.5 597.2,373.0 596.6,373.6 596.1,374.1 595.6,374.7 595.1,375.3 594.6,375.9 594.2,376.5 593.8,377.1 593.4,377.7 593.0,378.4 592.6,379.0 592.3,379.7 592.0,380.4 591.7,381.1 591.4,381.8 591.1,382.5 590.8,383.2 590.6,383.9 590.3,384.6 590.1,385.4 589.9,386.1 589.7,386.8 589.5,387.6 589.5,387.6 590.1,387.1 590.6,386.5 591.2,386.0 591.7,385.4 592.2,384.8 592.7,384.2 593.2,383.7 593.6,383.1 594.1,382.5 594.5,381.9 594.9,381.2 595.4,380.6 595.7,380.0 596.1,379.3 596.5,378.6 596.8,378.0 597.1,377.3 597.4,376.6 597.7,375.9 597.9,375.1 598.1,374.4 598.3,373.6 598.4,372.9 598.5,372.0ZM609.5,372.0 609.6,372.9 609.7,373.6 609.9,374.4 610.1,375.1 610.3,375.9 610.6,376.6 610.9,377.3 611.2,378.0 611.5,378.6 611.9,379.3 612.3,380.0 612.6,380.6 613.1,381.2 613.5,381.9 613.9,382.5 614.4,383.1 614.8,383.7 615.3,384.2 615.8,384.8 616.3,385.4 616.8,386.0 617.4,386.5 617.9,387.1 618.5,387.6 618.5,387.6 618.3,386.8 618.1,386.1 617.9,385.4 617.7,384.6 617.4,383.9 617.2,383.2 616.9,382.5 616.6,381.8 616.3,381.1 616.0,380.4 615.7,379.7 615.4,379.0 615.0,378.4 614.6,377.7 614.2,377.1 613.8,376.5 613.4,375.9 612.9,375.3 612.4,374.7 611.9,374.1 611.4,373.6 610.8,373.0 610.2,372.5 609.5,372.0Z" fill="none" stroke="#ff9a00" stroke-width="0.9"/>
<path d="M615.5,362.5 616.2,362.7 616.8,362.8 617.5,362.9 618.2,362.9 618.8,363.0 619.5,363.1 620.2,363.1 620.8,363.1 621.5,363.2 622.2,363.2 622.8,363.2 623.5,363.2 624.2,363.1 624.8,363.1 625.5,363.1 626.2,363.0 626.8,363.0 627.5,362.9 628.2,362.9 628.8,362.8 629.5,362.8 630.2,362.7 630.8,362.6 631.5,362.5 631.5,362.5 630.8,362.4 630.2,362.3 629.5,362.2 628.8,362.2 628.2,362.1 627.5,362.1 626.8,362.0 626.2,362.0 625.5,361.9 624.8,361.9 624.2,361.9 623.5,361.8 622.8,361.8 622.2,361.8 621.5,361.8 620.8,361.9 620.2,361.9 619.5,361.9 618.8,362.0 618.2,362.1 617.5,362.1 616.8,362.2 616.2,362.3 615.5,362.5ZM609.8,352.5 610.2,352.0 610.6,351.5 611.1,351.0 611.5,350.4 611.8,349.9 612.2,349.4 612.6,348.8 613.0,348.2 613.3,347.7 613.7,347.1 614.0,346.5 614.3,345.9 614.6,345.4 615.0,344.8 615.3,344.2 615.6,343.6 615.8,343.0 616.1,342.4 616.4,341.8 616.7,341.2 617.0,340.5 617.2,339.9 617.5,339.3 617.8,338.7 617.7,338.7 617.3,339.2 616.9,339.7 616.5,340.3 616.1,340.8 615.7,341.4 615.4,341.9 615.0,342.5 614.6,343.0 614.2,343.6 613.9,344.1 613.5,344.7 613.2,345.3 612.8,345.9 612.5,346.4 612.2,347.0 611.9,347.6 611.6,348.2 611.3,348.8 611.0,349.4 610.7,350.0 610.4,350.6 610.2,351.3 609.9,351.9 609.8,352.5ZM598.2,352.5 598.1,351.9 597.8,351.3 597.6,350.6 597.3,350.0 597.0,349.4 596.7,348.8 596.4,348.2 596.1,347.6 595.8,347.0 595.5,346.4 595.2,345.9 594.8,345.3 594.5,344.7 594.1,344.1 593.8,343.6 593.4,343.0 593.0,342.5 592.6,341.9 592.3,341.4 591.9,340.8 591.5,340.3 591.1,339.7 590.7,339.2 590.3,338.7 590.2,338.7 590.5,339.3 590.8,339.9 591.0,340.5 591.3,341.2 591.6,341.8 591.9,342.4 592.2,343.0 592.4,343.6 592.7,344.2 593.0,344.8 593.4,345.4 593.7,345.9 594.0,346.5 594.3,347.1 594.7,347.7 595.0,348.2 595.4,348.8 595.8,349.4 596.2,349.9 596.5,350.4 596.9,351.0 597.4,351.5 597.8,352.0 598.2,352.5ZM592.5,362.5 591.8,362.3 591.2,362.2 590.5,362.1 589.8,362.1 589.2,362.0 588.5,361.9 587.8,361.9 587.2,361.9 586.5,361.8 585.8,361.8 585.2,361.8 584.5,361.8 583.8,361.9 583.2,361.9 582.5,361.9 581.8,362.0 581.2,362.0 580.5,362.1 579.8,362.1 579.2,362.2 578.5,362.2 577.8,362.3 577.2,362.4 576.5,362.5 576.5,362.5 577.2,362.6 577.8,362.7 578.5,362.8 579.2,362.8 579.8,362.9 580.5,362.9 581.2,363.0 581.8,363.0 582.5,363.1 583.2,363.1 583.8,363.1 584.5,363.2 585.2,363.2 585.8,363.2 586.5,363.2 587.2,363.1 587.8,363.1 588.5,363.1 589.2,363.0 589.8,362.9 590.5,362.9 591.2,362.8 591.8,362.7 592.5,362.5ZM598.2,372.5 597.8,373.0 597.4,373.5 596.9,374.0 596.5,374.6 596.2,375.1 595.8,375.6 595.4,376.2 595.0,376.8 594.7,377.3 594.3,377.9 594.0,378.5 593.7,379.1 593.4,379.6 593.0,380.2 592.7,380.8 592.4,381.4 592.2,382.0 591.9,382.6 591.6,383.2 591.3,383.8 591.0,384.5 590.8,385.1 590.5,385.7 590.2,386.3 590.3,386.3 590.7,385.8 591.1,385.3 591.5,384.7 591.9,384.2 592.3,383.6 592.6,383.1 593.0,382.5 593.4,382.0 593.8,381.4 594.1,380.9 594.5,380.3 594.8,379.7 595.2,379.1 595.5,378.6 595.8,378.0 596.1,377.4 596.4,376.8 596.7,376.2 597.0,375.6 597.3,375.0 597.6,374.4 597.8,373.7 598.1,373.1 598.2,372.5ZM609.8,372.5 609.9,373.1 610.2,373.7 610.4,374.4 610.7,375.0 611.0,375.6 611.3,376.2 611.6,376.8 611.9,377.4 612.2,378.0 612.5,378.6 612.8,379.1 613.2,379.7 613.5,380.3 613.9,380.9 614.2,381.4 614.6,382.0 615.0,382.5 615.4,383.1 615.7,383.6 616.1,384.2 616.5,384.7 616.9,385.3 617.3,385.8 617.7,386.3 617.8,386.3 617.5,385.7 617.2,385.1 617.0,384.5 616.7,383.8 616.4,383.2 616.1,382.6 615.8,382.0 615.6,381.4 615.3,380.8 615.0,380.2 614.6,379.6 614.3,379.1 614.0,378.5 613.7,377.9 613.3,377.3 613.0,376.8 612.6,376.2 612.2,375.6 611.8,375.1 611.5,374.6 611.1,374.0 610.6,373.5 610.2,373.0 609.8,372.5Z" fill="none" stroke="#ff2a10" stroke-width="0.9"/>
<line x1="663.93" y1="362.50" x2="544.07" y2="362.50" stroke="#1a1a1a" stroke-width="1" stroke-dasharray="5 2.6"/>
<line x1="663.93" y1="327.90" x2="544.07" y2="397.10" stroke="#1a1a1a" stroke-width="1" stroke-dasharray="5 2.6"/>
<line x1="633.96" y1="310.60" x2="574.04" y2="414.40" stroke="#1a1a1a" stroke-width="1" stroke-dasharray="5 2.6"/>
<line x1="574.04" y1="310.60" x2="633.96" y2="414.40" stroke="#1a1a1a" stroke-width="1" stroke-dasharray="5 2.6"/>
<line x1="544.07" y1="327.90" x2="663.93" y2="397.10" stroke="#1a1a1a" stroke-width="1" stroke-dasharray="5 2.6"/>
<line x1="604.00" y1="293.30" x2="604.00" y2="431.70" stroke="#777" stroke-width="1.1" stroke-dasharray="5 2.6"/>
<circle cx="604.00" cy="362.50" r="4.8" fill="#a8dcff" stroke="#f05535" stroke-width="1.2"/>
<circle cx="604.00" cy="362.50" r="2.1" fill="#111"/>
<rect x="557.6" y="317.4" width="90.40" height="90.40" fill="none" stroke="#c41616" stroke-width="1.6"/>
<text x="596.25" y="291.90" font-family='"Liberation Sans", sans-serif' font-size="12.2" textLength="13.05" lengthAdjust="spacingAndGlyphs" >K′</text>
<line x1="598.10" y1="281.30" x2="605.30" y2="281.30" stroke="#000" stroke-width="0.9" />
<text x="562.27" y="305.30" font-family='"Liberation Sans", sans-serif' font-size="12.2" textLength="12.45" lengthAdjust="spacingAndGlyphs" >M</text>
<line x1="564.10" y1="295.30" x2="571.30" y2="295.30" stroke="#000" stroke-width="0.9" />
<text x="633.90" y="308.90" font-family='"Liberation Sans", sans-serif' font-size="12.2" textLength="13.20" lengthAdjust="spacingAndGlyphs" >M</text>
<line x1="635.80" y1="298.90" x2="643.00" y2="298.90" stroke="#000" stroke-width="0.9" />
<text x="526.31" y="329.50" font-family='"Liberation Sans", sans-serif' font-size="12.2" textLength="9.66" lengthAdjust="spacingAndGlyphs" >K</text>
<line x1="528.10" y1="319.70" x2="535.30" y2="319.70" stroke="#000" stroke-width="0.9" />
<text x="670.77" y="332.30" font-family='"Liberation Sans", sans-serif' font-size="12.2" textLength="10.01" lengthAdjust="spacingAndGlyphs" >K</text>
<line x1="672.60" y1="322.10" x2="679.80" y2="322.10" stroke="#000" stroke-width="0.9" />
<text x="524.25" y="371.10" font-family='"Liberation Sans", sans-serif' font-size="12.2" textLength="12.70" lengthAdjust="spacingAndGlyphs" >M</text>
<line x1="526.10" y1="360.10" x2="533.30" y2="360.10" stroke="#000" stroke-width="0.9" />
<text x="667.33" y="368.70" font-family='"Liberation Sans", sans-serif' font-size="12.2" textLength="12.95" lengthAdjust="spacingAndGlyphs" >M</text>
<line x1="669.20" y1="357.70" x2="676.40" y2="357.70" stroke="#000" stroke-width="0.9" />
<text x="525.57" y="405.50" font-family='"Liberation Sans", sans-serif' font-size="12.2" textLength="12.82" lengthAdjust="spacingAndGlyphs" >K′</text>
<line x1="527.40" y1="393.40" x2="534.60" y2="393.40" stroke="#000" stroke-width="0.9" />
<text x="669.52" y="406.90" font-family='"Liberation Sans", sans-serif' font-size="12.2" textLength="13.39" lengthAdjust="spacingAndGlyphs" >K′</text>
<line x1="671.40" y1="396.90" x2="678.60" y2="396.90" stroke="#000" stroke-width="0.9" />
<text x="560.82" y="430.10" font-family='"Liberation Sans", sans-serif' font-size="12.2" textLength="11.95" lengthAdjust="spacingAndGlyphs" >M</text>
<line x1="562.60" y1="419.10" x2="569.80" y2="419.10" stroke="#000" stroke-width="0.9" />
<text x="631.73" y="428.90" font-family='"Liberation Sans", sans-serif' font-size="12.2" textLength="12.95" lengthAdjust="spacingAndGlyphs" >M</text>
<line x1="633.60" y1="417.90" x2="640.80" y2="417.90" stroke="#000" stroke-width="0.9" />
<text x="598.00" y="444.90" font-family='"Liberation Sans", sans-serif' font-size="12.2" textLength="9.78" lengthAdjust="spacingAndGlyphs" >K</text>
<line x1="599.80" y1="434.70" x2="607.00" y2="434.70" stroke="#000" stroke-width="0.9" />
<text x="596.43" y="378.80" font-family='"Liberation Serif", serif' font-size="12.5" textLength="7.38" lengthAdjust="spacingAndGlyphs" >Γ</text>
<line x1="597.40" y1="369.10" x2="603.40" y2="369.10" stroke="#000" stroke-width="0.8" />
<text x="82.72" y="669.80" font-family='"Liberation Sans", sans-serif' font-size="7.6" textLength="14.75" lengthAdjust="spacingAndGlyphs" >-0.3</text>
<line x1="121.14" y1="658.90" x2="121.14" y2="653.40" stroke="#333" stroke-width="1" />
<text x="113.42" y="669.80" font-family='"Liberation Sans", sans-serif' font-size="7.6" textLength="14.81" lengthAdjust="spacingAndGlyphs" >-0.2</text>
<line x1="151.87" y1="658.90" x2="151.87" y2="653.40" stroke="#333" stroke-width="1" />
<text x="144.03" y="670.20" font-family='"Liberation Sans", sans-serif' font-size="7.6" textLength="14.59" lengthAdjust="spacingAndGlyphs" >-0.1</text>
<line x1="182.60" y1="658.90" x2="182.60" y2="653.40" stroke="#333" stroke-width="1" />
<text x="176.15" y="670.20" font-family='"Liberation Sans", sans-serif' font-size="7.6" textLength="12.40" lengthAdjust="spacingAndGlyphs" >0.0</text>
<line x1="213.33" y1="658.90" x2="213.33" y2="653.40" stroke="#333" stroke-width="1" />
<text x="207.57" y="670.20" font-family='"Liberation Sans", sans-serif' font-size="7.6" textLength="11.64" lengthAdjust="spacingAndGlyphs" >0.1</text>
<line x1="244.06" y1="658.90" x2="244.06" y2="653.40" stroke="#333" stroke-width="1" />
<text x="238.27" y="670.20" font-family='"Liberation Sans", sans-serif' font-size="7.6" textLength="11.65" lengthAdjust="spacingAndGlyphs" >0.2</text>
<text x="268.97" y="670.20" font-family='"Liberation Sans", sans-serif' font-size="7.6" textLength="11.59" lengthAdjust="spacingAndGlyphs" >0.3</text>
<text x="75.79" y="661.50" font-family='"Liberation Sans", sans-serif' font-size="7.6" textLength="11.13" lengthAdjust="spacingAndGlyphs" >0.0</text>
<line x1="90.50" y1="626.52" x2="95.70" y2="626.52" stroke="#333" stroke-width="1" />
<text x="75.79" y="629.10" font-family='"Liberation Sans", sans-serif' font-size="7.6" textLength="11.21" lengthAdjust="spacingAndGlyphs" >0.1</text>
<line x1="90.50" y1="594.15" x2="95.70" y2="594.15" stroke="#333" stroke-width="1" />
<text x="75.79" y="596.70" font-family='"Liberation Sans", sans-serif' font-size="7.6" textLength="11.22" lengthAdjust="spacingAndGlyphs" >0.2</text>
<line x1="90.50" y1="561.77" x2="95.70" y2="561.77" stroke="#333" stroke-width="1" />
<text x="75.79" y="564.40" font-family='"Liberation Sans", sans-serif' font-size="7.6" textLength="11.17" lengthAdjust="spacingAndGlyphs" >0.3</text>
<text x="75.78" y="531.90" font-family='"Liberation Sans", sans-serif' font-size="7.6" textLength="11.46" lengthAdjust="spacingAndGlyphs" >0.4</text>
<path d="M90.6,626.4 92.4,630.1 96.0,632.3 100.4,630.1 104.1,625.7 106.2,625.0 108.4,622.8 109.9,619.1 111.4,624.2 113.5,630.1 115.7,635.9 118.7,638.1 120.8,638.1 122.3,634.5 123.8,638.8 126.7,639.6 128.9,635.2 130.3,639.6 133.3,644.7 137.6,645.4 142.0,645.4 144.9,641.8 146.4,634.5 148.6,632.3 149.3,627.9 150.8,633.7 153.0,633.0 155.2,631.5 156.6,633.7 162.5,632.3 163.9,619.1 165.4,624.2 167.6,616.9 169.8,603.8 171.9,614.0 174.1,624.2 175.6,625.0 177.0,619.1 181.4,619.9 185.8,620.3 187.3,616.2 191.7,616.2 201.9,617.2 202.6,616.9 203.4,633.0 207.7,630.1 209.9,627.9 212.1,631.5 223.8,632.3 238.4,629.3 253.0,625.0 261.8,620.6 269.1,614.0 271.2,607.4 272.7,608.2 274.9,615.2" fill="none" stroke="#ff2a2a" stroke-width="1.15" stroke-linejoin="round"/>
<path d="M90.6,630.1 92.4,635.2 96.8,638.8 101.1,635.9 103.3,633.0 104.8,596.5 106.2,624.2 109.9,625.7 111.4,621.3 113.5,628.6 116.5,635.9 118.7,637.4 119.4,626.4 120.1,643.9 124.5,643.2 129.6,641.8 131.1,645.4 132.5,631.5 133.3,646.9 137.6,647.6 140.6,645.4 142.7,643.9 144.2,634.5 146.4,633.0 149.3,636.6 153.7,634.5 158.1,634.5 161.0,635.9 163.9,628.6 166.8,619.9 168.3,600.9 169.8,621.3 171.2,625.7 175.6,631.5 179.2,635.2 180.7,630.1 184.4,630.1 188.0,629.3 197.5,629.8 199.0,641.0 201.2,638.1 202.6,641.8 209.2,642.5 223.8,641.0 238.4,638.8 253.0,635.9 267.6,631.5 274.9,628.6" fill="none" stroke="#22a055" stroke-width="1.15" stroke-linejoin="round"/>
<path d="M90.6,599.4 94.6,594.7 96.8,599.4 100.4,606.7 104.1,605.3 105.5,588.5 107.7,614.7 110.6,607.4 112.1,614.7 114.3,609.6 117.2,621.3 119.4,625.0 123.0,622.8 126.0,630.1 127.4,612.6 129.6,618.4 134.7,619.9 136.9,614.0 138.4,618.4 140.6,614.7 146.4,610.4 149.3,614.0 152.2,611.1 156.6,610.4 159.5,606.7 162.5,600.9 164.6,592.1 166.1,574.8 167.6,586.3 169.8,600.9 175.6,611.1 177.0,614.7 179.2,602.3 182.9,603.1 185.8,602.6 188.0,600.9 189.5,590.7 192.4,586.3 194.6,573.9 196.1,596.5 197.5,611.1 201.9,616.2 209.2,617.7 216.5,616.9 223.8,614.0 231.1,606.7 235.5,596.5 237.7,584.1 239.1,586.3 240.6,596.5 245.7,605.3 253.0,610.4 261.8,613.3 269.1,614.7 274.9,615.2" fill="none" stroke="#2222ff" stroke-width="1.15" stroke-linejoin="round"/>
<path d="M90.5,529.4 L275.0,529.4" stroke="#333" stroke-width="1.2" fill="none"/>
<path d="M275.0,529.4 L275.0,658.9" stroke="#777" stroke-width="1.5" fill="none"/>
<path d="M90.5,529.4 L90.5,658.9 L275.0,658.9" stroke="#444" stroke-width="1.4" fill="none"/>
<line x1="230.90" y1="543.60" x2="245.00" y2="543.60" stroke="#ff2a2a" stroke-width="1.2" />
<text x="248.48" y="546.00" font-family='"Liberation Sans", sans-serif' font-size="7.6" textLength="10.03" lengthAdjust="spacingAndGlyphs" >AA</text>
<line x1="230.90" y1="552.60" x2="245.00" y2="552.60" stroke="#2222ff" stroke-width="1.2" />
<text x="248.48" y="554.80" font-family='"Liberation Sans", sans-serif' font-size="7.6" textLength="10.43" lengthAdjust="spacingAndGlyphs" >AB</text>
<line x1="230.90" y1="561.20" x2="245.00" y2="561.20" stroke="#22a055" stroke-width="1.2" />
<text x="248.48" y="563.50" font-family='"Liberation Sans", sans-serif' font-size="7.6" textLength="10.71" lengthAdjust="spacingAndGlyphs" >AC</text>
<line x1="165.70" y1="561.70" x2="165.70" y2="569.70" stroke="#000" stroke-width="2.3"/>
<path d="M162.10,569.20 L169.30,569.20 L165.70,574.80Z" fill="#000"/>
<line x1="168.30" y1="589.10" x2="168.30" y2="598.30" stroke="#000" stroke-width="2.3"/>
<path d="M164.70,597.80 L171.90,597.80 L168.30,603.40Z" fill="#000"/>
<line x1="171.90" y1="589.10" x2="171.90" y2="598.30" stroke="#000" stroke-width="2.3"/>
<path d="M168.30,597.80 L175.50,597.80 L171.90,603.40Z" fill="#000"/>
<g transform="translate(65.50,659.80) rotate(-90)"><text x="0" y="0" font-family='"Liberation Sans", sans-serif' font-size="10" textLength="126.80" lengthAdjust="spacingAndGlyphs">PDOS of top Sb atom (eV<tspan font-size="6.5" dy="-4">-1</tspan><tspan dy="4">)</tspan></text></g>
<text x="160.40" y="687.00" font-family='"Liberation Sans", sans-serif' font-size="10" textLength="44.60" lengthAdjust="spacingAndGlyphs">E-E<tspan font-size="7.6">F</tspan> (eV)</text>
<text x="377.10" y="674.70" font-family='"Liberation Sans", sans-serif' font-size="7.6" textLength="15.70" lengthAdjust="spacingAndGlyphs" >-0.3</text>
<line x1="415.34" y1="662.80" x2="415.34" y2="657.30" stroke="#333" stroke-width="1" />
<text x="407.60" y="674.70" font-family='"Liberation Sans", sans-serif' font-size="7.6" textLength="15.76" lengthAdjust="spacingAndGlyphs" >-0.2</text>
<line x1="445.57" y1="662.80" x2="445.57" y2="657.30" stroke="#333" stroke-width="1" />
<text x="437.63" y="674.60" font-family='"Liberation Sans", sans-serif' font-size="7.6" textLength="14.48" lengthAdjust="spacingAndGlyphs" >-0.1</text>
<line x1="475.80" y1="662.80" x2="475.80" y2="657.30" stroke="#333" stroke-width="1" />
<text x="469.45" y="674.60" font-family='"Liberation Sans", sans-serif' font-size="7.6" textLength="12.40" lengthAdjust="spacingAndGlyphs" >0.0</text>
<line x1="506.03" y1="662.80" x2="506.03" y2="657.30" stroke="#333" stroke-width="1" />
<text x="499.77" y="674.60" font-family='"Liberation Sans", sans-serif' font-size="7.6" textLength="11.85" lengthAdjust="spacingAndGlyphs" >0.1</text>
<line x1="536.26" y1="662.80" x2="536.26" y2="657.30" stroke="#333" stroke-width="1" />
<text x="529.97" y="674.60" font-family='"Liberation Sans", sans-serif' font-size="7.6" textLength="11.86" lengthAdjust="spacingAndGlyphs" >0.2</text>
<text x="560.47" y="674.60" font-family='"Liberation Sans", sans-serif' font-size="7.6" textLength="11.81" lengthAdjust="spacingAndGlyphs" >0.3</text>
<text x="369.25" y="665.90" font-family='"Liberation Sans", sans-serif' font-size="7.6" textLength="12.61" lengthAdjust="spacingAndGlyphs" >0.0</text>
<line x1="385.20" y1="630.85" x2="390.40" y2="630.85" stroke="#333" stroke-width="1" />
<text x="369.25" y="634.00" font-family='"Liberation Sans", sans-serif' font-size="7.6" textLength="12.39" lengthAdjust="spacingAndGlyphs" >0.1</text>
<line x1="385.20" y1="598.90" x2="390.40" y2="598.90" stroke="#333" stroke-width="1" />
<text x="369.25" y="602.00" font-family='"Liberation Sans", sans-serif' font-size="7.6" textLength="12.39" lengthAdjust="spacingAndGlyphs" >0.2</text>
<line x1="385.20" y1="566.95" x2="390.40" y2="566.95" stroke="#333" stroke-width="1" />
<text x="369.25" y="570.10" font-family='"Liberation Sans", sans-serif' font-size="7.6" textLength="12.34" lengthAdjust="spacingAndGlyphs" >0.3</text>
<text x="369.47" y="537.90" font-family='"Liberation Sans", sans-serif' font-size="7.6" textLength="11.67" lengthAdjust="spacingAndGlyphs" >0.4</text>
<path d="M385.2,625.0 387.4,627.2 391.8,627.9 396.1,628.6 400.5,630.1 402.7,626.4 404.2,612.6 405.6,619.9 407.1,624.2 410.0,624.2 412.2,622.0 413.7,619.9 415.1,625.7 416.6,615.5 418.8,614.0 421.0,608.9 422.4,599.4 423.9,621.3 426.1,630.1 429.7,633.0 432.6,633.0 434.1,627.2 435.6,637.4 438.5,633.0 441.4,634.5 444.3,637.4 447.2,638.8 451.6,635.9 454.5,633.0 456.7,637.4 458.9,630.1 461.8,624.2 464.8,615.5 467.7,608.2 469.9,595.8 472.1,608.2 474.4,614.7 479.7,618.3 487.0,622.0 494.2,623.1 496.2,621.9 497.9,624.3 499.1,637.7 513.6,637.0 528.2,634.0 537.8,629.2 540.3,612.2 541.5,597.7 543.2,602.5 545.1,609.8 547.5,620.7 554.8,625.6 566.9,629.7" fill="none" stroke="#ff2a2a" stroke-width="1.15" stroke-linejoin="round"/>
<path d="M385.2,623.5 388.8,624.2 393.2,625.7 395.4,620.6 396.9,625.0 398.3,624.2 399.8,628.6 402.4,627.2 403.9,566.8 405.0,600.0 405.6,618.4 407.1,625.7 410.0,630.1 413.7,627.2 416.6,633.0 419.5,635.2 425.3,634.5 426.8,622.8 428.3,628.6 431.2,633.0 437.0,631.5 441.4,630.8 445.8,627.9 450.2,627.2 454.5,624.2 457.5,624.2 460.4,619.1 464.0,614.0 465.5,603.8 467.2,582.3 469.1,592.1 472.1,598.0 476.4,600.1 478.6,599.4 481.2,582.6 483.3,595.3 487.0,605.0 491.8,609.8 493.0,631.6 501.5,632.8 511.2,630.4 520.9,624.3 528.2,614.7 533.0,602.5 534.5,595.3 535.9,607.4 540.3,618.3 547.5,624.3 557.2,628.0 566.9,629.7" fill="none" stroke="#2222ff" stroke-width="1.15" stroke-linejoin="round"/>
<path d="M385.2,634.5 387.4,638.1 394.7,638.8 400.5,638.8 404.9,637.4 409.3,639.6 410.7,642.5 412.2,638.8 414.4,635.2 415.8,644.7 418.0,637.4 419.5,631.5 421.7,630.1 422.7,609.6 423.9,625.7 425.3,634.5 428.3,637.4 430.4,643.9 431.9,635.9 433.4,634.5 434.8,640.3 435.6,635.9 436.3,641.8 437.7,646.9 439.9,644.7 444.3,643.9 447.2,643.2 448.0,640.3 450.2,643.9 453.1,642.5 458.9,639.6 464.8,634.5 469.1,627.2 471.3,618.4 472.8,603.8 474.2,574.6 474.8,555.5 475.6,555.5 476.3,597.7 478.5,626.8 480.9,645.0 485.8,642.5 489.4,638.9 491.8,642.5 506.3,641.3 518.5,638.9 528.2,634.0 533.0,626.8 534.9,602.5 536.1,601.3 537.8,617.1 542.7,621.9 547.5,625.6 548.7,575.9 550.0,578.3 553.6,588.0 556.0,589.2 557.7,565.0 562.1,561.3 566.9,554.1" fill="none" stroke="#22a055" stroke-width="1.15" stroke-linejoin="round"/>
<path d="M385.2,535.2 L566.9,535.2" stroke="#6a6a6a" stroke-width="1.2" fill="none"/>
<path d="M566.9,535.2 L566.9,662.8" stroke="#6a6a6a" stroke-width="1.5" fill="none"/>
<path d="M385.2,535.2 L385.2,662.8 L566.9,662.8" stroke="#6a6a6a" stroke-width="1.4" fill="none"/>
<line x1="500.30" y1="555.30" x2="514.80" y2="555.30" stroke="#ff2a2a" stroke-width="1.2" />
<text x="519.68" y="558.20" font-family='"Liberation Sans", sans-serif' font-size="7.6" textLength="10.03" lengthAdjust="spacingAndGlyphs" >AA</text>
<line x1="500.30" y1="565.00" x2="514.80" y2="565.00" stroke="#2222ff" stroke-width="1.2" />
<text x="519.68" y="567.90" font-family='"Liberation Sans", sans-serif' font-size="7.6" textLength="10.43" lengthAdjust="spacingAndGlyphs" >AB</text>
<line x1="500.30" y1="575.20" x2="514.80" y2="575.20" stroke="#22a055" stroke-width="1.2" />
<text x="519.68" y="577.80" font-family='"Liberation Sans", sans-serif' font-size="7.6" textLength="10.71" lengthAdjust="spacingAndGlyphs" >AC</text>
<line x1="474.40" y1="542.10" x2="474.40" y2="550.10" stroke="#000" stroke-width="2.3"/>
<path d="M470.80,549.60 L478.00,549.60 L474.40,555.20Z" fill="#000"/>
<line x1="481.80" y1="564.30" x2="481.80" y2="572.30" stroke="#000" stroke-width="2.3"/>
<path d="M478.20,571.80 L485.40,571.80 L481.80,577.40Z" fill="#000"/>
<line x1="465.40" y1="570.90" x2="465.40" y2="579.40" stroke="#000" stroke-width="2.3"/>
<path d="M461.80,578.90 L469.00,578.90 L465.40,584.50Z" fill="#000"/>
<line x1="470.90" y1="581.00" x2="470.90" y2="589.50" stroke="#000" stroke-width="2.3"/>
<path d="M467.30,589.00 L474.50,589.00 L470.90,594.60Z" fill="#000"/>
<g transform="translate(358.20,663.90) rotate(-90)"><text x="0" y="0" font-family='"Liberation Sans", sans-serif' font-size="10" textLength="127.00" lengthAdjust="spacingAndGlyphs">PDOS of top Sb atom (eV<tspan font-size="6.5" dy="-4">-1</tspan><tspan dy="4">)</tspan></text></g>
<text x="455.80" y="690.90" font-family='"Liberation Sans", sans-serif' font-size="10" textLength="44.30" lengthAdjust="spacingAndGlyphs">E-E<tspan font-size="7.6">F</tspan> (eV)</text>
</svg></body></html>
